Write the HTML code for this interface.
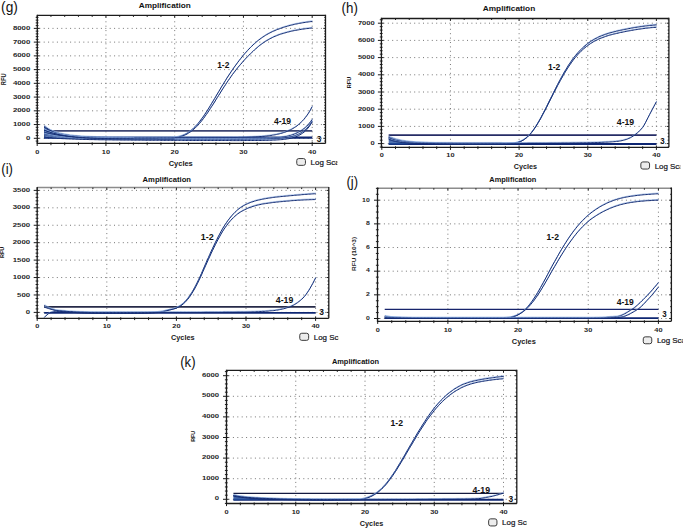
<!DOCTYPE html>
<html><head><meta charset="utf-8"><style>
html,body{margin:0;padding:0;background:#fff;width:685px;height:528px;overflow:hidden}
svg{display:block}
text{font-family:"Liberation Sans", sans-serif}
</style></head><body>
<svg width="685" height="528" viewBox="0 0 685 528" font-family='"Liberation Sans", sans-serif'>
<rect width="685" height="528" fill="#ffffff"/>
<text x="1.1" y="11.7" font-size="14.6" text-anchor="start" font-weight="normal" fill="#111" textLength="16.8" lengthAdjust="spacingAndGlyphs">(g)</text>
<text x="138.7" y="8.2" font-size="7.5" text-anchor="start" font-weight="bold" fill="#111" textLength="52.1" lengthAdjust="spacingAndGlyphs">Amplification</text>
<path d="M105.95,16.9 V142.9 M174.7,16.9 V142.9 M243.45,16.9 V142.9 M312.2,16.9 V142.9 M39.3,138.3 H324.5 M39.3,124.56 H324.5 M39.3,110.82 H324.5 M39.3,97.08 H324.5 M39.3,83.34 H324.5 M39.3,69.6 H324.5 M39.3,55.86 H324.5 M39.3,42.12 H324.5 M39.3,28.38 H324.5" stroke="#767676" stroke-width="1" stroke-dasharray="1 3.4" fill="none"/>
<path d="M37.3,15.4 H325.5" stroke="#1c1c1c" stroke-width="1.3" fill="none"/>
<path d="M325.5,14.75 V143.4 M37.3,14.75 V143.4 H325.5" stroke="#1c1c1c" stroke-width="1.3" fill="none"/>
<path d="M35.7,141.05 H38.5 M324.3,141.05 H325.5 M33.8,138.3 H39.5 M323.3,138.3 H325.5 M35.7,135.55 H38.5 M324.3,135.55 H325.5 M35.7,132.8 H38.5 M324.3,132.8 H325.5 M35.7,130.06 H38.5 M324.3,130.06 H325.5 M35.7,127.31 H38.5 M324.3,127.31 H325.5 M33.8,124.56 H39.5 M323.3,124.56 H325.5 M35.7,121.81 H38.5 M324.3,121.81 H325.5 M35.7,119.06 H38.5 M324.3,119.06 H325.5 M35.7,116.32 H38.5 M324.3,116.32 H325.5 M35.7,113.57 H38.5 M324.3,113.57 H325.5 M33.8,110.82 H39.5 M323.3,110.82 H325.5 M35.7,108.07 H38.5 M324.3,108.07 H325.5 M35.7,105.32 H38.5 M324.3,105.32 H325.5 M35.7,102.58 H38.5 M324.3,102.58 H325.5 M35.7,99.83 H38.5 M324.3,99.83 H325.5 M33.8,97.08 H39.5 M323.3,97.08 H325.5 M35.7,94.33 H38.5 M324.3,94.33 H325.5 M35.7,91.58 H38.5 M324.3,91.58 H325.5 M35.7,88.84 H38.5 M324.3,88.84 H325.5 M35.7,86.09 H38.5 M324.3,86.09 H325.5 M33.8,83.34 H39.5 M323.3,83.34 H325.5 M35.7,80.59 H38.5 M324.3,80.59 H325.5 M35.7,77.84 H38.5 M324.3,77.84 H325.5 M35.7,75.1 H38.5 M324.3,75.1 H325.5 M35.7,72.35 H38.5 M324.3,72.35 H325.5 M33.8,69.6 H39.5 M323.3,69.6 H325.5 M35.7,66.85 H38.5 M324.3,66.85 H325.5 M35.7,64.1 H38.5 M324.3,64.1 H325.5 M35.7,61.36 H38.5 M324.3,61.36 H325.5 M35.7,58.61 H38.5 M324.3,58.61 H325.5 M33.8,55.86 H39.5 M323.3,55.86 H325.5 M35.7,53.11 H38.5 M324.3,53.11 H325.5 M35.7,50.36 H38.5 M324.3,50.36 H325.5 M35.7,47.62 H38.5 M324.3,47.62 H325.5 M35.7,44.87 H38.5 M324.3,44.87 H325.5 M33.8,42.12 H39.5 M323.3,42.12 H325.5 M35.7,39.37 H38.5 M324.3,39.37 H325.5 M35.7,36.62 H38.5 M324.3,36.62 H325.5 M35.7,33.88 H38.5 M324.3,33.88 H325.5 M35.7,31.13 H38.5 M324.3,31.13 H325.5 M33.8,28.38 H39.5 M323.3,28.38 H325.5 M35.7,25.63 H38.5 M324.3,25.63 H325.5 M35.7,22.88 H38.5 M324.3,22.88 H325.5 M35.7,20.14 H38.5 M324.3,20.14 H325.5 M35.7,17.39 H38.5 M324.3,17.39 H325.5 M37.2,141.6 V146 M37.2,15.4 V17.6 M50.95,142.4 V145.2 M50.95,15.4 V16.9 M64.7,142.4 V145.2 M64.7,15.4 V16.9 M78.45,142.4 V145.2 M78.45,15.4 V16.9 M92.2,142.4 V145.2 M92.2,15.4 V16.9 M105.95,141.6 V146 M105.95,15.4 V17.6 M119.7,142.4 V145.2 M119.7,15.4 V16.9 M133.45,142.4 V145.2 M133.45,15.4 V16.9 M147.2,142.4 V145.2 M147.2,15.4 V16.9 M160.95,142.4 V145.2 M160.95,15.4 V16.9 M174.7,141.6 V146 M174.7,15.4 V17.6 M188.45,142.4 V145.2 M188.45,15.4 V16.9 M202.2,142.4 V145.2 M202.2,15.4 V16.9 M215.95,142.4 V145.2 M215.95,15.4 V16.9 M229.7,142.4 V145.2 M229.7,15.4 V16.9 M243.45,141.6 V146 M243.45,15.4 V17.6 M257.2,142.4 V145.2 M257.2,15.4 V16.9 M270.95,142.4 V145.2 M270.95,15.4 V16.9 M284.7,142.4 V145.2 M284.7,15.4 V16.9 M298.45,142.4 V145.2 M298.45,15.4 V16.9 M312.2,141.6 V146 M312.2,15.4 V17.6" stroke="#1c1c1c" stroke-width="1" fill="none"/>
<text x="30.3" y="139.9" font-size="6" text-anchor="end" font-weight="bold" fill="#1e1e26" textLength="4.35" lengthAdjust="spacingAndGlyphs">0</text>
<text x="30.3" y="126.16" font-size="6" text-anchor="end" font-weight="bold" fill="#1e1e26" textLength="17.4" lengthAdjust="spacingAndGlyphs">1000</text>
<text x="30.3" y="112.42" font-size="6" text-anchor="end" font-weight="bold" fill="#1e1e26" textLength="17.4" lengthAdjust="spacingAndGlyphs">2000</text>
<text x="30.3" y="98.68" font-size="6" text-anchor="end" font-weight="bold" fill="#1e1e26" textLength="17.4" lengthAdjust="spacingAndGlyphs">3000</text>
<text x="30.3" y="84.94" font-size="6" text-anchor="end" font-weight="bold" fill="#1e1e26" textLength="17.4" lengthAdjust="spacingAndGlyphs">4000</text>
<text x="30.3" y="71.2" font-size="6" text-anchor="end" font-weight="bold" fill="#1e1e26" textLength="17.4" lengthAdjust="spacingAndGlyphs">5000</text>
<text x="30.3" y="57.46" font-size="6" text-anchor="end" font-weight="bold" fill="#1e1e26" textLength="17.4" lengthAdjust="spacingAndGlyphs">6000</text>
<text x="30.3" y="43.72" font-size="6" text-anchor="end" font-weight="bold" fill="#1e1e26" textLength="17.4" lengthAdjust="spacingAndGlyphs">7000</text>
<text x="30.3" y="29.98" font-size="6" text-anchor="end" font-weight="bold" fill="#1e1e26" textLength="17.4" lengthAdjust="spacingAndGlyphs">8000</text>
<text x="37.2" y="153.7" font-size="6.2" text-anchor="middle" font-weight="bold" fill="#1e1e26" textLength="4.1" lengthAdjust="spacingAndGlyphs">0</text>
<text x="105.95" y="153.7" font-size="6.2" text-anchor="middle" font-weight="bold" fill="#1e1e26" textLength="8.2" lengthAdjust="spacingAndGlyphs">10</text>
<text x="174.7" y="153.7" font-size="6.2" text-anchor="middle" font-weight="bold" fill="#1e1e26" textLength="8.2" lengthAdjust="spacingAndGlyphs">20</text>
<text x="243.45" y="153.7" font-size="6.2" text-anchor="middle" font-weight="bold" fill="#1e1e26" textLength="8.2" lengthAdjust="spacingAndGlyphs">30</text>
<text x="312.2" y="153.7" font-size="6.2" text-anchor="middle" font-weight="bold" fill="#1e1e26" textLength="8.2" lengthAdjust="spacingAndGlyphs">40</text>
<text x="168.7" y="166" font-size="7" text-anchor="start" font-weight="bold" fill="#1a1a1a" textLength="24.1" lengthAdjust="spacingAndGlyphs">Cycles</text>
<text transform="translate(5.8,79.25) rotate(-90)" x="0" y="0" font-size="6.3" font-weight="bold" text-anchor="middle" fill="#1a1a1a" textLength="11.9" lengthAdjust="spacingAndGlyphs">RFU</text>
<rect x="296.75" y="158.55" width="8.7" height="6.8" rx="2" fill="#ededed" stroke="#3c3c3c" stroke-width="1"/>
<clipPath id="clipg"><rect x="0" y="0" width="337.3" height="528"/></clipPath>
<g clip-path="url(#clipg)"><text x="310.6" y="164.8" font-size="8" text-anchor="start" font-weight="normal" fill="#15151c" textLength="35.2" lengthAdjust="spacingAndGlyphs" stroke="#15151c" stroke-width="0.22">Log Scale</text></g>
<path d="M44.08,130.89 H312.2" stroke="#3e4672" stroke-width="1.9" fill="none"/>
<path d="M44.08,137.61 H312.2" stroke="#0e2672" stroke-width="2.2" fill="none"/>
<path d="M44.1,126.2 L44.8,126.7 L45.5,127.2 L46.1,127.7 L46.8,128.2 L47.5,128.7 L48.2,129.2 L48.9,129.7 L49.6,130.2 L50.3,130.6 L51.0,131.0 L51.6,131.3 L52.3,131.6 L53.0,131.9 L53.7,132.2 L54.4,132.5 L55.1,132.7 L55.8,132.9 L56.5,133.1 L57.1,133.3 L57.8,133.5 L58.5,133.7 L59.2,133.8 L59.9,134.0 L60.6,134.1 L61.3,134.3 L62.0,134.4 L62.6,134.6 L63.3,134.7 L64.0,134.8 L64.7,135.0 L65.4,135.1 L66.1,135.2 L66.8,135.3 L67.5,135.4 L68.1,135.5 L68.8,135.6 L69.5,135.7 L70.2,135.8 L70.9,135.9 L71.6,136.0 L72.3,136.0 L72.9,136.1 L73.6,136.2 L74.3,136.2 L75.0,136.3 L75.7,136.4 L76.4,136.4 L77.1,136.5 L77.8,136.6 L78.4,136.6 L79.1,136.7 L79.8,136.7 L80.5,136.8 L81.2,136.8 L81.9,136.9 L82.6,136.9 L83.3,137.0 L83.9,137.0 L84.6,137.1 L85.3,137.1 L86.0,137.2 L86.7,137.2 L87.4,137.2 L88.1,137.3 L88.8,137.3 L89.4,137.4 L90.1,137.4 L90.8,137.4 L91.5,137.4 L92.2,137.5 L92.9,137.5 L93.6,137.5 L94.3,137.6 L94.9,137.6 L95.6,137.6 L96.3,137.6 L97.0,137.7 L97.7,137.7 L98.4,137.7 L99.1,137.7 L99.8,137.8 L100.4,137.8 L101.1,137.8 L101.8,137.8 L102.5,137.8 L103.2,137.9 L103.9,137.9 L104.6,137.9 L105.3,137.9 L105.9,137.9 L106.6,137.9 L107.3,138.0 L108.0,138.0 L108.7,138.0 L109.4,138.0 L110.1,138.0 L110.8,138.0 L111.4,138.0 L112.1,138.0 L112.8,138.0 L112.8,138.3 L112.1,138.3 L111.5,138.3 L110.8,138.3 L110.1,138.3 L109.4,138.3 L108.7,138.3 L108.0,138.3 L107.3,138.3 L106.6,138.3 L106.0,138.3 L105.3,138.3 L104.6,138.3 L103.9,138.3 L103.2,138.3 L102.5,138.3 L101.8,138.3 L101.1,138.3 L100.5,138.3 L99.8,138.3 L99.1,138.3 L98.4,138.3 L97.7,138.3 L97.0,138.3 L96.3,138.3 L95.6,138.3 L95.0,138.3 L94.3,138.3 L93.6,138.3 L92.9,138.3 L92.2,138.3 L91.5,138.3 L90.8,138.3 L90.1,138.3 L89.5,138.3 L88.8,138.3 L88.1,138.3 L87.4,138.3 L86.7,138.3 L86.0,138.3 L85.3,138.3 L84.6,138.3 L84.0,138.3 L83.3,138.3 L82.6,138.3 L81.9,138.3 L81.2,138.3 L80.5,138.3 L79.8,138.3 L79.1,138.3 L78.5,138.3 L77.8,138.3 L77.1,138.3 L76.4,138.3 L75.7,138.3 L75.0,138.3 L74.3,138.3 L73.6,138.3 L73.0,138.3 L72.3,138.3 L71.6,138.3 L70.9,138.3 L70.2,138.3 L69.5,138.3 L68.8,138.3 L68.1,138.3 L67.5,138.3 L66.8,138.3 L66.1,138.3 L65.4,138.3 L64.7,138.3 L64.0,138.3 L63.3,138.3 L62.6,138.3 L62.0,138.3 L61.3,138.3 L60.6,138.3 L59.9,138.3 L59.2,138.3 L58.5,138.3 L57.8,138.3 L57.1,138.3 L56.5,138.3 L55.8,138.3 L55.1,138.3 L54.4,138.3 L53.7,138.3 L53.0,138.3 L52.3,138.3 L51.6,138.3 L51.0,138.3 L50.3,138.3 L49.6,138.3 L48.9,138.3 L48.2,138.3 L47.5,138.3 L46.8,138.3 L46.1,138.3 L45.5,138.3 L44.8,138.3 L44.1,138.3Z" fill="#234f9c" opacity="0.75"/>
<path d="M44.1,130.1 L45.5,130.6 L46.8,131.1 L48.2,131.6 L49.6,132.1 L51.0,132.5 L52.3,132.9 L53.7,133.3 L55.1,133.6 L56.5,134.0 L57.8,134.3 L59.2,134.6 L60.6,134.9 L62.0,135.1 L63.3,135.4 L64.7,135.6 L66.1,135.7 L67.5,135.9 L68.8,136.1 L70.2,136.2 L71.6,136.4 L73.0,136.5 L74.3,136.7 L75.7,136.8 L77.1,136.9 L78.5,137.0 L79.8,137.1 L81.2,137.2 L82.6,137.3 L84.0,137.4 L85.3,137.5 L86.7,137.6 L88.1,137.6 L89.5,137.7 L90.8,137.8 L92.2,137.8 L93.6,137.9 L95.0,137.9 L96.3,138.0 L97.7,138.1 L99.1,138.1 L100.4,138.1 L101.8,138.2 L103.2,138.2 L104.6,138.3 L105.9,138.3 L107.3,138.3 L108.7,138.4 L110.1,138.4 L111.4,138.4 L112.8,138.5 L114.2,138.5 L115.6,138.5 L116.9,138.5 L118.3,138.6 L119.7,138.6 L121.1,138.6 L122.4,138.6 L123.8,138.6 L125.2,138.7 L126.6,138.7 L127.9,138.7 L129.3,138.7 L130.7,138.7 L132.1,138.7 L133.4,138.7 L134.8,138.7 L136.2,138.7 L137.6,138.7 L138.9,138.7 L140.3,138.7 L141.7,138.7 L143.1,138.7 L144.4,138.7 L145.8,138.7 L147.2,138.7 L148.6,138.7 L149.9,138.7 L151.3,138.6 L152.7,138.6 L154.1,138.6 L155.4,138.6 L156.8,138.6 L158.2,138.6 L159.6,138.6 L160.9,138.5 L162.3,138.5 L163.7,138.5 L165.1,138.4 L166.4,138.4 L167.8,138.3 L169.2,138.2 L170.6,138.1 L171.9,137.9 L173.3,137.8 L174.7,137.5 L176.1,137.3 L177.4,137.1 L178.8,136.7 L180.2,136.4 L181.6,135.9 L182.9,135.4 L184.3,134.8 L185.7,134.1 L187.1,133.3 L188.4,132.4 L189.8,131.5 L191.2,130.4 L192.6,129.2 L193.9,127.9 L195.3,126.5 L196.7,125.0 L198.1,123.5 L199.4,121.8 L200.8,120.0 L202.2,118.1 L203.6,116.2 L204.9,114.2 L206.3,112.1 L207.7,109.9 L209.1,107.7 L210.4,105.5 L211.8,103.2 L213.2,100.9 L214.6,98.6 L215.9,96.3 L217.3,94.0 L218.7,91.7 L220.1,89.3 L221.4,87.0 L222.8,84.8 L224.2,82.5 L225.6,80.3 L226.9,78.1 L228.3,76.0 L229.7,73.9 L231.1,71.8 L232.4,69.8 L233.8,67.8 L235.2,65.9 L236.6,64.0 L237.9,62.2 L239.3,60.4 L240.7,58.6 L242.1,56.9 L243.4,55.2 L244.8,53.6 L246.2,52.1 L247.6,50.5 L248.9,49.1 L250.3,47.7 L251.7,46.3 L253.1,45.0 L254.4,43.7 L255.8,42.5 L257.2,41.3 L258.6,40.2 L259.9,39.2 L261.3,38.2 L262.7,37.2 L264.1,36.3 L265.4,35.4 L266.8,34.6 L268.2,33.8 L269.6,33.1 L270.9,32.4 L272.3,31.7 L273.7,31.1 L275.1,30.5 L276.4,29.9 L277.8,29.4 L279.2,28.9 L280.6,28.4 L281.9,27.9 L283.3,27.4 L284.7,27.0 L286.1,26.6 L287.4,26.2 L288.8,25.8 L290.2,25.4 L291.6,25.1 L292.9,24.8 L294.3,24.4 L295.7,24.1 L297.1,23.9 L298.4,23.6 L299.8,23.3 L301.2,23.1 L302.6,22.8 L304.0,22.6 L305.3,22.4 L306.7,22.2 L308.1,22.0 L309.5,21.8 L310.8,21.6 L312.2,21.5" stroke="#8fb0e2" stroke-width="0.8" fill="none" transform="translate(0.35,-0.75)" opacity="0.9"/>
<path d="M44.1,130.1 L45.5,130.6 L46.8,131.1 L48.2,131.6 L49.6,132.1 L51.0,132.5 L52.3,132.9 L53.7,133.3 L55.1,133.6 L56.5,134.0 L57.8,134.3 L59.2,134.6 L60.6,134.9 L62.0,135.1 L63.3,135.4 L64.7,135.6 L66.1,135.7 L67.5,135.9 L68.8,136.1 L70.2,136.2 L71.6,136.4 L73.0,136.5 L74.3,136.7 L75.7,136.8 L77.1,136.9 L78.5,137.0 L79.8,137.1 L81.2,137.2 L82.6,137.3 L84.0,137.4 L85.3,137.5 L86.7,137.6 L88.1,137.6 L89.5,137.7 L90.8,137.8 L92.2,137.8 L93.6,137.9 L95.0,137.9 L96.3,138.0 L97.7,138.1 L99.1,138.1 L100.4,138.1 L101.8,138.2 L103.2,138.2 L104.6,138.3 L105.9,138.3 L107.3,138.3 L108.7,138.4 L110.1,138.4 L111.4,138.4 L112.8,138.5 L114.2,138.5 L115.6,138.5 L116.9,138.5 L118.3,138.6 L119.7,138.6 L121.1,138.6 L122.4,138.6 L123.8,138.6 L125.2,138.7 L126.6,138.7 L127.9,138.7 L129.3,138.7 L130.7,138.7 L132.1,138.7 L133.4,138.7 L134.8,138.7 L136.2,138.7 L137.6,138.7 L138.9,138.7 L140.3,138.7 L141.7,138.7 L143.1,138.7 L144.4,138.7 L145.8,138.7 L147.2,138.7 L148.6,138.7 L149.9,138.7 L151.3,138.6 L152.7,138.6 L154.1,138.6 L155.4,138.6 L156.8,138.6 L158.2,138.6 L159.6,138.6 L160.9,138.5 L162.3,138.5 L163.7,138.5 L165.1,138.4 L166.4,138.4 L167.8,138.3 L169.2,138.2 L170.6,138.1 L171.9,137.9 L173.3,137.8 L174.7,137.5 L176.1,137.3 L177.4,137.1 L178.8,136.7 L180.2,136.4 L181.6,135.9 L182.9,135.4 L184.3,134.8 L185.7,134.1 L187.1,133.3 L188.4,132.4 L189.8,131.5 L191.2,130.4 L192.6,129.2 L193.9,127.9 L195.3,126.5 L196.7,125.0 L198.1,123.5 L199.4,121.8 L200.8,120.0 L202.2,118.1 L203.6,116.2 L204.9,114.2 L206.3,112.1 L207.7,109.9 L209.1,107.7 L210.4,105.5 L211.8,103.2 L213.2,100.9 L214.6,98.6 L215.9,96.3 L217.3,94.0 L218.7,91.7 L220.1,89.3 L221.4,87.0 L222.8,84.8 L224.2,82.5 L225.6,80.3 L226.9,78.1 L228.3,76.0 L229.7,73.9 L231.1,71.8 L232.4,69.8 L233.8,67.8 L235.2,65.9 L236.6,64.0 L237.9,62.2 L239.3,60.4 L240.7,58.6 L242.1,56.9 L243.4,55.2 L244.8,53.6 L246.2,52.1 L247.6,50.5 L248.9,49.1 L250.3,47.7 L251.7,46.3 L253.1,45.0 L254.4,43.7 L255.8,42.5 L257.2,41.3 L258.6,40.2 L259.9,39.2 L261.3,38.2 L262.7,37.2 L264.1,36.3 L265.4,35.4 L266.8,34.6 L268.2,33.8 L269.6,33.1 L270.9,32.4 L272.3,31.7 L273.7,31.1 L275.1,30.5 L276.4,29.9 L277.8,29.4 L279.2,28.9 L280.6,28.4 L281.9,27.9 L283.3,27.4 L284.7,27.0 L286.1,26.6 L287.4,26.2 L288.8,25.8 L290.2,25.4 L291.6,25.1 L292.9,24.8 L294.3,24.4 L295.7,24.1 L297.1,23.9 L298.4,23.6 L299.8,23.3 L301.2,23.1 L302.6,22.8 L304.0,22.6 L305.3,22.4 L306.7,22.2 L308.1,22.0 L309.5,21.8 L310.8,21.6 L312.2,21.5" stroke="#152e75" stroke-width="1" fill="none" stroke-linejoin="round"/>
<path d="M44.1,132.1 L45.5,132.5 L46.8,132.8 L48.2,133.2 L49.6,133.5 L51.0,133.8 L52.3,134.0 L53.7,134.3 L55.1,134.6 L56.5,134.8 L57.8,135.1 L59.2,135.3 L60.6,135.5 L62.0,135.8 L63.3,135.9 L64.7,136.1 L66.1,136.3 L67.5,136.4 L68.8,136.5 L70.2,136.7 L71.6,136.8 L73.0,136.9 L74.3,137.0 L75.7,137.1 L77.1,137.3 L78.5,137.3 L79.8,137.4 L81.2,137.5 L82.6,137.6 L84.0,137.7 L85.3,137.8 L86.7,137.8 L88.1,137.9 L89.5,137.9 L90.8,138.0 L92.2,138.0 L93.6,138.1 L95.0,138.1 L96.3,138.2 L97.7,138.2 L99.1,138.3 L100.4,138.3 L101.8,138.3 L103.2,138.4 L104.6,138.4 L105.9,138.4 L107.3,138.5 L108.7,138.5 L110.1,138.5 L111.4,138.6 L112.8,138.6 L114.2,138.6 L115.6,138.6 L116.9,138.7 L118.3,138.7 L119.7,138.7 L121.1,138.7 L122.4,138.8 L123.8,138.8 L125.2,138.8 L126.6,138.8 L127.9,138.8 L129.3,138.8 L130.7,138.8 L132.1,138.8 L133.4,138.8 L134.8,138.8 L136.2,138.8 L137.6,138.8 L138.9,138.8 L140.3,138.8 L141.7,138.8 L143.1,138.8 L144.4,138.8 L145.8,138.8 L147.2,138.8 L148.6,138.8 L149.9,138.8 L151.3,138.8 L152.7,138.8 L154.1,138.8 L155.4,138.8 L156.8,138.7 L158.2,138.7 L159.6,138.7 L160.9,138.7 L162.3,138.7 L163.7,138.6 L165.1,138.6 L166.4,138.5 L167.8,138.4 L169.2,138.3 L170.6,138.2 L171.9,138.1 L173.3,137.9 L174.7,137.8 L176.1,137.6 L177.4,137.4 L178.8,137.1 L180.2,136.7 L181.6,136.3 L182.9,135.9 L184.3,135.3 L185.7,134.7 L187.1,134.0 L188.4,133.2 L189.8,132.3 L191.2,131.4 L192.6,130.3 L193.9,129.1 L195.3,127.9 L196.7,126.5 L198.1,125.1 L199.4,123.5 L200.8,121.9 L202.2,120.2 L203.6,118.4 L204.9,116.5 L206.3,114.6 L207.7,112.6 L209.1,110.5 L210.4,108.4 L211.8,106.3 L213.2,104.2 L214.6,102.0 L215.9,99.8 L217.3,97.6 L218.7,95.4 L220.1,93.2 L221.4,91.0 L222.8,88.8 L224.2,86.7 L225.6,84.6 L226.9,82.5 L228.3,80.5 L229.7,78.5 L231.1,76.5 L232.4,74.6 L233.8,72.8 L235.2,71.0 L236.6,69.2 L237.9,67.5 L239.3,65.9 L240.7,64.3 L242.1,62.7 L243.4,61.1 L244.8,59.6 L246.2,58.1 L247.6,56.7 L248.9,55.3 L250.3,53.9 L251.7,52.6 L253.1,51.3 L254.4,50.0 L255.8,48.8 L257.2,47.6 L258.6,46.4 L259.9,45.3 L261.3,44.3 L262.7,43.3 L264.1,42.3 L265.4,41.4 L266.8,40.6 L268.2,39.8 L269.6,39.0 L270.9,38.3 L272.3,37.6 L273.7,36.9 L275.1,36.3 L276.4,35.8 L277.8,35.2 L279.2,34.7 L280.6,34.2 L281.9,33.8 L283.3,33.4 L284.7,33.0 L286.1,32.6 L287.4,32.2 L288.8,31.9 L290.2,31.5 L291.6,31.2 L292.9,30.9 L294.3,30.6 L295.7,30.4 L297.1,30.1 L298.4,29.9 L299.8,29.6 L301.2,29.4 L302.6,29.2 L304.0,29.0 L305.3,28.8 L306.7,28.6 L308.1,28.5 L309.5,28.3 L310.8,28.2 L312.2,28.0" stroke="#8fb0e2" stroke-width="0.8" fill="none" transform="translate(0.35,-0.75)" opacity="0.9"/>
<path d="M44.1,132.1 L45.5,132.5 L46.8,132.8 L48.2,133.2 L49.6,133.5 L51.0,133.8 L52.3,134.0 L53.7,134.3 L55.1,134.6 L56.5,134.8 L57.8,135.1 L59.2,135.3 L60.6,135.5 L62.0,135.8 L63.3,135.9 L64.7,136.1 L66.1,136.3 L67.5,136.4 L68.8,136.5 L70.2,136.7 L71.6,136.8 L73.0,136.9 L74.3,137.0 L75.7,137.1 L77.1,137.3 L78.5,137.3 L79.8,137.4 L81.2,137.5 L82.6,137.6 L84.0,137.7 L85.3,137.8 L86.7,137.8 L88.1,137.9 L89.5,137.9 L90.8,138.0 L92.2,138.0 L93.6,138.1 L95.0,138.1 L96.3,138.2 L97.7,138.2 L99.1,138.3 L100.4,138.3 L101.8,138.3 L103.2,138.4 L104.6,138.4 L105.9,138.4 L107.3,138.5 L108.7,138.5 L110.1,138.5 L111.4,138.6 L112.8,138.6 L114.2,138.6 L115.6,138.6 L116.9,138.7 L118.3,138.7 L119.7,138.7 L121.1,138.7 L122.4,138.8 L123.8,138.8 L125.2,138.8 L126.6,138.8 L127.9,138.8 L129.3,138.8 L130.7,138.8 L132.1,138.8 L133.4,138.8 L134.8,138.8 L136.2,138.8 L137.6,138.8 L138.9,138.8 L140.3,138.8 L141.7,138.8 L143.1,138.8 L144.4,138.8 L145.8,138.8 L147.2,138.8 L148.6,138.8 L149.9,138.8 L151.3,138.8 L152.7,138.8 L154.1,138.8 L155.4,138.8 L156.8,138.7 L158.2,138.7 L159.6,138.7 L160.9,138.7 L162.3,138.7 L163.7,138.6 L165.1,138.6 L166.4,138.5 L167.8,138.4 L169.2,138.3 L170.6,138.2 L171.9,138.1 L173.3,137.9 L174.7,137.8 L176.1,137.6 L177.4,137.4 L178.8,137.1 L180.2,136.7 L181.6,136.3 L182.9,135.9 L184.3,135.3 L185.7,134.7 L187.1,134.0 L188.4,133.2 L189.8,132.3 L191.2,131.4 L192.6,130.3 L193.9,129.1 L195.3,127.9 L196.7,126.5 L198.1,125.1 L199.4,123.5 L200.8,121.9 L202.2,120.2 L203.6,118.4 L204.9,116.5 L206.3,114.6 L207.7,112.6 L209.1,110.5 L210.4,108.4 L211.8,106.3 L213.2,104.2 L214.6,102.0 L215.9,99.8 L217.3,97.6 L218.7,95.4 L220.1,93.2 L221.4,91.0 L222.8,88.8 L224.2,86.7 L225.6,84.6 L226.9,82.5 L228.3,80.5 L229.7,78.5 L231.1,76.5 L232.4,74.6 L233.8,72.8 L235.2,71.0 L236.6,69.2 L237.9,67.5 L239.3,65.9 L240.7,64.3 L242.1,62.7 L243.4,61.1 L244.8,59.6 L246.2,58.1 L247.6,56.7 L248.9,55.3 L250.3,53.9 L251.7,52.6 L253.1,51.3 L254.4,50.0 L255.8,48.8 L257.2,47.6 L258.6,46.4 L259.9,45.3 L261.3,44.3 L262.7,43.3 L264.1,42.3 L265.4,41.4 L266.8,40.6 L268.2,39.8 L269.6,39.0 L270.9,38.3 L272.3,37.6 L273.7,36.9 L275.1,36.3 L276.4,35.8 L277.8,35.2 L279.2,34.7 L280.6,34.2 L281.9,33.8 L283.3,33.4 L284.7,33.0 L286.1,32.6 L287.4,32.2 L288.8,31.9 L290.2,31.5 L291.6,31.2 L292.9,30.9 L294.3,30.6 L295.7,30.4 L297.1,30.1 L298.4,29.9 L299.8,29.6 L301.2,29.4 L302.6,29.2 L304.0,29.0 L305.3,28.8 L306.7,28.6 L308.1,28.5 L309.5,28.3 L310.8,28.2 L312.2,28.0" stroke="#152e75" stroke-width="1" fill="none" stroke-linejoin="round"/>
<path d="M44.1,127.3 L45.5,128.1 L46.8,128.9 L48.2,129.5 L49.6,130.2 L51.0,130.8 L52.3,131.3 L53.7,131.8 L55.1,132.2 L56.5,132.7 L57.8,133.1 L59.2,133.4 L60.6,133.8 L62.0,134.1 L63.3,134.3 L64.7,134.6 L66.1,134.8 L67.5,135.1 L68.8,135.3 L70.2,135.5 L71.6,135.6 L73.0,135.8 L74.3,136.0 L75.7,136.1 L77.1,136.2 L78.5,136.3 L79.8,136.4 L81.2,136.5 L82.6,136.6 L84.0,136.7 L85.3,136.8 L86.7,136.9 L88.1,136.9 L89.5,137.0 L90.8,137.1 L92.2,137.1 L93.6,137.2 L95.0,137.2 L96.3,137.3 L97.7,137.3 L99.1,137.3 L100.4,137.4 L101.8,137.4 L103.2,137.4 L104.6,137.4 L105.9,137.5 L107.3,137.5 L108.7,137.5 L110.1,137.5 L111.4,137.5 L112.8,137.6 L114.2,137.6 L115.6,137.6 L116.9,137.6 L118.3,137.6 L119.7,137.6 L121.1,137.6 L122.4,137.6 L123.8,137.6 L125.2,137.7 L126.6,137.7 L127.9,137.7 L129.3,137.7 L130.7,137.7 L132.1,137.7 L133.4,137.7 L134.8,137.7 L136.2,137.7 L137.6,137.7 L138.9,137.7 L140.3,137.7 L141.7,137.7 L143.1,137.7 L144.4,137.7 L145.8,137.7 L147.2,137.7 L148.6,137.7 L149.9,137.7 L151.3,137.7 L152.7,137.7 L154.1,137.7 L155.4,137.7 L156.8,137.7 L158.2,137.7 L159.6,137.7 L160.9,137.7 L162.3,137.7 L163.7,137.7 L165.1,137.7 L166.4,137.7 L167.8,137.7 L169.2,137.7 L170.6,137.7 L171.9,137.7 L173.3,137.7 L174.7,137.7 L176.1,137.7 L177.4,137.7 L178.8,137.7 L180.2,137.7 L181.6,137.7 L182.9,137.7 L184.3,137.7 L185.7,137.7 L187.1,137.7 L188.4,137.7 L189.8,137.7 L191.2,137.7 L192.6,137.7 L193.9,137.7 L195.3,137.7 L196.7,137.7 L198.1,137.7 L199.4,137.7 L200.8,137.7 L202.2,137.7 L203.6,137.7 L204.9,137.7 L206.3,137.7 L207.7,137.7 L209.1,137.7 L210.4,137.7 L211.8,137.7 L213.2,137.7 L214.6,137.7 L215.9,137.7 L217.3,137.7 L218.7,137.7 L220.1,137.7 L221.4,137.6 L222.8,137.6 L224.2,137.6 L225.6,137.6 L226.9,137.6 L228.3,137.6 L229.7,137.6 L231.1,137.6 L232.4,137.5 L233.8,137.5 L235.2,137.5 L236.6,137.5 L237.9,137.5 L239.3,137.4 L240.7,137.4 L242.1,137.4 L243.4,137.3 L244.8,137.3 L246.2,137.3 L247.6,137.2 L248.9,137.2 L250.3,137.1 L251.7,137.1 L253.1,137.0 L254.4,136.9 L255.8,136.9 L257.2,136.8 L258.6,136.7 L259.9,136.6 L261.3,136.5 L262.7,136.4 L264.1,136.3 L265.4,136.1 L266.8,136.0 L268.2,135.8 L269.6,135.6 L270.9,135.5 L272.3,135.2 L273.7,135.0 L275.1,134.8 L276.4,134.5 L277.8,134.2 L279.2,133.9 L280.6,133.5 L281.9,133.2 L283.3,132.7 L284.7,132.3 L286.1,131.8 L287.4,131.2 L288.8,130.6 L290.2,130.0 L291.6,129.3 L292.9,128.5 L294.3,127.7 L295.7,126.8 L297.1,125.8 L298.4,124.7 L299.8,123.5 L301.2,122.2 L302.6,120.8 L304.0,119.3 L305.3,117.6 L306.7,115.8 L308.1,113.8 L309.5,111.6 L310.8,109.2 L312.2,106.6" stroke="#8fb0e2" stroke-width="0.8" fill="none" transform="translate(0.35,-0.75)" opacity="0.9"/>
<path d="M44.1,127.3 L45.5,128.1 L46.8,128.9 L48.2,129.5 L49.6,130.2 L51.0,130.8 L52.3,131.3 L53.7,131.8 L55.1,132.2 L56.5,132.7 L57.8,133.1 L59.2,133.4 L60.6,133.8 L62.0,134.1 L63.3,134.3 L64.7,134.6 L66.1,134.8 L67.5,135.1 L68.8,135.3 L70.2,135.5 L71.6,135.6 L73.0,135.8 L74.3,136.0 L75.7,136.1 L77.1,136.2 L78.5,136.3 L79.8,136.4 L81.2,136.5 L82.6,136.6 L84.0,136.7 L85.3,136.8 L86.7,136.9 L88.1,136.9 L89.5,137.0 L90.8,137.1 L92.2,137.1 L93.6,137.2 L95.0,137.2 L96.3,137.3 L97.7,137.3 L99.1,137.3 L100.4,137.4 L101.8,137.4 L103.2,137.4 L104.6,137.4 L105.9,137.5 L107.3,137.5 L108.7,137.5 L110.1,137.5 L111.4,137.5 L112.8,137.6 L114.2,137.6 L115.6,137.6 L116.9,137.6 L118.3,137.6 L119.7,137.6 L121.1,137.6 L122.4,137.6 L123.8,137.6 L125.2,137.7 L126.6,137.7 L127.9,137.7 L129.3,137.7 L130.7,137.7 L132.1,137.7 L133.4,137.7 L134.8,137.7 L136.2,137.7 L137.6,137.7 L138.9,137.7 L140.3,137.7 L141.7,137.7 L143.1,137.7 L144.4,137.7 L145.8,137.7 L147.2,137.7 L148.6,137.7 L149.9,137.7 L151.3,137.7 L152.7,137.7 L154.1,137.7 L155.4,137.7 L156.8,137.7 L158.2,137.7 L159.6,137.7 L160.9,137.7 L162.3,137.7 L163.7,137.7 L165.1,137.7 L166.4,137.7 L167.8,137.7 L169.2,137.7 L170.6,137.7 L171.9,137.7 L173.3,137.7 L174.7,137.7 L176.1,137.7 L177.4,137.7 L178.8,137.7 L180.2,137.7 L181.6,137.7 L182.9,137.7 L184.3,137.7 L185.7,137.7 L187.1,137.7 L188.4,137.7 L189.8,137.7 L191.2,137.7 L192.6,137.7 L193.9,137.7 L195.3,137.7 L196.7,137.7 L198.1,137.7 L199.4,137.7 L200.8,137.7 L202.2,137.7 L203.6,137.7 L204.9,137.7 L206.3,137.7 L207.7,137.7 L209.1,137.7 L210.4,137.7 L211.8,137.7 L213.2,137.7 L214.6,137.7 L215.9,137.7 L217.3,137.7 L218.7,137.7 L220.1,137.7 L221.4,137.6 L222.8,137.6 L224.2,137.6 L225.6,137.6 L226.9,137.6 L228.3,137.6 L229.7,137.6 L231.1,137.6 L232.4,137.5 L233.8,137.5 L235.2,137.5 L236.6,137.5 L237.9,137.5 L239.3,137.4 L240.7,137.4 L242.1,137.4 L243.4,137.3 L244.8,137.3 L246.2,137.3 L247.6,137.2 L248.9,137.2 L250.3,137.1 L251.7,137.1 L253.1,137.0 L254.4,136.9 L255.8,136.9 L257.2,136.8 L258.6,136.7 L259.9,136.6 L261.3,136.5 L262.7,136.4 L264.1,136.3 L265.4,136.1 L266.8,136.0 L268.2,135.8 L269.6,135.6 L270.9,135.5 L272.3,135.2 L273.7,135.0 L275.1,134.8 L276.4,134.5 L277.8,134.2 L279.2,133.9 L280.6,133.5 L281.9,133.2 L283.3,132.7 L284.7,132.3 L286.1,131.8 L287.4,131.2 L288.8,130.6 L290.2,130.0 L291.6,129.3 L292.9,128.5 L294.3,127.7 L295.7,126.8 L297.1,125.8 L298.4,124.7 L299.8,123.5 L301.2,122.2 L302.6,120.8 L304.0,119.3 L305.3,117.6 L306.7,115.8 L308.1,113.8 L309.5,111.6 L310.8,109.2 L312.2,106.6" stroke="#152e75" stroke-width="1" fill="none" stroke-linejoin="round"/>
<path d="M44.1,134.2 L45.5,134.6 L46.8,135.0 L48.2,135.3 L49.6,135.6 L51.0,135.9 L52.3,136.2 L53.7,136.4 L55.1,136.6 L56.5,136.8 L57.8,137.0 L59.2,137.2 L60.6,137.3 L62.0,137.5 L63.3,137.6 L64.7,137.7 L66.1,137.8 L67.5,137.9 L68.8,138.0 L70.2,138.1 L71.6,138.1 L73.0,138.2 L74.3,138.3 L75.7,138.3 L77.1,138.4 L78.5,138.4 L79.8,138.5 L81.2,138.5 L82.6,138.5 L84.0,138.6 L85.3,138.6 L86.7,138.6 L88.1,138.7 L89.5,138.7 L90.8,138.7 L92.2,138.7 L93.6,138.8 L95.0,138.8 L96.3,138.8 L97.7,138.8 L99.1,138.8 L100.4,138.8 L101.8,138.9 L103.2,138.9 L104.6,138.9 L105.9,138.9 L107.3,138.9 L108.7,138.9 L110.1,138.9 L111.4,138.9 L112.8,138.9 L114.2,138.9 L115.6,139.0 L116.9,139.0 L118.3,139.0 L119.7,139.0 L121.1,139.0 L122.4,139.0 L123.8,139.0 L125.2,139.0 L126.6,139.0 L127.9,139.0 L129.3,139.0 L130.7,139.0 L132.1,139.0 L133.4,139.0 L134.8,139.0 L136.2,139.0 L137.6,139.0 L138.9,139.0 L140.3,139.0 L141.7,139.0 L143.1,139.0 L144.4,139.0 L145.8,139.1 L147.2,139.1 L148.6,139.1 L149.9,139.1 L151.3,139.1 L152.7,139.1 L154.1,139.1 L155.4,139.1 L156.8,139.1 L158.2,139.1 L159.6,139.1 L160.9,139.1 L162.3,139.1 L163.7,139.1 L165.1,139.1 L166.4,139.1 L167.8,139.1 L169.2,139.1 L170.6,139.1 L171.9,139.1 L173.3,139.1 L174.7,139.1 L176.1,139.1 L177.4,139.1 L178.8,139.1 L180.2,139.1 L181.6,139.1 L182.9,139.1 L184.3,139.1 L185.7,139.1 L187.1,139.1 L188.4,139.1 L189.8,139.1 L191.2,139.1 L192.6,139.1 L193.9,139.1 L195.3,139.1 L196.7,139.1 L198.1,139.1 L199.4,139.1 L200.8,139.1 L202.2,139.1 L203.6,139.1 L204.9,139.1 L206.3,139.1 L207.7,139.1 L209.1,139.1 L210.4,139.1 L211.8,139.1 L213.2,139.1 L214.6,139.1 L215.9,139.1 L217.3,139.1 L218.7,139.1 L220.1,139.1 L221.4,139.1 L222.8,139.1 L224.2,139.1 L225.6,139.1 L226.9,139.1 L228.3,139.1 L229.7,139.1 L231.1,139.1 L232.4,139.1 L233.8,139.1 L235.2,139.1 L236.6,139.1 L237.9,139.0 L239.3,139.0 L240.7,139.0 L242.1,139.0 L243.4,139.0 L244.8,139.0 L246.2,139.0 L247.6,139.0 L248.9,139.0 L250.3,138.9 L251.7,138.9 L253.1,138.9 L254.4,138.9 L255.8,138.9 L257.2,138.8 L258.6,138.8 L259.9,138.8 L261.3,138.7 L262.7,138.7 L264.1,138.6 L265.4,138.6 L266.8,138.5 L268.2,138.4 L269.6,138.4 L270.9,138.3 L272.3,138.2 L273.7,138.1 L275.1,138.0 L276.4,137.8 L277.8,137.7 L279.2,137.5 L280.6,137.4 L281.9,137.2 L283.3,137.0 L284.7,136.7 L286.1,136.5 L287.4,136.2 L288.8,135.8 L290.2,135.5 L291.6,135.1 L292.9,134.6 L294.3,134.1 L295.7,133.5 L297.1,132.9 L298.4,132.2 L299.8,131.5 L301.2,130.6 L302.6,129.7 L304.0,128.6 L305.3,127.5 L306.7,126.2 L308.1,124.7 L309.5,123.1 L310.8,121.4 L312.2,119.4" stroke="#8fb0e2" stroke-width="0.8" fill="none" transform="translate(0.35,-0.75)" opacity="0.9"/>
<path d="M44.1,134.2 L45.5,134.6 L46.8,135.0 L48.2,135.3 L49.6,135.6 L51.0,135.9 L52.3,136.2 L53.7,136.4 L55.1,136.6 L56.5,136.8 L57.8,137.0 L59.2,137.2 L60.6,137.3 L62.0,137.5 L63.3,137.6 L64.7,137.7 L66.1,137.8 L67.5,137.9 L68.8,138.0 L70.2,138.1 L71.6,138.1 L73.0,138.2 L74.3,138.3 L75.7,138.3 L77.1,138.4 L78.5,138.4 L79.8,138.5 L81.2,138.5 L82.6,138.5 L84.0,138.6 L85.3,138.6 L86.7,138.6 L88.1,138.7 L89.5,138.7 L90.8,138.7 L92.2,138.7 L93.6,138.8 L95.0,138.8 L96.3,138.8 L97.7,138.8 L99.1,138.8 L100.4,138.8 L101.8,138.9 L103.2,138.9 L104.6,138.9 L105.9,138.9 L107.3,138.9 L108.7,138.9 L110.1,138.9 L111.4,138.9 L112.8,138.9 L114.2,138.9 L115.6,139.0 L116.9,139.0 L118.3,139.0 L119.7,139.0 L121.1,139.0 L122.4,139.0 L123.8,139.0 L125.2,139.0 L126.6,139.0 L127.9,139.0 L129.3,139.0 L130.7,139.0 L132.1,139.0 L133.4,139.0 L134.8,139.0 L136.2,139.0 L137.6,139.0 L138.9,139.0 L140.3,139.0 L141.7,139.0 L143.1,139.0 L144.4,139.0 L145.8,139.1 L147.2,139.1 L148.6,139.1 L149.9,139.1 L151.3,139.1 L152.7,139.1 L154.1,139.1 L155.4,139.1 L156.8,139.1 L158.2,139.1 L159.6,139.1 L160.9,139.1 L162.3,139.1 L163.7,139.1 L165.1,139.1 L166.4,139.1 L167.8,139.1 L169.2,139.1 L170.6,139.1 L171.9,139.1 L173.3,139.1 L174.7,139.1 L176.1,139.1 L177.4,139.1 L178.8,139.1 L180.2,139.1 L181.6,139.1 L182.9,139.1 L184.3,139.1 L185.7,139.1 L187.1,139.1 L188.4,139.1 L189.8,139.1 L191.2,139.1 L192.6,139.1 L193.9,139.1 L195.3,139.1 L196.7,139.1 L198.1,139.1 L199.4,139.1 L200.8,139.1 L202.2,139.1 L203.6,139.1 L204.9,139.1 L206.3,139.1 L207.7,139.1 L209.1,139.1 L210.4,139.1 L211.8,139.1 L213.2,139.1 L214.6,139.1 L215.9,139.1 L217.3,139.1 L218.7,139.1 L220.1,139.1 L221.4,139.1 L222.8,139.1 L224.2,139.1 L225.6,139.1 L226.9,139.1 L228.3,139.1 L229.7,139.1 L231.1,139.1 L232.4,139.1 L233.8,139.1 L235.2,139.1 L236.6,139.1 L237.9,139.0 L239.3,139.0 L240.7,139.0 L242.1,139.0 L243.4,139.0 L244.8,139.0 L246.2,139.0 L247.6,139.0 L248.9,139.0 L250.3,138.9 L251.7,138.9 L253.1,138.9 L254.4,138.9 L255.8,138.9 L257.2,138.8 L258.6,138.8 L259.9,138.8 L261.3,138.7 L262.7,138.7 L264.1,138.6 L265.4,138.6 L266.8,138.5 L268.2,138.4 L269.6,138.4 L270.9,138.3 L272.3,138.2 L273.7,138.1 L275.1,138.0 L276.4,137.8 L277.8,137.7 L279.2,137.5 L280.6,137.4 L281.9,137.2 L283.3,137.0 L284.7,136.7 L286.1,136.5 L287.4,136.2 L288.8,135.8 L290.2,135.5 L291.6,135.1 L292.9,134.6 L294.3,134.1 L295.7,133.5 L297.1,132.9 L298.4,132.2 L299.8,131.5 L301.2,130.6 L302.6,129.7 L304.0,128.6 L305.3,127.5 L306.7,126.2 L308.1,124.7 L309.5,123.1 L310.8,121.4 L312.2,119.4" stroke="#152e75" stroke-width="1" fill="none" stroke-linejoin="round"/>
<path d="M44.1,135.6 L45.5,135.9 L46.8,136.1 L48.2,136.4 L49.6,136.6 L51.0,136.8 L52.3,137.0 L53.7,137.2 L55.1,137.4 L56.5,137.5 L57.8,137.6 L59.2,137.8 L60.6,137.9 L62.0,138.0 L63.3,138.1 L64.7,138.2 L66.1,138.3 L67.5,138.3 L68.8,138.4 L70.2,138.5 L71.6,138.5 L73.0,138.6 L74.3,138.6 L75.7,138.7 L77.1,138.7 L78.5,138.8 L79.8,138.8 L81.2,138.8 L82.6,138.9 L84.0,138.9 L85.3,138.9 L86.7,139.0 L88.1,139.0 L89.5,139.0 L90.8,139.0 L92.2,139.1 L93.6,139.1 L95.0,139.1 L96.3,139.1 L97.7,139.1 L99.1,139.2 L100.4,139.2 L101.8,139.2 L103.2,139.2 L104.6,139.2 L105.9,139.2 L107.3,139.2 L108.7,139.3 L110.1,139.3 L111.4,139.3 L112.8,139.3 L114.2,139.3 L115.6,139.3 L116.9,139.3 L118.3,139.3 L119.7,139.3 L121.1,139.3 L122.4,139.3 L123.8,139.3 L125.2,139.4 L126.6,139.4 L127.9,139.4 L129.3,139.4 L130.7,139.4 L132.1,139.4 L133.4,139.4 L134.8,139.4 L136.2,139.4 L137.6,139.4 L138.9,139.4 L140.3,139.4 L141.7,139.4 L143.1,139.4 L144.4,139.4 L145.8,139.4 L147.2,139.4 L148.6,139.4 L149.9,139.4 L151.3,139.4 L152.7,139.4 L154.1,139.4 L155.4,139.5 L156.8,139.5 L158.2,139.5 L159.6,139.5 L160.9,139.5 L162.3,139.5 L163.7,139.5 L165.1,139.5 L166.4,139.5 L167.8,139.5 L169.2,139.5 L170.6,139.5 L171.9,139.5 L173.3,139.5 L174.7,139.5 L176.1,139.5 L177.4,139.5 L178.8,139.5 L180.2,139.5 L181.6,139.5 L182.9,139.5 L184.3,139.5 L185.7,139.5 L187.1,139.5 L188.4,139.5 L189.8,139.5 L191.2,139.5 L192.6,139.5 L193.9,139.5 L195.3,139.5 L196.7,139.5 L198.1,139.5 L199.4,139.5 L200.8,139.5 L202.2,139.5 L203.6,139.5 L204.9,139.5 L206.3,139.5 L207.7,139.5 L209.1,139.5 L210.4,139.5 L211.8,139.5 L213.2,139.5 L214.6,139.5 L215.9,139.5 L217.3,139.5 L218.7,139.5 L220.1,139.5 L221.4,139.5 L222.8,139.5 L224.2,139.5 L225.6,139.5 L226.9,139.5 L228.3,139.5 L229.7,139.5 L231.1,139.5 L232.4,139.5 L233.8,139.5 L235.2,139.5 L236.6,139.5 L237.9,139.5 L239.3,139.5 L240.7,139.5 L242.1,139.5 L243.4,139.5 L244.8,139.5 L246.2,139.5 L247.6,139.5 L248.9,139.5 L250.3,139.5 L251.7,139.5 L253.1,139.4 L254.4,139.4 L255.8,139.4 L257.2,139.4 L258.6,139.4 L259.9,139.4 L261.3,139.3 L262.7,139.3 L264.1,139.3 L265.4,139.3 L266.8,139.2 L268.2,139.2 L269.6,139.1 L270.9,139.1 L272.3,139.0 L273.7,139.0 L275.1,138.9 L276.4,138.8 L277.8,138.7 L279.2,138.6 L280.6,138.5 L281.9,138.4 L283.3,138.2 L284.7,138.0 L286.1,137.8 L287.4,137.6 L288.8,137.3 L290.2,137.0 L291.6,136.7 L292.9,136.3 L294.3,135.9 L295.7,135.4 L297.1,134.9 L298.4,134.3 L299.8,133.6 L301.2,132.8 L302.6,131.9 L304.0,130.8 L305.3,129.7 L306.7,128.4 L308.1,126.9 L309.5,125.2 L310.8,123.3 L312.2,121.1" stroke="#8fb0e2" stroke-width="0.8" fill="none" transform="translate(0.35,-0.75)" opacity="0.9"/>
<path d="M44.1,135.6 L45.5,135.9 L46.8,136.1 L48.2,136.4 L49.6,136.6 L51.0,136.8 L52.3,137.0 L53.7,137.2 L55.1,137.4 L56.5,137.5 L57.8,137.6 L59.2,137.8 L60.6,137.9 L62.0,138.0 L63.3,138.1 L64.7,138.2 L66.1,138.3 L67.5,138.3 L68.8,138.4 L70.2,138.5 L71.6,138.5 L73.0,138.6 L74.3,138.6 L75.7,138.7 L77.1,138.7 L78.5,138.8 L79.8,138.8 L81.2,138.8 L82.6,138.9 L84.0,138.9 L85.3,138.9 L86.7,139.0 L88.1,139.0 L89.5,139.0 L90.8,139.0 L92.2,139.1 L93.6,139.1 L95.0,139.1 L96.3,139.1 L97.7,139.1 L99.1,139.2 L100.4,139.2 L101.8,139.2 L103.2,139.2 L104.6,139.2 L105.9,139.2 L107.3,139.2 L108.7,139.3 L110.1,139.3 L111.4,139.3 L112.8,139.3 L114.2,139.3 L115.6,139.3 L116.9,139.3 L118.3,139.3 L119.7,139.3 L121.1,139.3 L122.4,139.3 L123.8,139.3 L125.2,139.4 L126.6,139.4 L127.9,139.4 L129.3,139.4 L130.7,139.4 L132.1,139.4 L133.4,139.4 L134.8,139.4 L136.2,139.4 L137.6,139.4 L138.9,139.4 L140.3,139.4 L141.7,139.4 L143.1,139.4 L144.4,139.4 L145.8,139.4 L147.2,139.4 L148.6,139.4 L149.9,139.4 L151.3,139.4 L152.7,139.4 L154.1,139.4 L155.4,139.5 L156.8,139.5 L158.2,139.5 L159.6,139.5 L160.9,139.5 L162.3,139.5 L163.7,139.5 L165.1,139.5 L166.4,139.5 L167.8,139.5 L169.2,139.5 L170.6,139.5 L171.9,139.5 L173.3,139.5 L174.7,139.5 L176.1,139.5 L177.4,139.5 L178.8,139.5 L180.2,139.5 L181.6,139.5 L182.9,139.5 L184.3,139.5 L185.7,139.5 L187.1,139.5 L188.4,139.5 L189.8,139.5 L191.2,139.5 L192.6,139.5 L193.9,139.5 L195.3,139.5 L196.7,139.5 L198.1,139.5 L199.4,139.5 L200.8,139.5 L202.2,139.5 L203.6,139.5 L204.9,139.5 L206.3,139.5 L207.7,139.5 L209.1,139.5 L210.4,139.5 L211.8,139.5 L213.2,139.5 L214.6,139.5 L215.9,139.5 L217.3,139.5 L218.7,139.5 L220.1,139.5 L221.4,139.5 L222.8,139.5 L224.2,139.5 L225.6,139.5 L226.9,139.5 L228.3,139.5 L229.7,139.5 L231.1,139.5 L232.4,139.5 L233.8,139.5 L235.2,139.5 L236.6,139.5 L237.9,139.5 L239.3,139.5 L240.7,139.5 L242.1,139.5 L243.4,139.5 L244.8,139.5 L246.2,139.5 L247.6,139.5 L248.9,139.5 L250.3,139.5 L251.7,139.5 L253.1,139.4 L254.4,139.4 L255.8,139.4 L257.2,139.4 L258.6,139.4 L259.9,139.4 L261.3,139.3 L262.7,139.3 L264.1,139.3 L265.4,139.3 L266.8,139.2 L268.2,139.2 L269.6,139.1 L270.9,139.1 L272.3,139.0 L273.7,139.0 L275.1,138.9 L276.4,138.8 L277.8,138.7 L279.2,138.6 L280.6,138.5 L281.9,138.4 L283.3,138.2 L284.7,138.0 L286.1,137.8 L287.4,137.6 L288.8,137.3 L290.2,137.0 L291.6,136.7 L292.9,136.3 L294.3,135.9 L295.7,135.4 L297.1,134.9 L298.4,134.3 L299.8,133.6 L301.2,132.8 L302.6,131.9 L304.0,130.8 L305.3,129.7 L306.7,128.4 L308.1,126.9 L309.5,125.2 L310.8,123.3 L312.2,121.1" stroke="#152e75" stroke-width="1" fill="none" stroke-linejoin="round"/>
<path d="M44.1,136.9 L45.5,137.1 L46.8,137.3 L48.2,137.5 L49.6,137.6 L51.0,137.7 L52.3,137.9 L53.7,138.0 L55.1,138.1 L56.5,138.2 L57.8,138.3 L59.2,138.4 L60.6,138.5 L62.0,138.6 L63.3,138.7 L64.7,138.7 L66.1,138.8 L67.5,138.9 L68.8,138.9 L70.2,139.0 L71.6,139.0 L73.0,139.1 L74.3,139.1 L75.7,139.2 L77.1,139.2 L78.5,139.3 L79.8,139.3 L81.2,139.4 L82.6,139.4 L84.0,139.4 L85.3,139.5 L86.7,139.5 L88.1,139.5 L89.5,139.6 L90.8,139.6 L92.2,139.6 L93.6,139.6 L95.0,139.7 L96.3,139.7 L97.7,139.7 L99.1,139.8 L100.4,139.8 L101.8,139.8 L103.2,139.8 L104.6,139.8 L105.9,139.9 L107.3,139.9 L108.7,139.9 L110.1,139.9 L111.4,139.9 L112.8,140.0 L114.2,140.0 L115.6,140.0 L116.9,140.0 L118.3,140.0 L119.7,140.0 L121.1,140.1 L122.4,140.1 L123.8,140.1 L125.2,140.1 L126.6,140.1 L127.9,140.1 L129.3,140.1 L130.7,140.1 L132.1,140.2 L133.4,140.2 L134.8,140.2 L136.2,140.2 L137.6,140.2 L138.9,140.2 L140.3,140.2 L141.7,140.2 L143.1,140.2 L144.4,140.3 L145.8,140.3 L147.2,140.3 L148.6,140.3 L149.9,140.3 L151.3,140.3 L152.7,140.3 L154.1,140.3 L155.4,140.3 L156.8,140.3 L158.2,140.3 L159.6,140.3 L160.9,140.4 L162.3,140.4 L163.7,140.4 L165.1,140.4 L166.4,140.4 L167.8,140.4 L169.2,140.4 L170.6,140.4 L171.9,140.4 L173.3,140.4 L174.7,140.4 L176.1,140.4 L177.4,140.4 L178.8,140.4 L180.2,140.4 L181.6,140.4 L182.9,140.4 L184.3,140.5 L185.7,140.5 L187.1,140.5 L188.4,140.5 L189.8,140.5 L191.2,140.5 L192.6,140.5 L193.9,140.5 L195.3,140.5 L196.7,140.5 L198.1,140.5 L199.4,140.5 L200.8,140.5 L202.2,140.5 L203.6,140.5 L204.9,140.5 L206.3,140.5 L207.7,140.5 L209.1,140.5 L210.4,140.5 L211.8,140.5 L213.2,140.5 L214.6,140.5 L215.9,140.5 L217.3,140.5 L218.7,140.5 L220.1,140.5 L221.4,140.5 L222.8,140.5 L224.2,140.5 L225.6,140.5 L226.9,140.5 L228.3,140.5 L229.7,140.5 L231.1,140.6 L232.4,140.6 L233.8,140.6 L235.2,140.6 L236.6,140.6 L237.9,140.6 L239.3,140.6 L240.7,140.6 L242.1,140.6 L243.4,140.5 L244.8,140.5 L246.2,140.5 L247.6,140.5 L248.9,140.5 L250.3,140.5 L251.7,140.5 L253.1,140.5 L254.4,140.5 L255.8,140.5 L257.2,140.5 L258.6,140.5 L259.9,140.5 L261.3,140.5 L262.7,140.4 L264.1,140.4 L265.4,140.4 L266.8,140.4 L268.2,140.3 L269.6,140.3 L270.9,140.3 L272.3,140.2 L273.7,140.1 L275.1,140.1 L276.4,140.0 L277.8,139.9 L279.2,139.8 L280.6,139.7 L281.9,139.6 L283.3,139.5 L284.7,139.3 L286.1,139.1 L287.4,138.9 L288.8,138.7 L290.2,138.4 L291.6,138.1 L292.9,137.7 L294.3,137.3 L295.7,136.8 L297.1,136.3 L298.4,135.7 L299.8,134.9 L301.2,134.1 L302.6,133.2 L304.0,132.2 L305.3,131.0 L306.7,129.6 L308.1,128.0 L309.5,126.2 L310.8,124.1 L312.2,121.8" stroke="#8fb0e2" stroke-width="0.8" fill="none" transform="translate(0.35,-0.75)" opacity="0.9"/>
<path d="M44.1,136.9 L45.5,137.1 L46.8,137.3 L48.2,137.5 L49.6,137.6 L51.0,137.7 L52.3,137.9 L53.7,138.0 L55.1,138.1 L56.5,138.2 L57.8,138.3 L59.2,138.4 L60.6,138.5 L62.0,138.6 L63.3,138.7 L64.7,138.7 L66.1,138.8 L67.5,138.9 L68.8,138.9 L70.2,139.0 L71.6,139.0 L73.0,139.1 L74.3,139.1 L75.7,139.2 L77.1,139.2 L78.5,139.3 L79.8,139.3 L81.2,139.4 L82.6,139.4 L84.0,139.4 L85.3,139.5 L86.7,139.5 L88.1,139.5 L89.5,139.6 L90.8,139.6 L92.2,139.6 L93.6,139.6 L95.0,139.7 L96.3,139.7 L97.7,139.7 L99.1,139.8 L100.4,139.8 L101.8,139.8 L103.2,139.8 L104.6,139.8 L105.9,139.9 L107.3,139.9 L108.7,139.9 L110.1,139.9 L111.4,139.9 L112.8,140.0 L114.2,140.0 L115.6,140.0 L116.9,140.0 L118.3,140.0 L119.7,140.0 L121.1,140.1 L122.4,140.1 L123.8,140.1 L125.2,140.1 L126.6,140.1 L127.9,140.1 L129.3,140.1 L130.7,140.1 L132.1,140.2 L133.4,140.2 L134.8,140.2 L136.2,140.2 L137.6,140.2 L138.9,140.2 L140.3,140.2 L141.7,140.2 L143.1,140.2 L144.4,140.3 L145.8,140.3 L147.2,140.3 L148.6,140.3 L149.9,140.3 L151.3,140.3 L152.7,140.3 L154.1,140.3 L155.4,140.3 L156.8,140.3 L158.2,140.3 L159.6,140.3 L160.9,140.4 L162.3,140.4 L163.7,140.4 L165.1,140.4 L166.4,140.4 L167.8,140.4 L169.2,140.4 L170.6,140.4 L171.9,140.4 L173.3,140.4 L174.7,140.4 L176.1,140.4 L177.4,140.4 L178.8,140.4 L180.2,140.4 L181.6,140.4 L182.9,140.4 L184.3,140.5 L185.7,140.5 L187.1,140.5 L188.4,140.5 L189.8,140.5 L191.2,140.5 L192.6,140.5 L193.9,140.5 L195.3,140.5 L196.7,140.5 L198.1,140.5 L199.4,140.5 L200.8,140.5 L202.2,140.5 L203.6,140.5 L204.9,140.5 L206.3,140.5 L207.7,140.5 L209.1,140.5 L210.4,140.5 L211.8,140.5 L213.2,140.5 L214.6,140.5 L215.9,140.5 L217.3,140.5 L218.7,140.5 L220.1,140.5 L221.4,140.5 L222.8,140.5 L224.2,140.5 L225.6,140.5 L226.9,140.5 L228.3,140.5 L229.7,140.5 L231.1,140.6 L232.4,140.6 L233.8,140.6 L235.2,140.6 L236.6,140.6 L237.9,140.6 L239.3,140.6 L240.7,140.6 L242.1,140.6 L243.4,140.5 L244.8,140.5 L246.2,140.5 L247.6,140.5 L248.9,140.5 L250.3,140.5 L251.7,140.5 L253.1,140.5 L254.4,140.5 L255.8,140.5 L257.2,140.5 L258.6,140.5 L259.9,140.5 L261.3,140.5 L262.7,140.4 L264.1,140.4 L265.4,140.4 L266.8,140.4 L268.2,140.3 L269.6,140.3 L270.9,140.3 L272.3,140.2 L273.7,140.1 L275.1,140.1 L276.4,140.0 L277.8,139.9 L279.2,139.8 L280.6,139.7 L281.9,139.6 L283.3,139.5 L284.7,139.3 L286.1,139.1 L287.4,138.9 L288.8,138.7 L290.2,138.4 L291.6,138.1 L292.9,137.7 L294.3,137.3 L295.7,136.8 L297.1,136.3 L298.4,135.7 L299.8,134.9 L301.2,134.1 L302.6,133.2 L304.0,132.2 L305.3,131.0 L306.7,129.6 L308.1,128.0 L309.5,126.2 L310.8,124.1 L312.2,121.8" stroke="#152e75" stroke-width="1" fill="none" stroke-linejoin="round"/>
<path d="M44.1,125.9 L45.5,127.1 L46.8,128.2 L48.2,129.1 L49.6,130.0 L51.0,130.8 L52.3,131.5 L53.7,132.2 L55.1,132.7 L56.5,133.3 L57.8,133.8 L59.2,134.2 L60.6,134.6 L62.0,134.9 L63.3,135.3 L64.7,135.5 L66.1,135.8 L67.5,136.0 L68.8,136.3 L70.2,136.5 L71.6,136.6 L73.0,136.8 L74.3,136.9 L75.7,137.1 L77.1,137.2 L78.5,137.3 L79.8,137.4 L81.2,137.5 L82.6,137.5 L84.0,137.6 L85.3,137.7 L86.7,137.7 L88.1,137.8 L89.5,137.8 L90.8,137.9 L92.2,137.9 L93.6,138.0 L95.0,138.0 L96.3,138.0 L97.7,138.0 L99.1,138.1 L100.4,138.1 L101.8,138.1 L103.2,138.1 L104.6,138.1 L105.9,138.2 L107.3,138.2 L108.7,138.2 L110.1,138.2 L111.4,138.2 L112.8,138.2 L114.2,138.2 L115.6,138.2 L116.9,138.2 L118.3,138.2 L119.7,138.2 L121.1,138.3 L122.4,138.3 L123.8,138.3 L125.2,138.3 L126.6,138.3 L127.9,138.3 L129.3,138.3 L130.7,138.3 L132.1,138.3 L133.4,138.3" stroke="#8fb0e2" stroke-width="0.8" fill="none" transform="translate(0.35,-0.75)" opacity="0.9"/>
<path d="M44.1,125.9 L45.5,127.1 L46.8,128.2 L48.2,129.1 L49.6,130.0 L51.0,130.8 L52.3,131.5 L53.7,132.2 L55.1,132.7 L56.5,133.3 L57.8,133.8 L59.2,134.2 L60.6,134.6 L62.0,134.9 L63.3,135.3 L64.7,135.5 L66.1,135.8 L67.5,136.0 L68.8,136.3 L70.2,136.5 L71.6,136.6 L73.0,136.8 L74.3,136.9 L75.7,137.1 L77.1,137.2 L78.5,137.3 L79.8,137.4 L81.2,137.5 L82.6,137.5 L84.0,137.6 L85.3,137.7 L86.7,137.7 L88.1,137.8 L89.5,137.8 L90.8,137.9 L92.2,137.9 L93.6,138.0 L95.0,138.0 L96.3,138.0 L97.7,138.0 L99.1,138.1 L100.4,138.1 L101.8,138.1 L103.2,138.1 L104.6,138.1 L105.9,138.2 L107.3,138.2 L108.7,138.2 L110.1,138.2 L111.4,138.2 L112.8,138.2 L114.2,138.2 L115.6,138.2 L116.9,138.2 L118.3,138.2 L119.7,138.2 L121.1,138.3 L122.4,138.3 L123.8,138.3 L125.2,138.3 L126.6,138.3 L127.9,138.3 L129.3,138.3 L130.7,138.3 L132.1,138.3 L133.4,138.3" stroke="#152e75" stroke-width="1" fill="none" stroke-linejoin="round"/>
<path d="M44.1,130.1 L45.5,130.6 L46.8,131.2 L48.2,131.7 L49.6,132.1 L51.0,132.6 L52.3,133.0 L53.7,133.4 L55.1,133.7 L56.5,134.1 L57.8,134.4 L59.2,134.7 L60.6,135.0 L62.0,135.2 L63.3,135.5 L64.7,135.7 L66.1,135.9 L67.5,136.1 L68.8,136.3 L70.2,136.5 L71.6,136.6 L73.0,136.8 L74.3,136.9 L75.7,137.1 L77.1,137.2 L78.5,137.3 L79.8,137.4 L81.2,137.5 L82.6,137.6 L84.0,137.7 L85.3,137.8 L86.7,137.9 L88.1,137.9 L89.5,138.0 L90.8,138.1 L92.2,138.1 L93.6,138.2 L95.0,138.2 L96.3,138.3 L97.7,138.3 L99.1,138.4 L100.4,138.4 L101.8,138.4 L103.2,138.5 L104.6,138.5 L105.9,138.5 L107.3,138.6 L108.7,138.6 L110.1,138.6 L111.4,138.6 L112.8,138.7 L114.2,138.7 L115.6,138.7 L116.9,138.7 L118.3,138.7 L119.7,138.8 L121.1,138.8 L122.4,138.8 L123.8,138.8 L125.2,138.8 L126.6,138.8 L127.9,138.8 L129.3,138.8 L130.7,138.9 L132.1,138.9 L133.4,138.9 L134.8,138.9 L136.2,138.9 L137.6,138.9 L138.9,138.9 L140.3,138.9 L141.7,138.9 L143.1,138.9 L144.4,138.9 L145.8,138.9 L147.2,138.9 L148.6,138.9 L149.9,138.9 L151.3,138.9 L152.7,138.9 L154.1,138.9 L155.4,138.9 L156.8,138.9 L158.2,139.0 L159.6,139.0 L160.9,139.0 L162.3,139.0 L163.7,139.0 L165.1,139.0 L166.4,139.0 L167.8,139.0 L169.2,139.0 L170.6,139.0 L171.9,139.0 L173.3,139.0 L174.7,139.0" stroke="#8fb0e2" stroke-width="0.8" fill="none" transform="translate(0.35,-0.75)" opacity="0.9"/>
<path d="M44.1,130.1 L45.5,130.6 L46.8,131.2 L48.2,131.7 L49.6,132.1 L51.0,132.6 L52.3,133.0 L53.7,133.4 L55.1,133.7 L56.5,134.1 L57.8,134.4 L59.2,134.7 L60.6,135.0 L62.0,135.2 L63.3,135.5 L64.7,135.7 L66.1,135.9 L67.5,136.1 L68.8,136.3 L70.2,136.5 L71.6,136.6 L73.0,136.8 L74.3,136.9 L75.7,137.1 L77.1,137.2 L78.5,137.3 L79.8,137.4 L81.2,137.5 L82.6,137.6 L84.0,137.7 L85.3,137.8 L86.7,137.9 L88.1,137.9 L89.5,138.0 L90.8,138.1 L92.2,138.1 L93.6,138.2 L95.0,138.2 L96.3,138.3 L97.7,138.3 L99.1,138.4 L100.4,138.4 L101.8,138.4 L103.2,138.5 L104.6,138.5 L105.9,138.5 L107.3,138.6 L108.7,138.6 L110.1,138.6 L111.4,138.6 L112.8,138.7 L114.2,138.7 L115.6,138.7 L116.9,138.7 L118.3,138.7 L119.7,138.8 L121.1,138.8 L122.4,138.8 L123.8,138.8 L125.2,138.8 L126.6,138.8 L127.9,138.8 L129.3,138.8 L130.7,138.9 L132.1,138.9 L133.4,138.9 L134.8,138.9 L136.2,138.9 L137.6,138.9 L138.9,138.9 L140.3,138.9 L141.7,138.9 L143.1,138.9 L144.4,138.9 L145.8,138.9 L147.2,138.9 L148.6,138.9 L149.9,138.9 L151.3,138.9 L152.7,138.9 L154.1,138.9 L155.4,138.9 L156.8,138.9 L158.2,139.0 L159.6,139.0 L160.9,139.0 L162.3,139.0 L163.7,139.0 L165.1,139.0 L166.4,139.0 L167.8,139.0 L169.2,139.0 L170.6,139.0 L171.9,139.0 L173.3,139.0 L174.7,139.0" stroke="#152e75" stroke-width="1" fill="none" stroke-linejoin="round"/>
<text x="217.2" y="67.95" font-size="8.6" text-anchor="start" font-weight="bold" fill="#111" textLength="12.1" lengthAdjust="spacingAndGlyphs">1-2</text>
<text x="273.9" y="124" font-size="8.6" text-anchor="start" font-weight="bold" fill="#111" textLength="17.1" lengthAdjust="spacingAndGlyphs">4-19</text>
<text x="316.7" y="142.02" font-size="8.4" text-anchor="start" font-weight="bold" fill="#111" textLength="4.6" lengthAdjust="spacingAndGlyphs">3</text>
<text x="341.6" y="12.8" font-size="13.8" text-anchor="start" font-weight="normal" fill="#111" textLength="16.3" lengthAdjust="spacingAndGlyphs">(h)</text>
<text x="482.8" y="11.2" font-size="7.5" text-anchor="start" font-weight="bold" fill="#111" textLength="52.4" lengthAdjust="spacingAndGlyphs">Amplification</text>
<path d="M450.45,20 V146.8 M519.1,20 V146.8 M587.75,20 V146.8 M656.4,20 V146.8 M383.4,143.6 H667.9 M383.4,126.4 H667.9 M383.4,109.2 H667.9 M383.4,92 H667.9 M383.4,74.8 H667.9 M383.4,57.6 H667.9 M383.4,40.4 H667.9 M383.4,23.2 H667.9" stroke="#767676" stroke-width="1" stroke-dasharray="1 3.4" fill="none"/>
<path d="M381.4,18.5 H668.9" stroke="#1c1c1c" stroke-width="1.3" fill="none"/>
<path d="M668.9,17.85 V147.3 M381.4,17.85 V147.3 H668.9" stroke="#1c1c1c" stroke-width="1.3" fill="none"/>
<path d="M379.8,147.04 H382.6 M667.7,147.04 H668.9 M377.9,143.6 H383.6 M666.7,143.6 H668.9 M379.8,140.16 H382.6 M667.7,140.16 H668.9 M379.8,136.72 H382.6 M667.7,136.72 H668.9 M379.8,133.28 H382.6 M667.7,133.28 H668.9 M379.8,129.84 H382.6 M667.7,129.84 H668.9 M377.9,126.4 H383.6 M666.7,126.4 H668.9 M379.8,122.96 H382.6 M667.7,122.96 H668.9 M379.8,119.52 H382.6 M667.7,119.52 H668.9 M379.8,116.08 H382.6 M667.7,116.08 H668.9 M379.8,112.64 H382.6 M667.7,112.64 H668.9 M377.9,109.2 H383.6 M666.7,109.2 H668.9 M379.8,105.76 H382.6 M667.7,105.76 H668.9 M379.8,102.32 H382.6 M667.7,102.32 H668.9 M379.8,98.88 H382.6 M667.7,98.88 H668.9 M379.8,95.44 H382.6 M667.7,95.44 H668.9 M377.9,92 H383.6 M666.7,92 H668.9 M379.8,88.56 H382.6 M667.7,88.56 H668.9 M379.8,85.12 H382.6 M667.7,85.12 H668.9 M379.8,81.68 H382.6 M667.7,81.68 H668.9 M379.8,78.24 H382.6 M667.7,78.24 H668.9 M377.9,74.8 H383.6 M666.7,74.8 H668.9 M379.8,71.36 H382.6 M667.7,71.36 H668.9 M379.8,67.92 H382.6 M667.7,67.92 H668.9 M379.8,64.48 H382.6 M667.7,64.48 H668.9 M379.8,61.04 H382.6 M667.7,61.04 H668.9 M377.9,57.6 H383.6 M666.7,57.6 H668.9 M379.8,54.16 H382.6 M667.7,54.16 H668.9 M379.8,50.72 H382.6 M667.7,50.72 H668.9 M379.8,47.28 H382.6 M667.7,47.28 H668.9 M379.8,43.84 H382.6 M667.7,43.84 H668.9 M377.9,40.4 H383.6 M666.7,40.4 H668.9 M379.8,36.96 H382.6 M667.7,36.96 H668.9 M379.8,33.52 H382.6 M667.7,33.52 H668.9 M379.8,30.08 H382.6 M667.7,30.08 H668.9 M379.8,26.64 H382.6 M667.7,26.64 H668.9 M377.9,23.2 H383.6 M666.7,23.2 H668.9 M379.8,19.76 H382.6 M667.7,19.76 H668.9 M381.8,145.5 V149.9 M381.8,18.5 V20.7 M395.53,146.3 V149.1 M395.53,18.5 V20 M409.26,146.3 V149.1 M409.26,18.5 V20 M422.99,146.3 V149.1 M422.99,18.5 V20 M436.72,146.3 V149.1 M436.72,18.5 V20 M450.45,145.5 V149.9 M450.45,18.5 V20.7 M464.18,146.3 V149.1 M464.18,18.5 V20 M477.91,146.3 V149.1 M477.91,18.5 V20 M491.64,146.3 V149.1 M491.64,18.5 V20 M505.37,146.3 V149.1 M505.37,18.5 V20 M519.1,145.5 V149.9 M519.1,18.5 V20.7 M532.83,146.3 V149.1 M532.83,18.5 V20 M546.56,146.3 V149.1 M546.56,18.5 V20 M560.29,146.3 V149.1 M560.29,18.5 V20 M574.02,146.3 V149.1 M574.02,18.5 V20 M587.75,145.5 V149.9 M587.75,18.5 V20.7 M601.48,146.3 V149.1 M601.48,18.5 V20 M615.21,146.3 V149.1 M615.21,18.5 V20 M628.94,146.3 V149.1 M628.94,18.5 V20 M642.67,146.3 V149.1 M642.67,18.5 V20 M656.4,145.5 V149.9 M656.4,18.5 V20.7" stroke="#1c1c1c" stroke-width="1" fill="none"/>
<text x="374.7" y="145.2" font-size="6" text-anchor="end" font-weight="bold" fill="#1e1e26" textLength="4.2" lengthAdjust="spacingAndGlyphs">0</text>
<text x="374.7" y="128" font-size="6" text-anchor="end" font-weight="bold" fill="#1e1e26" textLength="16.8" lengthAdjust="spacingAndGlyphs">1000</text>
<text x="374.7" y="110.8" font-size="6" text-anchor="end" font-weight="bold" fill="#1e1e26" textLength="16.8" lengthAdjust="spacingAndGlyphs">2000</text>
<text x="374.7" y="93.6" font-size="6" text-anchor="end" font-weight="bold" fill="#1e1e26" textLength="16.8" lengthAdjust="spacingAndGlyphs">3000</text>
<text x="374.7" y="76.4" font-size="6" text-anchor="end" font-weight="bold" fill="#1e1e26" textLength="16.8" lengthAdjust="spacingAndGlyphs">4000</text>
<text x="374.7" y="59.2" font-size="6" text-anchor="end" font-weight="bold" fill="#1e1e26" textLength="16.8" lengthAdjust="spacingAndGlyphs">5000</text>
<text x="374.7" y="42" font-size="6" text-anchor="end" font-weight="bold" fill="#1e1e26" textLength="16.8" lengthAdjust="spacingAndGlyphs">6000</text>
<text x="374.7" y="24.8" font-size="6" text-anchor="end" font-weight="bold" fill="#1e1e26" textLength="16.8" lengthAdjust="spacingAndGlyphs">7000</text>
<text x="381.8" y="157.1" font-size="6.2" text-anchor="middle" font-weight="bold" fill="#1e1e26" textLength="4.1" lengthAdjust="spacingAndGlyphs">0</text>
<text x="450.45" y="157.1" font-size="6.2" text-anchor="middle" font-weight="bold" fill="#1e1e26" textLength="8.2" lengthAdjust="spacingAndGlyphs">10</text>
<text x="519.1" y="157.1" font-size="6.2" text-anchor="middle" font-weight="bold" fill="#1e1e26" textLength="8.2" lengthAdjust="spacingAndGlyphs">20</text>
<text x="587.75" y="157.1" font-size="6.2" text-anchor="middle" font-weight="bold" fill="#1e1e26" textLength="8.2" lengthAdjust="spacingAndGlyphs">30</text>
<text x="656.4" y="157.1" font-size="6.2" text-anchor="middle" font-weight="bold" fill="#1e1e26" textLength="8.2" lengthAdjust="spacingAndGlyphs">40</text>
<text x="513.8" y="168.8" font-size="7" text-anchor="start" font-weight="bold" fill="#1a1a1a" textLength="23.2" lengthAdjust="spacingAndGlyphs">Cycles</text>
<text transform="translate(350.6,82.5) rotate(-90)" x="0" y="0" font-size="6.2" font-weight="bold" text-anchor="middle" fill="#1a1a1a" textLength="11.4" lengthAdjust="spacingAndGlyphs">RFU</text>
<rect x="640.85" y="161.95" width="8.7" height="7.1" rx="2" fill="#ededed" stroke="#3c3c3c" stroke-width="1"/>
<clipPath id="cliph"><rect x="0" y="0" width="680.3" height="528"/></clipPath>
<g clip-path="url(#cliph)"><text x="654.7" y="168.5" font-size="8" text-anchor="start" font-weight="normal" fill="#15151c" textLength="35.2" lengthAdjust="spacingAndGlyphs" stroke="#15151c" stroke-width="0.22">Log Scale</text></g>
<path d="M388.67,135.21 H656.4" stroke="#262c66" stroke-width="1.8" fill="none"/>
<path d="M388.67,144 H656.4" stroke="#0e2672" stroke-width="2" fill="none"/>
<path d="M388.7,136.7 L389.4,137.1 L390.0,137.5 L390.7,137.8 L391.4,138.1 L392.1,138.4 L392.8,138.7 L393.5,139.0 L394.2,139.3 L394.8,139.6 L395.5,139.8 L396.2,140.0 L396.9,140.2 L397.6,140.4 L398.3,140.6 L399.0,140.8 L399.6,141.0 L400.3,141.1 L401.0,141.3 L401.7,141.4 L402.4,141.5 L403.1,141.7 L403.8,141.8 L404.5,141.9 L405.1,142.0 L405.8,142.1 L406.5,142.2 L407.2,142.3 L407.9,142.4 L408.6,142.5 L409.3,142.6 L409.9,142.6 L410.6,142.7 L411.3,142.8 L412.0,142.8 L412.7,142.9 L413.4,143.0 L414.1,143.0 L414.8,143.1 L415.4,143.1 L416.1,143.2 L416.8,143.3 L417.5,143.3 L418.2,143.4 L418.9,143.4 L419.6,143.4 L420.2,143.5 L420.9,143.5 L421.6,143.5 L422.3,143.6 L423.0,143.6 L423.0,143.8 L422.3,143.8 L421.6,143.8 L420.9,143.8 L420.2,143.8 L419.6,143.9 L418.9,143.9 L418.2,143.9 L417.5,143.9 L416.8,143.9 L416.1,143.9 L415.4,144.0 L414.8,144.0 L414.1,144.0 L413.4,144.0 L412.7,144.0 L412.0,144.0 L411.3,144.1 L410.6,144.1 L409.9,144.1 L409.3,144.1 L408.6,144.1 L407.9,144.2 L407.2,144.2 L406.5,144.2 L405.8,144.2 L405.1,144.2 L404.5,144.2 L403.8,144.3 L403.1,144.3 L402.4,144.3 L401.7,144.3 L401.0,144.3 L400.3,144.3 L399.6,144.4 L399.0,144.4 L398.3,144.4 L397.6,144.4 L396.9,144.4 L396.2,144.4 L395.5,144.5 L394.8,144.5 L394.2,144.5 L393.5,144.5 L392.8,144.5 L392.1,144.5 L391.4,144.6 L390.7,144.6 L390.0,144.6 L389.4,144.6 L388.7,144.6Z" fill="#234f9c" opacity="0.8"/>
<path d="M388.7,136.7 L390.0,137.3 L391.4,137.9 L392.8,138.4 L394.2,138.9 L395.5,139.3 L396.9,139.6 L398.3,140.0 L399.6,140.3 L401.0,140.6 L402.4,140.9 L403.8,141.1 L405.1,141.3 L406.5,141.5 L407.9,141.7 L409.3,141.9 L410.6,142.0 L412.0,142.1 L413.4,142.3 L414.8,142.4 L416.1,142.5 L417.5,142.6 L418.9,142.7 L420.2,142.8 L421.6,142.8 L423.0,142.9 L424.4,143.0 L425.7,143.1 L427.1,143.1 L428.5,143.2 L429.9,143.3 L431.2,143.3 L432.6,143.4 L434.0,143.4 L435.3,143.5 L436.7,143.6 L438.1,143.6 L439.5,143.7 L440.8,143.7 L442.2,143.8 L443.6,143.8 L445.0,143.9 L446.3,143.9 L447.7,144.0 L449.1,144.0 L450.4,144.1 L451.8,144.1 L453.2,144.1 L454.6,144.2 L455.9,144.2 L457.3,144.2 L458.7,144.2 L460.1,144.3 L461.4,144.3 L462.8,144.3 L464.2,144.3 L465.6,144.3 L466.9,144.3 L468.3,144.3 L469.7,144.3 L471.0,144.3 L472.4,144.3 L473.8,144.3 L475.2,144.3 L476.5,144.3 L477.9,144.3 L479.3,144.3 L480.7,144.3 L482.0,144.3 L483.4,144.3 L484.8,144.2 L486.1,144.2 L487.5,144.2 L488.9,144.2 L490.3,144.2 L491.6,144.2 L493.0,144.2 L494.4,144.2 L495.8,144.2 L497.1,144.2 L498.5,144.2 L499.9,144.2 L501.3,144.1 L502.6,144.1 L504.0,144.1 L505.4,144.1 L506.7,144.0 L508.1,144.0 L509.5,143.9 L510.9,143.8 L512.2,143.6 L513.6,143.4 L515.0,143.2 L516.4,142.9 L517.7,142.5 L519.1,142.0 L520.5,141.5 L521.8,140.8 L523.2,140.1 L524.6,139.2 L526.0,138.1 L527.3,136.9 L528.7,135.6 L530.1,134.1 L531.5,132.5 L532.8,130.7 L534.2,128.8 L535.6,126.7 L536.9,124.5 L538.3,122.2 L539.7,119.8 L541.1,117.2 L542.4,114.7 L543.8,112.0 L545.2,109.3 L546.6,106.6 L547.9,103.8 L549.3,101.0 L550.7,98.2 L552.1,95.5 L553.4,92.7 L554.8,90.0 L556.2,87.2 L557.5,84.6 L558.9,82.0 L560.3,79.4 L561.7,76.8 L563.0,74.4 L564.4,72.0 L565.8,69.7 L567.2,67.4 L568.5,65.2 L569.9,63.2 L571.3,61.2 L572.6,59.2 L574.0,57.4 L575.4,55.7 L576.8,54.0 L578.1,52.5 L579.5,51.0 L580.9,49.6 L582.3,48.2 L583.6,47.0 L585.0,45.8 L586.4,44.6 L587.7,43.6 L589.1,42.6 L590.5,41.6 L591.9,40.7 L593.2,39.9 L594.6,39.1 L596.0,38.4 L597.4,37.7 L598.7,37.0 L600.1,36.4 L601.5,35.8 L602.9,35.3 L604.2,34.8 L605.6,34.3 L607.0,33.9 L608.3,33.4 L609.7,33.0 L611.1,32.6 L612.5,32.3 L613.8,31.9 L615.2,31.6 L616.6,31.2 L618.0,30.9 L619.3,30.6 L620.7,30.3 L622.1,30.0 L623.4,29.7 L624.8,29.4 L626.2,29.2 L627.6,28.9 L628.9,28.6 L630.3,28.4 L631.7,28.1 L633.1,27.9 L634.4,27.6 L635.8,27.4 L637.2,27.2 L638.6,27.0 L639.9,26.8 L641.3,26.6 L642.7,26.4 L644.0,26.2 L645.4,26.0 L646.8,25.9 L648.2,25.7 L649.5,25.5 L650.9,25.4 L652.3,25.3 L653.7,25.2 L655.0,25.0 L656.4,24.9" stroke="#8fb0e2" stroke-width="0.8" fill="none" transform="translate(0.35,-0.75)" opacity="0.9"/>
<path d="M388.7,136.7 L390.0,137.3 L391.4,137.9 L392.8,138.4 L394.2,138.9 L395.5,139.3 L396.9,139.6 L398.3,140.0 L399.6,140.3 L401.0,140.6 L402.4,140.9 L403.8,141.1 L405.1,141.3 L406.5,141.5 L407.9,141.7 L409.3,141.9 L410.6,142.0 L412.0,142.1 L413.4,142.3 L414.8,142.4 L416.1,142.5 L417.5,142.6 L418.9,142.7 L420.2,142.8 L421.6,142.8 L423.0,142.9 L424.4,143.0 L425.7,143.1 L427.1,143.1 L428.5,143.2 L429.9,143.3 L431.2,143.3 L432.6,143.4 L434.0,143.4 L435.3,143.5 L436.7,143.6 L438.1,143.6 L439.5,143.7 L440.8,143.7 L442.2,143.8 L443.6,143.8 L445.0,143.9 L446.3,143.9 L447.7,144.0 L449.1,144.0 L450.4,144.1 L451.8,144.1 L453.2,144.1 L454.6,144.2 L455.9,144.2 L457.3,144.2 L458.7,144.2 L460.1,144.3 L461.4,144.3 L462.8,144.3 L464.2,144.3 L465.6,144.3 L466.9,144.3 L468.3,144.3 L469.7,144.3 L471.0,144.3 L472.4,144.3 L473.8,144.3 L475.2,144.3 L476.5,144.3 L477.9,144.3 L479.3,144.3 L480.7,144.3 L482.0,144.3 L483.4,144.3 L484.8,144.2 L486.1,144.2 L487.5,144.2 L488.9,144.2 L490.3,144.2 L491.6,144.2 L493.0,144.2 L494.4,144.2 L495.8,144.2 L497.1,144.2 L498.5,144.2 L499.9,144.2 L501.3,144.1 L502.6,144.1 L504.0,144.1 L505.4,144.1 L506.7,144.0 L508.1,144.0 L509.5,143.9 L510.9,143.8 L512.2,143.6 L513.6,143.4 L515.0,143.2 L516.4,142.9 L517.7,142.5 L519.1,142.0 L520.5,141.5 L521.8,140.8 L523.2,140.1 L524.6,139.2 L526.0,138.1 L527.3,136.9 L528.7,135.6 L530.1,134.1 L531.5,132.5 L532.8,130.7 L534.2,128.8 L535.6,126.7 L536.9,124.5 L538.3,122.2 L539.7,119.8 L541.1,117.2 L542.4,114.7 L543.8,112.0 L545.2,109.3 L546.6,106.6 L547.9,103.8 L549.3,101.0 L550.7,98.2 L552.1,95.5 L553.4,92.7 L554.8,90.0 L556.2,87.2 L557.5,84.6 L558.9,82.0 L560.3,79.4 L561.7,76.8 L563.0,74.4 L564.4,72.0 L565.8,69.7 L567.2,67.4 L568.5,65.2 L569.9,63.2 L571.3,61.2 L572.6,59.2 L574.0,57.4 L575.4,55.7 L576.8,54.0 L578.1,52.5 L579.5,51.0 L580.9,49.6 L582.3,48.2 L583.6,47.0 L585.0,45.8 L586.4,44.6 L587.7,43.6 L589.1,42.6 L590.5,41.6 L591.9,40.7 L593.2,39.9 L594.6,39.1 L596.0,38.4 L597.4,37.7 L598.7,37.0 L600.1,36.4 L601.5,35.8 L602.9,35.3 L604.2,34.8 L605.6,34.3 L607.0,33.9 L608.3,33.4 L609.7,33.0 L611.1,32.6 L612.5,32.3 L613.8,31.9 L615.2,31.6 L616.6,31.2 L618.0,30.9 L619.3,30.6 L620.7,30.3 L622.1,30.0 L623.4,29.7 L624.8,29.4 L626.2,29.2 L627.6,28.9 L628.9,28.6 L630.3,28.4 L631.7,28.1 L633.1,27.9 L634.4,27.6 L635.8,27.4 L637.2,27.2 L638.6,27.0 L639.9,26.8 L641.3,26.6 L642.7,26.4 L644.0,26.2 L645.4,26.0 L646.8,25.9 L648.2,25.7 L649.5,25.5 L650.9,25.4 L652.3,25.3 L653.7,25.2 L655.0,25.0 L656.4,24.9" stroke="#152e75" stroke-width="1" fill="none" stroke-linejoin="round"/>
<path d="M388.7,138.4 L390.0,138.9 L391.4,139.4 L392.8,139.8 L394.2,140.2 L395.5,140.5 L396.9,140.8 L398.3,141.1 L399.6,141.3 L401.0,141.5 L402.4,141.8 L403.8,142.0 L405.1,142.1 L406.5,142.3 L407.9,142.4 L409.3,142.6 L410.6,142.7 L412.0,142.8 L413.4,142.9 L414.8,142.9 L416.1,143.0 L417.5,143.1 L418.9,143.2 L420.2,143.2 L421.6,143.3 L423.0,143.3 L424.4,143.4 L425.7,143.5 L427.1,143.5 L428.5,143.6 L429.9,143.6 L431.2,143.6 L432.6,143.7 L434.0,143.7 L435.3,143.8 L436.7,143.8 L438.1,143.9 L439.5,143.9 L440.8,144.0 L442.2,144.0 L443.6,144.1 L445.0,144.1 L446.3,144.2 L447.7,144.2 L449.1,144.2 L450.4,144.3 L451.8,144.3 L453.2,144.3 L454.6,144.4 L455.9,144.4 L457.3,144.4 L458.7,144.4 L460.1,144.4 L461.4,144.5 L462.8,144.5 L464.2,144.5 L465.6,144.5 L466.9,144.5 L468.3,144.5 L469.7,144.5 L471.0,144.5 L472.4,144.5 L473.8,144.5 L475.2,144.4 L476.5,144.4 L477.9,144.4 L479.3,144.4 L480.7,144.4 L482.0,144.4 L483.4,144.4 L484.8,144.4 L486.1,144.4 L487.5,144.4 L488.9,144.4 L490.3,144.4 L491.6,144.4 L493.0,144.4 L494.4,144.4 L495.8,144.4 L497.1,144.4 L498.5,144.3 L499.9,144.3 L501.3,144.3 L502.6,144.3 L504.0,144.3 L505.4,144.3 L506.7,144.2 L508.1,144.1 L509.5,144.0 L510.9,143.9 L512.2,143.7 L513.6,143.5 L515.0,143.3 L516.4,143.0 L517.7,142.5 L519.1,142.0 L520.5,141.5 L521.8,140.9 L523.2,140.1 L524.6,139.2 L526.0,138.2 L527.3,137.1 L528.7,135.7 L530.1,134.3 L531.5,132.7 L532.8,130.9 L534.2,129.0 L535.6,127.0 L536.9,124.9 L538.3,122.6 L539.7,120.2 L541.1,117.8 L542.4,115.2 L543.8,112.6 L545.2,110.0 L546.6,107.3 L547.9,104.6 L549.3,101.9 L550.7,99.1 L552.1,96.4 L553.4,93.7 L554.8,91.0 L556.2,88.4 L557.5,85.7 L558.9,83.2 L560.3,80.6 L561.7,78.2 L563.0,75.8 L564.4,73.4 L565.8,71.1 L567.2,68.9 L568.5,66.8 L569.9,64.8 L571.3,62.8 L572.6,60.9 L574.0,59.1 L575.4,57.4 L576.8,55.8 L578.1,54.3 L579.5,52.8 L580.9,51.4 L582.3,50.1 L583.6,48.9 L585.0,47.7 L586.4,46.6 L587.7,45.6 L589.1,44.6 L590.5,43.6 L591.9,42.8 L593.2,41.9 L594.6,41.2 L596.0,40.5 L597.4,39.8 L598.7,39.1 L600.1,38.5 L601.5,38.0 L602.9,37.5 L604.2,37.0 L605.6,36.5 L607.0,36.0 L608.3,35.6 L609.7,35.2 L611.1,34.8 L612.5,34.5 L613.8,34.1 L615.2,33.8 L616.6,33.5 L618.0,33.2 L619.3,32.8 L620.7,32.5 L622.1,32.3 L623.4,32.0 L624.8,31.7 L626.2,31.4 L627.6,31.2 L628.9,30.9 L630.3,30.7 L631.7,30.4 L633.1,30.2 L634.4,29.9 L635.8,29.7 L637.2,29.5 L638.6,29.3 L639.9,29.1 L641.3,28.9 L642.7,28.7 L644.0,28.5 L645.4,28.3 L646.8,28.2 L648.2,28.0 L649.5,27.9 L650.9,27.7 L652.3,27.6 L653.7,27.5 L655.0,27.4 L656.4,27.3" stroke="#8fb0e2" stroke-width="0.8" fill="none" transform="translate(0.35,-0.75)" opacity="0.9"/>
<path d="M388.7,138.4 L390.0,138.9 L391.4,139.4 L392.8,139.8 L394.2,140.2 L395.5,140.5 L396.9,140.8 L398.3,141.1 L399.6,141.3 L401.0,141.5 L402.4,141.8 L403.8,142.0 L405.1,142.1 L406.5,142.3 L407.9,142.4 L409.3,142.6 L410.6,142.7 L412.0,142.8 L413.4,142.9 L414.8,142.9 L416.1,143.0 L417.5,143.1 L418.9,143.2 L420.2,143.2 L421.6,143.3 L423.0,143.3 L424.4,143.4 L425.7,143.5 L427.1,143.5 L428.5,143.6 L429.9,143.6 L431.2,143.6 L432.6,143.7 L434.0,143.7 L435.3,143.8 L436.7,143.8 L438.1,143.9 L439.5,143.9 L440.8,144.0 L442.2,144.0 L443.6,144.1 L445.0,144.1 L446.3,144.2 L447.7,144.2 L449.1,144.2 L450.4,144.3 L451.8,144.3 L453.2,144.3 L454.6,144.4 L455.9,144.4 L457.3,144.4 L458.7,144.4 L460.1,144.4 L461.4,144.5 L462.8,144.5 L464.2,144.5 L465.6,144.5 L466.9,144.5 L468.3,144.5 L469.7,144.5 L471.0,144.5 L472.4,144.5 L473.8,144.5 L475.2,144.4 L476.5,144.4 L477.9,144.4 L479.3,144.4 L480.7,144.4 L482.0,144.4 L483.4,144.4 L484.8,144.4 L486.1,144.4 L487.5,144.4 L488.9,144.4 L490.3,144.4 L491.6,144.4 L493.0,144.4 L494.4,144.4 L495.8,144.4 L497.1,144.4 L498.5,144.3 L499.9,144.3 L501.3,144.3 L502.6,144.3 L504.0,144.3 L505.4,144.3 L506.7,144.2 L508.1,144.1 L509.5,144.0 L510.9,143.9 L512.2,143.7 L513.6,143.5 L515.0,143.3 L516.4,143.0 L517.7,142.5 L519.1,142.0 L520.5,141.5 L521.8,140.9 L523.2,140.1 L524.6,139.2 L526.0,138.2 L527.3,137.1 L528.7,135.7 L530.1,134.3 L531.5,132.7 L532.8,130.9 L534.2,129.0 L535.6,127.0 L536.9,124.9 L538.3,122.6 L539.7,120.2 L541.1,117.8 L542.4,115.2 L543.8,112.6 L545.2,110.0 L546.6,107.3 L547.9,104.6 L549.3,101.9 L550.7,99.1 L552.1,96.4 L553.4,93.7 L554.8,91.0 L556.2,88.4 L557.5,85.7 L558.9,83.2 L560.3,80.6 L561.7,78.2 L563.0,75.8 L564.4,73.4 L565.8,71.1 L567.2,68.9 L568.5,66.8 L569.9,64.8 L571.3,62.8 L572.6,60.9 L574.0,59.1 L575.4,57.4 L576.8,55.8 L578.1,54.3 L579.5,52.8 L580.9,51.4 L582.3,50.1 L583.6,48.9 L585.0,47.7 L586.4,46.6 L587.7,45.6 L589.1,44.6 L590.5,43.6 L591.9,42.8 L593.2,41.9 L594.6,41.2 L596.0,40.5 L597.4,39.8 L598.7,39.1 L600.1,38.5 L601.5,38.0 L602.9,37.5 L604.2,37.0 L605.6,36.5 L607.0,36.0 L608.3,35.6 L609.7,35.2 L611.1,34.8 L612.5,34.5 L613.8,34.1 L615.2,33.8 L616.6,33.5 L618.0,33.2 L619.3,32.8 L620.7,32.5 L622.1,32.3 L623.4,32.0 L624.8,31.7 L626.2,31.4 L627.6,31.2 L628.9,30.9 L630.3,30.7 L631.7,30.4 L633.1,30.2 L634.4,29.9 L635.8,29.7 L637.2,29.5 L638.6,29.3 L639.9,29.1 L641.3,28.9 L642.7,28.7 L644.0,28.5 L645.4,28.3 L646.8,28.2 L648.2,28.0 L649.5,27.9 L650.9,27.7 L652.3,27.6 L653.7,27.5 L655.0,27.4 L656.4,27.3" stroke="#152e75" stroke-width="1" fill="none" stroke-linejoin="round"/>
<path d="M388.7,137.6 L390.0,138.2 L391.4,138.8 L392.8,139.3 L394.2,139.8 L395.5,140.2 L396.9,140.5 L398.3,140.7 L399.6,141.0 L401.0,141.3 L402.4,141.5 L403.8,141.7 L405.1,141.9 L406.5,142.0 L407.9,142.1 L409.3,142.2 L410.6,142.3 L412.0,142.4 L413.4,142.4 L414.8,142.5 L416.1,142.6 L417.5,142.6 L418.9,142.7 L420.2,142.7 L421.6,142.8 L423.0,142.8 L424.4,142.9 L425.7,142.9 L427.1,142.9 L428.5,143.0 L429.9,143.0 L431.2,143.0 L432.6,143.0 L434.0,143.1 L435.3,143.1 L436.7,143.1 L438.1,143.1 L439.5,143.1 L440.8,143.1 L442.2,143.1 L443.6,143.1 L445.0,143.1 L446.3,143.1 L447.7,143.1 L449.1,143.1 L450.4,143.1 L451.8,143.1 L453.2,143.2 L454.6,143.2 L455.9,143.2 L457.3,143.2 L458.7,143.2 L460.1,143.2 L461.4,143.2 L462.8,143.2 L464.2,143.2 L465.6,143.2 L466.9,143.2 L468.3,143.2 L469.7,143.2 L471.0,143.2 L472.4,143.2 L473.8,143.2 L475.2,143.2 L476.5,143.2 L477.9,143.2 L479.3,143.2 L480.7,143.2 L482.0,143.2 L483.4,143.2 L484.8,143.2 L486.1,143.2 L487.5,143.2 L488.9,143.2 L490.3,143.2 L491.6,143.2 L493.0,143.2 L494.4,143.2 L495.8,143.2 L497.1,143.2 L498.5,143.2 L499.9,143.2 L501.3,143.2 L502.6,143.3 L504.0,143.3 L505.4,143.3 L506.7,143.3 L508.1,143.3 L509.5,143.3 L510.9,143.3 L512.2,143.3 L513.6,143.3 L515.0,143.3 L516.4,143.3 L517.7,143.3 L519.1,143.3 L520.5,143.3 L521.8,143.3 L523.2,143.3 L524.6,143.3 L526.0,143.3 L527.3,143.2 L528.7,143.2 L530.1,143.2 L531.5,143.2 L532.8,143.2 L534.2,143.2 L535.6,143.2 L536.9,143.2 L538.3,143.2 L539.7,143.2 L541.1,143.2 L542.4,143.2 L543.8,143.2 L545.2,143.2 L546.6,143.2 L547.9,143.2 L549.3,143.1 L550.7,143.1 L552.1,143.1 L553.4,143.1 L554.8,143.1 L556.2,143.1 L557.5,143.1 L558.9,143.1 L560.3,143.1 L561.7,143.0 L563.0,143.0 L564.4,143.0 L565.8,143.0 L567.2,143.0 L568.5,143.0 L569.9,143.0 L571.3,142.9 L572.6,142.9 L574.0,142.9 L575.4,142.9 L576.8,142.9 L578.1,142.9 L579.5,142.8 L580.9,142.8 L582.3,142.8 L583.6,142.8 L585.0,142.8 L586.4,142.8 L587.7,142.7 L589.1,142.7 L590.5,142.7 L591.9,142.7 L593.2,142.6 L594.6,142.6 L596.0,142.6 L597.4,142.5 L598.7,142.5 L600.1,142.4 L601.5,142.4 L602.9,142.3 L604.2,142.2 L605.6,142.2 L607.0,142.1 L608.3,142.1 L609.7,142.0 L611.1,141.9 L612.5,141.8 L613.8,141.7 L615.2,141.6 L616.6,141.4 L618.0,141.3 L619.3,141.1 L620.7,140.9 L622.1,140.6 L623.4,140.3 L624.8,139.9 L626.2,139.5 L627.6,139.0 L628.9,138.4 L630.3,137.8 L631.7,137.0 L633.1,136.1 L634.4,135.2 L635.8,134.2 L637.2,133.1 L638.6,131.9 L639.9,130.5 L641.3,129.0 L642.7,127.4 L644.0,125.3 L645.4,122.8 L646.8,120.0 L648.2,117.3 L649.5,114.7 L650.9,112.1 L652.3,109.4 L653.7,106.8 L655.0,104.3 L656.4,101.7" stroke="#8fb0e2" stroke-width="0.8" fill="none" transform="translate(0.35,-0.75)" opacity="0.9"/>
<path d="M388.7,137.6 L390.0,138.2 L391.4,138.8 L392.8,139.3 L394.2,139.8 L395.5,140.2 L396.9,140.5 L398.3,140.7 L399.6,141.0 L401.0,141.3 L402.4,141.5 L403.8,141.7 L405.1,141.9 L406.5,142.0 L407.9,142.1 L409.3,142.2 L410.6,142.3 L412.0,142.4 L413.4,142.4 L414.8,142.5 L416.1,142.6 L417.5,142.6 L418.9,142.7 L420.2,142.7 L421.6,142.8 L423.0,142.8 L424.4,142.9 L425.7,142.9 L427.1,142.9 L428.5,143.0 L429.9,143.0 L431.2,143.0 L432.6,143.0 L434.0,143.1 L435.3,143.1 L436.7,143.1 L438.1,143.1 L439.5,143.1 L440.8,143.1 L442.2,143.1 L443.6,143.1 L445.0,143.1 L446.3,143.1 L447.7,143.1 L449.1,143.1 L450.4,143.1 L451.8,143.1 L453.2,143.2 L454.6,143.2 L455.9,143.2 L457.3,143.2 L458.7,143.2 L460.1,143.2 L461.4,143.2 L462.8,143.2 L464.2,143.2 L465.6,143.2 L466.9,143.2 L468.3,143.2 L469.7,143.2 L471.0,143.2 L472.4,143.2 L473.8,143.2 L475.2,143.2 L476.5,143.2 L477.9,143.2 L479.3,143.2 L480.7,143.2 L482.0,143.2 L483.4,143.2 L484.8,143.2 L486.1,143.2 L487.5,143.2 L488.9,143.2 L490.3,143.2 L491.6,143.2 L493.0,143.2 L494.4,143.2 L495.8,143.2 L497.1,143.2 L498.5,143.2 L499.9,143.2 L501.3,143.2 L502.6,143.3 L504.0,143.3 L505.4,143.3 L506.7,143.3 L508.1,143.3 L509.5,143.3 L510.9,143.3 L512.2,143.3 L513.6,143.3 L515.0,143.3 L516.4,143.3 L517.7,143.3 L519.1,143.3 L520.5,143.3 L521.8,143.3 L523.2,143.3 L524.6,143.3 L526.0,143.3 L527.3,143.2 L528.7,143.2 L530.1,143.2 L531.5,143.2 L532.8,143.2 L534.2,143.2 L535.6,143.2 L536.9,143.2 L538.3,143.2 L539.7,143.2 L541.1,143.2 L542.4,143.2 L543.8,143.2 L545.2,143.2 L546.6,143.2 L547.9,143.2 L549.3,143.1 L550.7,143.1 L552.1,143.1 L553.4,143.1 L554.8,143.1 L556.2,143.1 L557.5,143.1 L558.9,143.1 L560.3,143.1 L561.7,143.0 L563.0,143.0 L564.4,143.0 L565.8,143.0 L567.2,143.0 L568.5,143.0 L569.9,143.0 L571.3,142.9 L572.6,142.9 L574.0,142.9 L575.4,142.9 L576.8,142.9 L578.1,142.9 L579.5,142.8 L580.9,142.8 L582.3,142.8 L583.6,142.8 L585.0,142.8 L586.4,142.8 L587.7,142.7 L589.1,142.7 L590.5,142.7 L591.9,142.7 L593.2,142.6 L594.6,142.6 L596.0,142.6 L597.4,142.5 L598.7,142.5 L600.1,142.4 L601.5,142.4 L602.9,142.3 L604.2,142.2 L605.6,142.2 L607.0,142.1 L608.3,142.1 L609.7,142.0 L611.1,141.9 L612.5,141.8 L613.8,141.7 L615.2,141.6 L616.6,141.4 L618.0,141.3 L619.3,141.1 L620.7,140.9 L622.1,140.6 L623.4,140.3 L624.8,139.9 L626.2,139.5 L627.6,139.0 L628.9,138.4 L630.3,137.8 L631.7,137.0 L633.1,136.1 L634.4,135.2 L635.8,134.2 L637.2,133.1 L638.6,131.9 L639.9,130.5 L641.3,129.0 L642.7,127.4 L644.0,125.3 L645.4,122.8 L646.8,120.0 L648.2,117.3 L649.5,114.7 L650.9,112.1 L652.3,109.4 L653.7,106.8 L655.0,104.3 L656.4,101.7" stroke="#152e75" stroke-width="1" fill="none" stroke-linejoin="round"/>
<path d="M388.7,139.3 L390.0,139.8 L391.4,140.4 L392.8,140.8 L394.2,141.2 L395.5,141.5 L396.9,141.8 L398.3,142.0 L399.6,142.2 L401.0,142.4 L402.4,142.5 L403.8,142.7 L405.1,142.8 L406.5,142.9 L407.9,143.0 L409.3,143.1 L410.6,143.1 L412.0,143.2 L413.4,143.3 L414.8,143.3 L416.1,143.4 L417.5,143.4 L418.9,143.4 L420.2,143.5 L421.6,143.5 L423.0,143.6 L424.4,143.6 L425.7,143.6 L427.1,143.6 L428.5,143.7 L429.9,143.7 L431.2,143.7 L432.6,143.7 L434.0,143.7 L435.3,143.8 L436.7,143.8 L438.1,143.8 L439.5,143.8 L440.8,143.8 L442.2,143.8 L443.6,143.8 L445.0,143.8 L446.3,143.8 L447.7,143.8 L449.1,143.9 L450.4,143.9 L451.8,143.9 L453.2,143.9 L454.6,143.9 L455.9,143.9 L457.3,143.9 L458.7,143.9 L460.1,143.9 L461.4,143.9 L462.8,143.9 L464.2,143.9 L465.6,143.9 L466.9,143.9 L468.3,143.9 L469.7,143.9 L471.0,143.9 L472.4,143.9 L473.8,143.9 L475.2,143.9 L476.5,143.9 L477.9,143.9 L479.3,143.9 L480.7,143.9 L482.0,143.9 L483.4,143.9 L484.8,143.9 L486.1,143.9 L487.5,143.9 L488.9,143.9 L490.3,143.9 L491.6,143.9 L493.0,143.9 L494.4,143.9 L495.8,143.9 L497.1,143.9 L498.5,143.9 L499.9,143.9 L501.3,143.9 L502.6,143.9 L504.0,143.9 L505.4,143.9 L506.7,143.9 L508.1,143.9 L509.5,143.8 L510.9,143.8 L512.2,143.8 L513.6,143.8 L515.0,143.8 L516.4,143.8 L517.7,143.8 L519.1,143.8" stroke="#8fb0e2" stroke-width="0.8" fill="none" transform="translate(0.35,-0.75)" opacity="0.9"/>
<path d="M388.7,139.3 L390.0,139.8 L391.4,140.4 L392.8,140.8 L394.2,141.2 L395.5,141.5 L396.9,141.8 L398.3,142.0 L399.6,142.2 L401.0,142.4 L402.4,142.5 L403.8,142.7 L405.1,142.8 L406.5,142.9 L407.9,143.0 L409.3,143.1 L410.6,143.1 L412.0,143.2 L413.4,143.3 L414.8,143.3 L416.1,143.4 L417.5,143.4 L418.9,143.4 L420.2,143.5 L421.6,143.5 L423.0,143.6 L424.4,143.6 L425.7,143.6 L427.1,143.6 L428.5,143.7 L429.9,143.7 L431.2,143.7 L432.6,143.7 L434.0,143.7 L435.3,143.8 L436.7,143.8 L438.1,143.8 L439.5,143.8 L440.8,143.8 L442.2,143.8 L443.6,143.8 L445.0,143.8 L446.3,143.8 L447.7,143.8 L449.1,143.9 L450.4,143.9 L451.8,143.9 L453.2,143.9 L454.6,143.9 L455.9,143.9 L457.3,143.9 L458.7,143.9 L460.1,143.9 L461.4,143.9 L462.8,143.9 L464.2,143.9 L465.6,143.9 L466.9,143.9 L468.3,143.9 L469.7,143.9 L471.0,143.9 L472.4,143.9 L473.8,143.9 L475.2,143.9 L476.5,143.9 L477.9,143.9 L479.3,143.9 L480.7,143.9 L482.0,143.9 L483.4,143.9 L484.8,143.9 L486.1,143.9 L487.5,143.9 L488.9,143.9 L490.3,143.9 L491.6,143.9 L493.0,143.9 L494.4,143.9 L495.8,143.9 L497.1,143.9 L498.5,143.9 L499.9,143.9 L501.3,143.9 L502.6,143.9 L504.0,143.9 L505.4,143.9 L506.7,143.9 L508.1,143.9 L509.5,143.8 L510.9,143.8 L512.2,143.8 L513.6,143.8 L515.0,143.8 L516.4,143.8 L517.7,143.8 L519.1,143.8" stroke="#152e75" stroke-width="1" fill="none" stroke-linejoin="round"/>
<text x="548" y="69.52" font-size="8.4" text-anchor="start" font-weight="bold" fill="#111" textLength="12.3" lengthAdjust="spacingAndGlyphs">1-2</text>
<text x="616.8" y="125.32" font-size="8.4" text-anchor="start" font-weight="bold" fill="#111" textLength="17.4" lengthAdjust="spacingAndGlyphs">4-19</text>
<text x="660.2" y="144.22" font-size="8.4" text-anchor="start" font-weight="bold" fill="#111" textLength="4.4" lengthAdjust="spacingAndGlyphs">3</text>
<text x="1.3" y="174.2" font-size="14.1" text-anchor="start" font-weight="normal" fill="#111" textLength="11.7" lengthAdjust="spacingAndGlyphs">(i)</text>
<text x="142.6" y="181.7" font-size="6.5" text-anchor="start" font-weight="bold" fill="#111" textLength="48.4" lengthAdjust="spacingAndGlyphs">Amplification</text>
<path d="M106.8,189.1 V317.8 M176.4,189.1 V317.8 M246,189.1 V317.8 M315.6,189.1 V317.8 M39.2,312.4 H327.8 M39.2,294.97 H327.8 M39.2,277.54 H327.8 M39.2,260.11 H327.8 M39.2,242.68 H327.8 M39.2,225.25 H327.8 M39.2,207.82 H327.8 M39.2,190.39 H327.8" stroke="#767676" stroke-width="1" stroke-dasharray="1 3.4" fill="none"/>
<path d="M37.2,187.6 H328.8" stroke="#8c8c8c" stroke-width="1.5" fill="none"/>
<path d="M328.8,186.95 V318.3 M37.2,186.95 V318.3 H328.8" stroke="#1c1c1c" stroke-width="1.3" fill="none"/>
<path d="M35.6,315.89 H38.4 M327.6,315.89 H328.8 M33.7,312.4 H39.4 M326.6,312.4 H328.8 M35.6,308.91 H38.4 M327.6,308.91 H328.8 M35.6,305.43 H38.4 M327.6,305.43 H328.8 M35.6,301.94 H38.4 M327.6,301.94 H328.8 M35.6,298.46 H38.4 M327.6,298.46 H328.8 M33.7,294.97 H39.4 M326.6,294.97 H328.8 M35.6,291.48 H38.4 M327.6,291.48 H328.8 M35.6,288 H38.4 M327.6,288 H328.8 M35.6,284.51 H38.4 M327.6,284.51 H328.8 M35.6,281.03 H38.4 M327.6,281.03 H328.8 M33.7,277.54 H39.4 M326.6,277.54 H328.8 M35.6,274.05 H38.4 M327.6,274.05 H328.8 M35.6,270.57 H38.4 M327.6,270.57 H328.8 M35.6,267.08 H38.4 M327.6,267.08 H328.8 M35.6,263.6 H38.4 M327.6,263.6 H328.8 M33.7,260.11 H39.4 M326.6,260.11 H328.8 M35.6,256.62 H38.4 M327.6,256.62 H328.8 M35.6,253.14 H38.4 M327.6,253.14 H328.8 M35.6,249.65 H38.4 M327.6,249.65 H328.8 M35.6,246.17 H38.4 M327.6,246.17 H328.8 M33.7,242.68 H39.4 M326.6,242.68 H328.8 M35.6,239.19 H38.4 M327.6,239.19 H328.8 M35.6,235.71 H38.4 M327.6,235.71 H328.8 M35.6,232.22 H38.4 M327.6,232.22 H328.8 M35.6,228.74 H38.4 M327.6,228.74 H328.8 M33.7,225.25 H39.4 M326.6,225.25 H328.8 M35.6,221.76 H38.4 M327.6,221.76 H328.8 M35.6,218.28 H38.4 M327.6,218.28 H328.8 M35.6,214.79 H38.4 M327.6,214.79 H328.8 M35.6,211.31 H38.4 M327.6,211.31 H328.8 M33.7,207.82 H39.4 M326.6,207.82 H328.8 M35.6,204.33 H38.4 M327.6,204.33 H328.8 M35.6,200.85 H38.4 M327.6,200.85 H328.8 M35.6,197.36 H38.4 M327.6,197.36 H328.8 M35.6,193.88 H38.4 M327.6,193.88 H328.8 M33.7,190.39 H39.4 M326.6,190.39 H328.8 M37.2,316.5 V320.9 M37.2,187.6 V189.8 M51.12,317.3 V320.1 M51.12,187.6 V189.1 M65.04,317.3 V320.1 M65.04,187.6 V189.1 M78.96,317.3 V320.1 M78.96,187.6 V189.1 M92.88,317.3 V320.1 M92.88,187.6 V189.1 M106.8,316.5 V320.9 M106.8,187.6 V189.8 M120.72,317.3 V320.1 M120.72,187.6 V189.1 M134.64,317.3 V320.1 M134.64,187.6 V189.1 M148.56,317.3 V320.1 M148.56,187.6 V189.1 M162.48,317.3 V320.1 M162.48,187.6 V189.1 M176.4,316.5 V320.9 M176.4,187.6 V189.8 M190.32,317.3 V320.1 M190.32,187.6 V189.1 M204.24,317.3 V320.1 M204.24,187.6 V189.1 M218.16,317.3 V320.1 M218.16,187.6 V189.1 M232.08,317.3 V320.1 M232.08,187.6 V189.1 M246,316.5 V320.9 M246,187.6 V189.8 M259.92,317.3 V320.1 M259.92,187.6 V189.1 M273.84,317.3 V320.1 M273.84,187.6 V189.1 M287.76,317.3 V320.1 M287.76,187.6 V189.1 M301.68,317.3 V320.1 M301.68,187.6 V189.1 M315.6,316.5 V320.9 M315.6,187.6 V189.8" stroke="#1c1c1c" stroke-width="1" fill="none"/>
<text x="30.1" y="314" font-size="5.8" text-anchor="end" font-weight="bold" fill="#1e1e26" textLength="4.35" lengthAdjust="spacingAndGlyphs">0</text>
<text x="30.1" y="296.57" font-size="5.8" text-anchor="end" font-weight="bold" fill="#1e1e26" textLength="13.05" lengthAdjust="spacingAndGlyphs">500</text>
<text x="30.1" y="279.14" font-size="5.8" text-anchor="end" font-weight="bold" fill="#1e1e26" textLength="17.4" lengthAdjust="spacingAndGlyphs">1000</text>
<text x="30.1" y="261.71" font-size="5.8" text-anchor="end" font-weight="bold" fill="#1e1e26" textLength="17.4" lengthAdjust="spacingAndGlyphs">1500</text>
<text x="30.1" y="244.28" font-size="5.8" text-anchor="end" font-weight="bold" fill="#1e1e26" textLength="17.4" lengthAdjust="spacingAndGlyphs">2000</text>
<text x="30.1" y="226.85" font-size="5.8" text-anchor="end" font-weight="bold" fill="#1e1e26" textLength="17.4" lengthAdjust="spacingAndGlyphs">2500</text>
<text x="30.1" y="209.42" font-size="5.8" text-anchor="end" font-weight="bold" fill="#1e1e26" textLength="17.4" lengthAdjust="spacingAndGlyphs">3000</text>
<text x="30.1" y="191.99" font-size="5.8" text-anchor="end" font-weight="bold" fill="#1e1e26" textLength="17.4" lengthAdjust="spacingAndGlyphs">3500</text>
<text x="37.2" y="328.1" font-size="6.2" text-anchor="middle" font-weight="bold" fill="#1e1e26" textLength="4.1" lengthAdjust="spacingAndGlyphs">0</text>
<text x="106.8" y="328.1" font-size="6.2" text-anchor="middle" font-weight="bold" fill="#1e1e26" textLength="8.2" lengthAdjust="spacingAndGlyphs">10</text>
<text x="176.4" y="328.1" font-size="6.2" text-anchor="middle" font-weight="bold" fill="#1e1e26" textLength="8.2" lengthAdjust="spacingAndGlyphs">20</text>
<text x="246" y="328.1" font-size="6.2" text-anchor="middle" font-weight="bold" fill="#1e1e26" textLength="8.2" lengthAdjust="spacingAndGlyphs">30</text>
<text x="315.6" y="328.1" font-size="6.2" text-anchor="middle" font-weight="bold" fill="#1e1e26" textLength="8.2" lengthAdjust="spacingAndGlyphs">40</text>
<text x="171" y="340" font-size="6.5" text-anchor="start" font-weight="bold" fill="#1a1a1a" textLength="23.6" lengthAdjust="spacingAndGlyphs">Cycles</text>
<text transform="translate(3.6,252.4) rotate(-90)" x="0" y="0" font-size="6.2" font-weight="bold" text-anchor="middle" fill="#1a1a1a" textLength="11.4" lengthAdjust="spacingAndGlyphs">RFU</text>
<rect x="299.75" y="333.25" width="8.9" height="7.1" rx="2" fill="#ededed" stroke="#3c3c3c" stroke-width="1"/>
<clipPath id="clipi"><rect x="0" y="0" width="338.4" height="528"/></clipPath>
<g clip-path="url(#clipi)"><text x="313.8" y="339.7" font-size="8" text-anchor="start" font-weight="normal" fill="#15151c" textLength="35.2" lengthAdjust="spacingAndGlyphs" stroke="#15151c" stroke-width="0.22">Log Scale</text></g>
<path d="M44.16,306.89 H315.6" stroke="#262a48" stroke-width="1.8" fill="none"/>
<path d="M44.16,312.89 H315.6" stroke="#0e2672" stroke-width="1.9" fill="none"/>
<path d="M44.2,305.4 L45.6,306.2 L46.9,307.0 L48.3,307.7 L49.7,308.4 L51.1,308.9 L52.5,309.4 L53.9,309.9 L55.3,310.4 L56.7,310.7 L58.1,311.0 L59.5,311.2 L60.9,311.4 L62.3,311.6 L63.6,311.8 L65.0,311.9 L66.4,312.0 L67.8,312.2 L69.2,312.3 L70.6,312.3 L72.0,312.4 L73.4,312.5 L74.8,312.5 L76.2,312.5 L77.6,312.6 L79.0,312.6 L80.4,312.7 L81.7,312.7 L83.1,312.8 L84.5,312.8 L85.9,312.8 L87.3,312.9 L88.7,312.9 L90.1,312.9 L91.5,313.0 L92.9,313.0 L94.3,313.0 L95.7,313.0 L97.1,313.0 L98.4,313.1 L99.8,313.1 L101.2,313.1 L102.6,313.1 L104.0,313.1 L105.4,313.1 L106.8,313.1 L108.2,313.1 L109.6,313.1 L111.0,313.1 L112.4,313.1 L113.8,313.1 L115.2,313.1 L116.5,313.1 L117.9,313.1 L119.3,313.1 L120.7,313.1 L122.1,313.1 L123.5,313.1 L124.9,313.1 L126.3,313.1 L127.7,313.1 L129.1,313.0 L130.5,313.0 L131.9,313.0 L133.2,313.0 L134.6,313.0 L136.0,313.0 L137.4,313.0 L138.8,313.0 L140.2,312.9 L141.6,312.9 L143.0,312.9 L144.4,312.9 L145.8,312.8 L147.2,312.8 L148.6,312.8 L150.0,312.7 L151.3,312.6 L152.7,312.6 L154.1,312.5 L155.5,312.4 L156.9,312.3 L158.3,312.1 L159.7,311.9 L161.1,311.7 L162.5,311.5 L163.9,311.2 L165.3,310.8 L166.7,310.6 L168.0,310.3 L169.4,309.9 L170.8,309.6 L172.2,309.3 L173.6,308.9 L175.0,308.4 L176.4,307.8 L177.8,307.1 L179.2,306.3 L180.6,305.4 L182.0,304.4 L183.4,303.2 L184.8,301.9 L186.1,300.4 L187.5,298.7 L188.9,296.9 L190.3,294.9 L191.7,292.7 L193.1,290.3 L194.5,287.8 L195.9,285.2 L197.3,282.4 L198.7,279.5 L200.1,276.5 L201.5,273.4 L202.8,270.3 L204.2,267.1 L205.6,263.9 L207.0,260.7 L208.4,257.6 L209.8,254.4 L211.2,251.3 L212.6,248.3 L214.0,245.3 L215.4,242.4 L216.8,239.6 L218.2,236.8 L219.6,234.2 L220.9,231.7 L222.3,229.2 L223.7,226.9 L225.1,224.7 L226.5,222.6 L227.9,220.6 L229.3,218.8 L230.7,217.0 L232.1,215.4 L233.5,213.8 L234.9,212.4 L236.3,211.1 L237.6,209.9 L239.0,208.7 L240.4,207.7 L241.8,206.8 L243.2,205.9 L244.6,205.2 L246.0,204.4 L247.4,203.8 L248.8,203.2 L250.2,202.6 L251.6,202.1 L253.0,201.7 L254.4,201.2 L255.7,200.8 L257.1,200.4 L258.5,200.1 L259.9,199.8 L261.3,199.5 L262.7,199.2 L264.1,198.9 L265.5,198.7 L266.9,198.4 L268.3,198.2 L269.7,198.0 L271.1,197.8 L272.4,197.6 L273.8,197.4 L275.2,197.2 L276.6,197.1 L278.0,196.9 L279.4,196.8 L280.8,196.6 L282.2,196.5 L283.6,196.4 L285.0,196.2 L286.4,196.1 L287.8,196.0 L289.2,195.8 L290.5,195.7 L291.9,195.6 L293.3,195.5 L294.7,195.3 L296.1,195.2 L297.5,195.1 L298.9,195.0 L300.3,194.9 L301.7,194.7 L303.1,194.6 L304.5,194.5 L305.9,194.4 L307.2,194.3 L308.6,194.2 L310.0,194.1 L311.4,194.0 L312.8,193.9 L314.2,193.8 L315.6,193.8" stroke="#8fb0e2" stroke-width="0.8" fill="none" transform="translate(0.35,-0.75)" opacity="0.9"/>
<path d="M44.2,305.4 L45.6,306.2 L46.9,307.0 L48.3,307.7 L49.7,308.4 L51.1,308.9 L52.5,309.4 L53.9,309.9 L55.3,310.4 L56.7,310.7 L58.1,311.0 L59.5,311.2 L60.9,311.4 L62.3,311.6 L63.6,311.8 L65.0,311.9 L66.4,312.0 L67.8,312.2 L69.2,312.3 L70.6,312.3 L72.0,312.4 L73.4,312.5 L74.8,312.5 L76.2,312.5 L77.6,312.6 L79.0,312.6 L80.4,312.7 L81.7,312.7 L83.1,312.8 L84.5,312.8 L85.9,312.8 L87.3,312.9 L88.7,312.9 L90.1,312.9 L91.5,313.0 L92.9,313.0 L94.3,313.0 L95.7,313.0 L97.1,313.0 L98.4,313.1 L99.8,313.1 L101.2,313.1 L102.6,313.1 L104.0,313.1 L105.4,313.1 L106.8,313.1 L108.2,313.1 L109.6,313.1 L111.0,313.1 L112.4,313.1 L113.8,313.1 L115.2,313.1 L116.5,313.1 L117.9,313.1 L119.3,313.1 L120.7,313.1 L122.1,313.1 L123.5,313.1 L124.9,313.1 L126.3,313.1 L127.7,313.1 L129.1,313.0 L130.5,313.0 L131.9,313.0 L133.2,313.0 L134.6,313.0 L136.0,313.0 L137.4,313.0 L138.8,313.0 L140.2,312.9 L141.6,312.9 L143.0,312.9 L144.4,312.9 L145.8,312.8 L147.2,312.8 L148.6,312.8 L150.0,312.7 L151.3,312.6 L152.7,312.6 L154.1,312.5 L155.5,312.4 L156.9,312.3 L158.3,312.1 L159.7,311.9 L161.1,311.7 L162.5,311.5 L163.9,311.2 L165.3,310.8 L166.7,310.6 L168.0,310.3 L169.4,309.9 L170.8,309.6 L172.2,309.3 L173.6,308.9 L175.0,308.4 L176.4,307.8 L177.8,307.1 L179.2,306.3 L180.6,305.4 L182.0,304.4 L183.4,303.2 L184.8,301.9 L186.1,300.4 L187.5,298.7 L188.9,296.9 L190.3,294.9 L191.7,292.7 L193.1,290.3 L194.5,287.8 L195.9,285.2 L197.3,282.4 L198.7,279.5 L200.1,276.5 L201.5,273.4 L202.8,270.3 L204.2,267.1 L205.6,263.9 L207.0,260.7 L208.4,257.6 L209.8,254.4 L211.2,251.3 L212.6,248.3 L214.0,245.3 L215.4,242.4 L216.8,239.6 L218.2,236.8 L219.6,234.2 L220.9,231.7 L222.3,229.2 L223.7,226.9 L225.1,224.7 L226.5,222.6 L227.9,220.6 L229.3,218.8 L230.7,217.0 L232.1,215.4 L233.5,213.8 L234.9,212.4 L236.3,211.1 L237.6,209.9 L239.0,208.7 L240.4,207.7 L241.8,206.8 L243.2,205.9 L244.6,205.2 L246.0,204.4 L247.4,203.8 L248.8,203.2 L250.2,202.6 L251.6,202.1 L253.0,201.7 L254.4,201.2 L255.7,200.8 L257.1,200.4 L258.5,200.1 L259.9,199.8 L261.3,199.5 L262.7,199.2 L264.1,198.9 L265.5,198.7 L266.9,198.4 L268.3,198.2 L269.7,198.0 L271.1,197.8 L272.4,197.6 L273.8,197.4 L275.2,197.2 L276.6,197.1 L278.0,196.9 L279.4,196.8 L280.8,196.6 L282.2,196.5 L283.6,196.4 L285.0,196.2 L286.4,196.1 L287.8,196.0 L289.2,195.8 L290.5,195.7 L291.9,195.6 L293.3,195.5 L294.7,195.3 L296.1,195.2 L297.5,195.1 L298.9,195.0 L300.3,194.9 L301.7,194.7 L303.1,194.6 L304.5,194.5 L305.9,194.4 L307.2,194.3 L308.6,194.2 L310.0,194.1 L311.4,194.0 L312.8,193.9 L314.2,193.8 L315.6,193.8" stroke="#152e75" stroke-width="1" fill="none" stroke-linejoin="round"/>
<path d="M44.2,317.6 L45.6,316.2 L46.9,314.9 L48.3,313.8 L49.7,312.9 L51.1,312.4 L52.5,312.1 L53.9,311.8 L55.3,311.6 L56.7,311.4 L58.1,311.4 L59.5,311.4 L60.9,311.4 L62.3,311.5 L63.6,311.7 L65.0,311.8 L66.4,311.9 L67.8,312.1 L69.2,312.2 L70.6,312.3 L72.0,312.4 L73.4,312.5 L74.8,312.5 L76.2,312.6 L77.6,312.7 L79.0,312.7 L80.4,312.8 L81.7,312.8 L83.1,312.9 L84.5,312.9 L85.9,313.0 L87.3,313.0 L88.7,313.1 L90.1,313.1 L91.5,313.2 L92.9,313.2 L94.3,313.3 L95.7,313.3 L97.1,313.3 L98.4,313.4 L99.8,313.4 L101.2,313.4 L102.6,313.4 L104.0,313.4 L105.4,313.4 L106.8,313.4 L108.2,313.4 L109.6,313.4 L111.0,313.4 L112.4,313.4 L113.8,313.4 L115.2,313.4 L116.5,313.4 L117.9,313.4 L119.3,313.4 L120.7,313.4 L122.1,313.4 L123.5,313.4 L124.9,313.4 L126.3,313.4 L127.7,313.4 L129.1,313.4 L130.5,313.4 L131.9,313.4 L133.2,313.4 L134.6,313.4 L136.0,313.4 L137.4,313.3 L138.8,313.3 L140.2,313.3 L141.6,313.3 L143.0,313.3 L144.4,313.2 L145.8,313.2 L147.2,313.2 L148.6,313.1 L150.0,313.1 L151.3,313.0 L152.7,312.9 L154.1,312.9 L155.5,312.7 L156.9,312.6 L158.3,312.5 L159.7,312.3 L161.1,312.1 L162.5,311.8 L163.9,311.5 L165.3,311.1 L166.7,310.7 L168.0,310.3 L169.4,310.0 L170.8,309.7 L172.2,309.4 L173.6,309.0 L175.0,308.6 L176.4,308.1 L177.8,307.4 L179.2,306.7 L180.6,305.9 L182.0,304.9 L183.4,303.8 L184.8,302.6 L186.1,301.2 L187.5,299.6 L188.9,297.8 L190.3,295.9 L191.7,293.7 L193.1,291.4 L194.5,289.0 L195.9,286.4 L197.3,283.7 L198.7,280.8 L200.1,277.9 L201.5,274.9 L202.8,271.8 L204.2,268.7 L205.6,265.6 L207.0,262.5 L208.4,259.3 L209.8,256.3 L211.2,253.2 L212.6,250.3 L214.0,247.4 L215.4,244.6 L216.8,241.8 L218.2,239.2 L219.6,236.7 L220.9,234.3 L222.3,231.9 L223.7,229.7 L225.1,227.7 L226.5,225.7 L227.9,223.8 L229.3,222.1 L230.7,220.5 L232.1,219.0 L233.5,217.6 L234.9,216.3 L236.3,215.1 L237.6,214.0 L239.0,213.0 L240.4,212.1 L241.8,211.3 L243.2,210.5 L244.6,209.8 L246.0,209.1 L247.4,208.5 L248.8,207.9 L250.2,207.4 L251.6,206.9 L253.0,206.4 L254.4,206.0 L255.7,205.6 L257.1,205.2 L258.5,204.9 L259.9,204.6 L261.3,204.3 L262.7,204.0 L264.1,203.8 L265.5,203.6 L266.9,203.4 L268.3,203.2 L269.7,203.0 L271.1,202.8 L272.4,202.6 L273.8,202.4 L275.2,202.3 L276.6,202.1 L278.0,202.0 L279.4,201.8 L280.8,201.7 L282.2,201.6 L283.6,201.4 L285.0,201.3 L286.4,201.2 L287.8,201.1 L289.2,201.0 L290.5,200.8 L291.9,200.7 L293.3,200.6 L294.7,200.5 L296.1,200.4 L297.5,200.3 L298.9,200.2 L300.3,200.2 L301.7,200.1 L303.1,200.0 L304.5,199.9 L305.9,199.9 L307.2,199.8 L308.6,199.8 L310.0,199.7 L311.4,199.7 L312.8,199.6 L314.2,199.6 L315.6,199.5" stroke="#8fb0e2" stroke-width="0.8" fill="none" transform="translate(0.35,-0.75)" opacity="0.9"/>
<path d="M44.2,317.6 L45.6,316.2 L46.9,314.9 L48.3,313.8 L49.7,312.9 L51.1,312.4 L52.5,312.1 L53.9,311.8 L55.3,311.6 L56.7,311.4 L58.1,311.4 L59.5,311.4 L60.9,311.4 L62.3,311.5 L63.6,311.7 L65.0,311.8 L66.4,311.9 L67.8,312.1 L69.2,312.2 L70.6,312.3 L72.0,312.4 L73.4,312.5 L74.8,312.5 L76.2,312.6 L77.6,312.7 L79.0,312.7 L80.4,312.8 L81.7,312.8 L83.1,312.9 L84.5,312.9 L85.9,313.0 L87.3,313.0 L88.7,313.1 L90.1,313.1 L91.5,313.2 L92.9,313.2 L94.3,313.3 L95.7,313.3 L97.1,313.3 L98.4,313.4 L99.8,313.4 L101.2,313.4 L102.6,313.4 L104.0,313.4 L105.4,313.4 L106.8,313.4 L108.2,313.4 L109.6,313.4 L111.0,313.4 L112.4,313.4 L113.8,313.4 L115.2,313.4 L116.5,313.4 L117.9,313.4 L119.3,313.4 L120.7,313.4 L122.1,313.4 L123.5,313.4 L124.9,313.4 L126.3,313.4 L127.7,313.4 L129.1,313.4 L130.5,313.4 L131.9,313.4 L133.2,313.4 L134.6,313.4 L136.0,313.4 L137.4,313.3 L138.8,313.3 L140.2,313.3 L141.6,313.3 L143.0,313.3 L144.4,313.2 L145.8,313.2 L147.2,313.2 L148.6,313.1 L150.0,313.1 L151.3,313.0 L152.7,312.9 L154.1,312.9 L155.5,312.7 L156.9,312.6 L158.3,312.5 L159.7,312.3 L161.1,312.1 L162.5,311.8 L163.9,311.5 L165.3,311.1 L166.7,310.7 L168.0,310.3 L169.4,310.0 L170.8,309.7 L172.2,309.4 L173.6,309.0 L175.0,308.6 L176.4,308.1 L177.8,307.4 L179.2,306.7 L180.6,305.9 L182.0,304.9 L183.4,303.8 L184.8,302.6 L186.1,301.2 L187.5,299.6 L188.9,297.8 L190.3,295.9 L191.7,293.7 L193.1,291.4 L194.5,289.0 L195.9,286.4 L197.3,283.7 L198.7,280.8 L200.1,277.9 L201.5,274.9 L202.8,271.8 L204.2,268.7 L205.6,265.6 L207.0,262.5 L208.4,259.3 L209.8,256.3 L211.2,253.2 L212.6,250.3 L214.0,247.4 L215.4,244.6 L216.8,241.8 L218.2,239.2 L219.6,236.7 L220.9,234.3 L222.3,231.9 L223.7,229.7 L225.1,227.7 L226.5,225.7 L227.9,223.8 L229.3,222.1 L230.7,220.5 L232.1,219.0 L233.5,217.6 L234.9,216.3 L236.3,215.1 L237.6,214.0 L239.0,213.0 L240.4,212.1 L241.8,211.3 L243.2,210.5 L244.6,209.8 L246.0,209.1 L247.4,208.5 L248.8,207.9 L250.2,207.4 L251.6,206.9 L253.0,206.4 L254.4,206.0 L255.7,205.6 L257.1,205.2 L258.5,204.9 L259.9,204.6 L261.3,204.3 L262.7,204.0 L264.1,203.8 L265.5,203.6 L266.9,203.4 L268.3,203.2 L269.7,203.0 L271.1,202.8 L272.4,202.6 L273.8,202.4 L275.2,202.3 L276.6,202.1 L278.0,202.0 L279.4,201.8 L280.8,201.7 L282.2,201.6 L283.6,201.4 L285.0,201.3 L286.4,201.2 L287.8,201.1 L289.2,201.0 L290.5,200.8 L291.9,200.7 L293.3,200.6 L294.7,200.5 L296.1,200.4 L297.5,200.3 L298.9,200.2 L300.3,200.2 L301.7,200.1 L303.1,200.0 L304.5,199.9 L305.9,199.9 L307.2,199.8 L308.6,199.8 L310.0,199.7 L311.4,199.7 L312.8,199.6 L314.2,199.6 L315.6,199.5" stroke="#152e75" stroke-width="1" fill="none" stroke-linejoin="round"/>
<path d="M44.2,307.2 L45.6,307.6 L46.9,308.0 L48.3,308.5 L49.7,308.9 L51.1,309.3 L52.5,309.7 L53.9,310.0 L55.3,310.3 L56.7,310.5 L58.1,310.7 L59.5,310.8 L60.9,310.9 L62.3,311.0 L63.6,311.1 L65.0,311.2 L66.4,311.4 L67.8,311.5 L69.2,311.6 L70.6,311.6 L72.0,311.7 L73.4,311.8 L74.8,311.9 L76.2,312.0 L77.6,312.0 L79.0,312.1 L80.4,312.2 L81.7,312.2 L83.1,312.2 L84.5,312.3 L85.9,312.3 L87.3,312.3 L88.7,312.4 L90.1,312.4 L91.5,312.4 L92.9,312.4 L94.3,312.4 L95.7,312.4 L97.1,312.4 L98.4,312.4 L99.8,312.4 L101.2,312.4 L102.6,312.4 L104.0,312.4 L105.4,312.4 L106.8,312.4 L108.2,312.4 L109.6,312.4 L111.0,312.4 L112.4,312.4 L113.8,312.4 L115.2,312.4 L116.5,312.4 L117.9,312.4 L119.3,312.4 L120.7,312.4 L122.1,312.4 L123.5,312.4 L124.9,312.4 L126.3,312.4 L127.7,312.4 L129.1,312.4 L130.5,312.4 L131.9,312.4 L133.2,312.4 L134.6,312.4 L136.0,312.4 L137.4,312.4 L138.8,312.4 L140.2,312.4 L141.6,312.4 L143.0,312.4 L144.4,312.4 L145.8,312.4 L147.2,312.4 L148.6,312.4 L150.0,312.4 L151.3,312.4 L152.7,312.4 L154.1,312.4 L155.5,312.4 L156.9,312.4 L158.3,312.4 L159.7,312.4 L161.1,312.4 L162.5,312.4 L163.9,312.4 L165.3,312.4 L166.7,312.4 L168.0,312.4 L169.4,312.4 L170.8,312.4 L172.2,312.4 L173.6,312.4 L175.0,312.4 L176.4,312.4 L177.8,312.4 L179.2,312.4 L180.6,312.4 L182.0,312.4 L183.4,312.4 L184.8,312.4 L186.1,312.4 L187.5,312.4 L188.9,312.4 L190.3,312.4 L191.7,312.4 L193.1,312.4 L194.5,312.4 L195.9,312.4 L197.3,312.4 L198.7,312.4 L200.1,312.4 L201.5,312.4 L202.8,312.4 L204.2,312.3 L205.6,312.3 L207.0,312.3 L208.4,312.3 L209.8,312.3 L211.2,312.3 L212.6,312.3 L214.0,312.3 L215.4,312.3 L216.8,312.3 L218.2,312.3 L219.6,312.3 L220.9,312.3 L222.3,312.3 L223.7,312.2 L225.1,312.2 L226.5,312.2 L227.9,312.2 L229.3,312.2 L230.7,312.2 L232.1,312.2 L233.5,312.2 L234.9,312.2 L236.3,312.1 L237.6,312.1 L239.0,312.1 L240.4,312.1 L241.8,312.1 L243.2,312.1 L244.6,312.1 L246.0,312.1 L247.4,312.0 L248.8,312.0 L250.2,312.0 L251.6,311.9 L253.0,311.9 L254.4,311.9 L255.7,311.8 L257.1,311.7 L258.5,311.7 L259.9,311.6 L261.3,311.5 L262.7,311.4 L264.1,311.4 L265.5,311.3 L266.9,311.2 L268.3,311.1 L269.7,310.9 L271.1,310.8 L272.4,310.7 L273.8,310.6 L275.2,310.4 L276.6,310.2 L278.0,310.0 L279.4,309.7 L280.8,309.4 L282.2,309.1 L283.6,308.8 L285.0,308.4 L286.4,308.0 L287.8,307.5 L289.2,307.1 L290.5,306.6 L291.9,306.0 L293.3,305.3 L294.7,304.5 L296.1,303.6 L297.5,302.7 L298.9,301.6 L300.3,300.5 L301.7,299.3 L303.1,298.0 L304.5,296.4 L305.9,294.7 L307.2,292.8 L308.6,290.7 L310.0,288.4 L311.4,285.9 L312.8,283.4 L314.2,280.7 L315.6,277.9" stroke="#8fb0e2" stroke-width="0.8" fill="none" transform="translate(0.35,-0.75)" opacity="0.9"/>
<path d="M44.2,307.2 L45.6,307.6 L46.9,308.0 L48.3,308.5 L49.7,308.9 L51.1,309.3 L52.5,309.7 L53.9,310.0 L55.3,310.3 L56.7,310.5 L58.1,310.7 L59.5,310.8 L60.9,310.9 L62.3,311.0 L63.6,311.1 L65.0,311.2 L66.4,311.4 L67.8,311.5 L69.2,311.6 L70.6,311.6 L72.0,311.7 L73.4,311.8 L74.8,311.9 L76.2,312.0 L77.6,312.0 L79.0,312.1 L80.4,312.2 L81.7,312.2 L83.1,312.2 L84.5,312.3 L85.9,312.3 L87.3,312.3 L88.7,312.4 L90.1,312.4 L91.5,312.4 L92.9,312.4 L94.3,312.4 L95.7,312.4 L97.1,312.4 L98.4,312.4 L99.8,312.4 L101.2,312.4 L102.6,312.4 L104.0,312.4 L105.4,312.4 L106.8,312.4 L108.2,312.4 L109.6,312.4 L111.0,312.4 L112.4,312.4 L113.8,312.4 L115.2,312.4 L116.5,312.4 L117.9,312.4 L119.3,312.4 L120.7,312.4 L122.1,312.4 L123.5,312.4 L124.9,312.4 L126.3,312.4 L127.7,312.4 L129.1,312.4 L130.5,312.4 L131.9,312.4 L133.2,312.4 L134.6,312.4 L136.0,312.4 L137.4,312.4 L138.8,312.4 L140.2,312.4 L141.6,312.4 L143.0,312.4 L144.4,312.4 L145.8,312.4 L147.2,312.4 L148.6,312.4 L150.0,312.4 L151.3,312.4 L152.7,312.4 L154.1,312.4 L155.5,312.4 L156.9,312.4 L158.3,312.4 L159.7,312.4 L161.1,312.4 L162.5,312.4 L163.9,312.4 L165.3,312.4 L166.7,312.4 L168.0,312.4 L169.4,312.4 L170.8,312.4 L172.2,312.4 L173.6,312.4 L175.0,312.4 L176.4,312.4 L177.8,312.4 L179.2,312.4 L180.6,312.4 L182.0,312.4 L183.4,312.4 L184.8,312.4 L186.1,312.4 L187.5,312.4 L188.9,312.4 L190.3,312.4 L191.7,312.4 L193.1,312.4 L194.5,312.4 L195.9,312.4 L197.3,312.4 L198.7,312.4 L200.1,312.4 L201.5,312.4 L202.8,312.4 L204.2,312.3 L205.6,312.3 L207.0,312.3 L208.4,312.3 L209.8,312.3 L211.2,312.3 L212.6,312.3 L214.0,312.3 L215.4,312.3 L216.8,312.3 L218.2,312.3 L219.6,312.3 L220.9,312.3 L222.3,312.3 L223.7,312.2 L225.1,312.2 L226.5,312.2 L227.9,312.2 L229.3,312.2 L230.7,312.2 L232.1,312.2 L233.5,312.2 L234.9,312.2 L236.3,312.1 L237.6,312.1 L239.0,312.1 L240.4,312.1 L241.8,312.1 L243.2,312.1 L244.6,312.1 L246.0,312.1 L247.4,312.0 L248.8,312.0 L250.2,312.0 L251.6,311.9 L253.0,311.9 L254.4,311.9 L255.7,311.8 L257.1,311.7 L258.5,311.7 L259.9,311.6 L261.3,311.5 L262.7,311.4 L264.1,311.4 L265.5,311.3 L266.9,311.2 L268.3,311.1 L269.7,310.9 L271.1,310.8 L272.4,310.7 L273.8,310.6 L275.2,310.4 L276.6,310.2 L278.0,310.0 L279.4,309.7 L280.8,309.4 L282.2,309.1 L283.6,308.8 L285.0,308.4 L286.4,308.0 L287.8,307.5 L289.2,307.1 L290.5,306.6 L291.9,306.0 L293.3,305.3 L294.7,304.5 L296.1,303.6 L297.5,302.7 L298.9,301.6 L300.3,300.5 L301.7,299.3 L303.1,298.0 L304.5,296.4 L305.9,294.7 L307.2,292.8 L308.6,290.7 L310.0,288.4 L311.4,285.9 L312.8,283.4 L314.2,280.7 L315.6,277.9" stroke="#152e75" stroke-width="1" fill="none" stroke-linejoin="round"/>
<text x="200.8" y="239.65" font-size="8.2" text-anchor="start" font-weight="bold" fill="#111" textLength="13" lengthAdjust="spacingAndGlyphs">1-2</text>
<text x="275.8" y="303.15" font-size="8.2" text-anchor="start" font-weight="bold" fill="#111" textLength="17.5" lengthAdjust="spacingAndGlyphs">4-19</text>
<text x="319.3" y="315.25" font-size="8.2" text-anchor="start" font-weight="bold" fill="#111" textLength="4.7" lengthAdjust="spacingAndGlyphs">3</text>
<text x="346.4" y="187.3" font-size="14.1" text-anchor="start" font-weight="normal" fill="#111" textLength="11.6" lengthAdjust="spacingAndGlyphs">(j)</text>
<text x="489.3" y="181.7" font-size="6.5" text-anchor="start" font-weight="bold" fill="#111" textLength="47" lengthAdjust="spacingAndGlyphs">Amplification</text>
<path d="M447.88,189.7 V320.8 M518.06,189.7 V320.8 M588.24,189.7 V320.8 M658.42,189.7 V320.8 M379.5,318.5 H670.4 M379.5,294.84 H670.4 M379.5,271.18 H670.4 M379.5,247.52 H670.4 M379.5,223.86 H670.4 M379.5,200.2 H670.4" stroke="#767676" stroke-width="1" stroke-dasharray="1 3.4" fill="none"/>
<path d="M377.5,188.2 H671.4" stroke="#8c8c8c" stroke-width="1.5" fill="none"/>
<path d="M671.4,187.55 V321.3 M377.5,187.55 V321.3 H671.4" stroke="#1c1c1c" stroke-width="1.3" fill="none"/>
<path d="M374,318.5 H379.7 M669.2,318.5 H671.4 M375.9,312.58 H378.7 M670.2,312.58 H671.4 M375.9,306.67 H378.7 M670.2,306.67 H671.4 M375.9,300.75 H378.7 M670.2,300.75 H671.4 M374,294.84 H379.7 M669.2,294.84 H671.4 M375.9,288.93 H378.7 M670.2,288.93 H671.4 M375.9,283.01 H378.7 M670.2,283.01 H671.4 M375.9,277.1 H378.7 M670.2,277.1 H671.4 M374,271.18 H379.7 M669.2,271.18 H671.4 M375.9,265.26 H378.7 M670.2,265.26 H671.4 M375.9,259.35 H378.7 M670.2,259.35 H671.4 M375.9,253.44 H378.7 M670.2,253.44 H671.4 M374,247.52 H379.7 M669.2,247.52 H671.4 M375.9,241.61 H378.7 M670.2,241.61 H671.4 M375.9,235.69 H378.7 M670.2,235.69 H671.4 M375.9,229.78 H378.7 M670.2,229.78 H671.4 M374,223.86 H379.7 M669.2,223.86 H671.4 M375.9,217.94 H378.7 M670.2,217.94 H671.4 M375.9,212.03 H378.7 M670.2,212.03 H671.4 M375.9,206.12 H378.7 M670.2,206.12 H671.4 M374,200.2 H379.7 M669.2,200.2 H671.4 M375.9,194.28 H378.7 M670.2,194.28 H671.4 M375.9,188.37 H378.7 M670.2,188.37 H671.4 M377.7,319.5 V323.9 M377.7,188.2 V190.4 M391.74,320.3 V323.1 M391.74,188.2 V189.7 M405.77,320.3 V323.1 M405.77,188.2 V189.7 M419.81,320.3 V323.1 M419.81,188.2 V189.7 M433.84,320.3 V323.1 M433.84,188.2 V189.7 M447.88,319.5 V323.9 M447.88,188.2 V190.4 M461.92,320.3 V323.1 M461.92,188.2 V189.7 M475.95,320.3 V323.1 M475.95,188.2 V189.7 M489.99,320.3 V323.1 M489.99,188.2 V189.7 M504.02,320.3 V323.1 M504.02,188.2 V189.7 M518.06,319.5 V323.9 M518.06,188.2 V190.4 M532.1,320.3 V323.1 M532.1,188.2 V189.7 M546.13,320.3 V323.1 M546.13,188.2 V189.7 M560.17,320.3 V323.1 M560.17,188.2 V189.7 M574.2,320.3 V323.1 M574.2,188.2 V189.7 M588.24,319.5 V323.9 M588.24,188.2 V190.4 M602.28,320.3 V323.1 M602.28,188.2 V189.7 M616.31,320.3 V323.1 M616.31,188.2 V189.7 M630.35,320.3 V323.1 M630.35,188.2 V189.7 M644.38,320.3 V323.1 M644.38,188.2 V189.7 M658.42,319.5 V323.9 M658.42,188.2 V190.4" stroke="#1c1c1c" stroke-width="1" fill="none"/>
<text x="369.8" y="319.8" font-size="5.6" text-anchor="end" font-weight="bold" fill="#1e1e26" textLength="3.85" lengthAdjust="spacingAndGlyphs">0</text>
<text x="369.8" y="296.14" font-size="5.6" text-anchor="end" font-weight="bold" fill="#1e1e26" textLength="3.85" lengthAdjust="spacingAndGlyphs">2</text>
<text x="369.8" y="272.48" font-size="5.6" text-anchor="end" font-weight="bold" fill="#1e1e26" textLength="3.85" lengthAdjust="spacingAndGlyphs">4</text>
<text x="369.8" y="248.82" font-size="5.6" text-anchor="end" font-weight="bold" fill="#1e1e26" textLength="3.85" lengthAdjust="spacingAndGlyphs">6</text>
<text x="369.8" y="225.16" font-size="5.6" text-anchor="end" font-weight="bold" fill="#1e1e26" textLength="3.85" lengthAdjust="spacingAndGlyphs">8</text>
<text x="369.8" y="201.5" font-size="5.6" text-anchor="end" font-weight="bold" fill="#1e1e26" textLength="7.7" lengthAdjust="spacingAndGlyphs">10</text>
<text x="377.7" y="331.6" font-size="6.2" text-anchor="middle" font-weight="bold" fill="#1e1e26" textLength="4.1" lengthAdjust="spacingAndGlyphs">0</text>
<text x="447.88" y="331.6" font-size="6.2" text-anchor="middle" font-weight="bold" fill="#1e1e26" textLength="8.2" lengthAdjust="spacingAndGlyphs">10</text>
<text x="518.06" y="331.6" font-size="6.2" text-anchor="middle" font-weight="bold" fill="#1e1e26" textLength="8.2" lengthAdjust="spacingAndGlyphs">20</text>
<text x="588.24" y="331.6" font-size="6.2" text-anchor="middle" font-weight="bold" fill="#1e1e26" textLength="8.2" lengthAdjust="spacingAndGlyphs">30</text>
<text x="658.42" y="331.6" font-size="6.2" text-anchor="middle" font-weight="bold" fill="#1e1e26" textLength="8.2" lengthAdjust="spacingAndGlyphs">40</text>
<text x="511.8" y="343.9" font-size="6.5" text-anchor="start" font-weight="bold" fill="#1a1a1a" textLength="24.1" lengthAdjust="spacingAndGlyphs">Cycles</text>
<text transform="translate(356.3,253.9) rotate(-90)" x="0" y="0" font-size="6" font-weight="bold" text-anchor="middle" fill="#1a1a1a" textLength="34" lengthAdjust="spacingAndGlyphs">RFU (10^3)</text>
<rect x="643.25" y="336.85" width="8.5" height="6.9" rx="2" fill="#ededed" stroke="#3c3c3c" stroke-width="1"/>
<clipPath id="clipj"><rect x="0" y="0" width="682.8" height="528"/></clipPath>
<g clip-path="url(#clipj)"><text x="656.9" y="343.3" font-size="8" text-anchor="start" font-weight="normal" fill="#15151c" textLength="35.2" lengthAdjust="spacingAndGlyphs" stroke="#15151c" stroke-width="0.22">Log Scale</text></g>
<path d="M384.72,309.39 H658.42" stroke="#17246c" stroke-width="1.4" fill="none"/>
<path d="M384.72,318.15 H658.42" stroke="#0e2672" stroke-width="1.9" fill="none"/>
<path d="M384.7,316.1 L386.1,316.4 L387.5,316.7 L388.9,316.9 L390.3,317.2 L391.7,317.3 L393.1,317.4 L394.5,317.6 L395.9,317.7 L397.4,317.8 L398.8,317.9 L400.2,317.9 L401.6,318.0 L403.0,318.1 L404.4,318.1 L405.8,318.1 L407.2,318.2 L408.6,318.2 L410.0,318.2 L411.4,318.2 L412.8,318.3 L414.2,318.3 L415.6,318.3 L417.0,318.3 L418.4,318.3 L419.8,318.3 L421.2,318.4 L422.6,318.4 L424.0,318.4 L425.4,318.4 L426.8,318.4 L428.2,318.4 L429.6,318.4 L431.0,318.4 L432.4,318.5 L433.8,318.5 L435.2,318.5 L436.7,318.5 L438.1,318.5 L439.5,318.5 L440.9,318.5 L442.3,318.5 L443.7,318.5 L445.1,318.5 L446.5,318.5 L447.9,318.5 L449.3,318.5 L450.7,318.5 L452.1,318.5 L453.5,318.5 L454.9,318.5 L456.3,318.5 L457.7,318.5 L459.1,318.5 L460.5,318.5 L461.9,318.5 L463.3,318.5 L464.7,318.5 L466.1,318.5 L467.5,318.5 L468.9,318.5 L470.3,318.5 L471.7,318.5 L473.1,318.5 L474.5,318.5 L476.0,318.5 L477.4,318.5 L478.8,318.5 L480.2,318.5 L481.6,318.5 L483.0,318.5 L484.4,318.5 L485.8,318.5 L487.2,318.5 L488.6,318.5 L490.0,318.5 L491.4,318.5 L492.8,318.5 L494.2,318.5 L495.6,318.5 L497.0,318.5 L498.4,318.5 L499.8,318.4 L501.2,318.4 L502.6,318.3 L504.0,318.3 L505.4,318.2 L506.8,318.1 L508.2,317.9 L509.6,317.7 L511.0,317.4 L512.4,317.1 L513.8,316.6 L515.3,316.1 L516.7,315.5 L518.1,314.8 L519.5,314.0 L520.9,313.1 L522.3,312.0 L523.7,310.8 L525.1,309.5 L526.5,308.1 L527.9,306.6 L529.3,304.9 L530.7,303.1 L532.1,301.2 L533.5,299.1 L534.9,297.0 L536.3,294.8 L537.7,292.5 L539.1,290.1 L540.5,287.6 L541.9,285.1 L543.3,282.6 L544.7,280.0 L546.1,277.4 L547.5,274.7 L548.9,272.1 L550.3,269.4 L551.7,266.8 L553.1,264.2 L554.6,261.6 L556.0,259.1 L557.4,256.6 L558.8,254.1 L560.2,251.7 L561.6,249.3 L563.0,247.0 L564.4,244.7 L565.8,242.5 L567.2,240.3 L568.6,238.2 L570.0,236.1 L571.4,234.2 L572.8,232.2 L574.2,230.4 L575.6,228.6 L577.0,226.8 L578.4,225.2 L579.8,223.6 L581.2,222.0 L582.6,220.6 L584.0,219.1 L585.4,217.8 L586.8,216.5 L588.2,215.2 L589.6,214.1 L591.0,212.9 L592.5,211.8 L593.9,210.8 L595.3,209.8 L596.7,208.9 L598.1,208.0 L599.5,207.1 L600.9,206.3 L602.3,205.5 L603.7,204.8 L605.1,204.1 L606.5,203.4 L607.9,202.7 L609.3,202.1 L610.7,201.6 L612.1,201.0 L613.5,200.5 L614.9,200.0 L616.3,199.6 L617.7,199.1 L619.1,198.8 L620.5,198.4 L621.9,198.0 L623.3,197.7 L624.7,197.4 L626.1,197.1 L627.5,196.9 L628.9,196.6 L630.3,196.4 L631.8,196.2 L633.2,196.0 L634.6,195.8 L636.0,195.6 L637.4,195.4 L638.8,195.3 L640.2,195.1 L641.6,195.0 L643.0,194.8 L644.4,194.7 L645.8,194.6 L647.2,194.5 L648.6,194.4 L650.0,194.3 L651.4,194.2 L652.8,194.1 L654.2,194.0 L655.6,193.9 L657.0,193.8 L658.4,193.8" stroke="#8fb0e2" stroke-width="0.8" fill="none" transform="translate(0.35,-0.75)" opacity="0.9"/>
<path d="M384.7,316.1 L386.1,316.4 L387.5,316.7 L388.9,316.9 L390.3,317.2 L391.7,317.3 L393.1,317.4 L394.5,317.6 L395.9,317.7 L397.4,317.8 L398.8,317.9 L400.2,317.9 L401.6,318.0 L403.0,318.1 L404.4,318.1 L405.8,318.1 L407.2,318.2 L408.6,318.2 L410.0,318.2 L411.4,318.2 L412.8,318.3 L414.2,318.3 L415.6,318.3 L417.0,318.3 L418.4,318.3 L419.8,318.3 L421.2,318.4 L422.6,318.4 L424.0,318.4 L425.4,318.4 L426.8,318.4 L428.2,318.4 L429.6,318.4 L431.0,318.4 L432.4,318.5 L433.8,318.5 L435.2,318.5 L436.7,318.5 L438.1,318.5 L439.5,318.5 L440.9,318.5 L442.3,318.5 L443.7,318.5 L445.1,318.5 L446.5,318.5 L447.9,318.5 L449.3,318.5 L450.7,318.5 L452.1,318.5 L453.5,318.5 L454.9,318.5 L456.3,318.5 L457.7,318.5 L459.1,318.5 L460.5,318.5 L461.9,318.5 L463.3,318.5 L464.7,318.5 L466.1,318.5 L467.5,318.5 L468.9,318.5 L470.3,318.5 L471.7,318.5 L473.1,318.5 L474.5,318.5 L476.0,318.5 L477.4,318.5 L478.8,318.5 L480.2,318.5 L481.6,318.5 L483.0,318.5 L484.4,318.5 L485.8,318.5 L487.2,318.5 L488.6,318.5 L490.0,318.5 L491.4,318.5 L492.8,318.5 L494.2,318.5 L495.6,318.5 L497.0,318.5 L498.4,318.5 L499.8,318.4 L501.2,318.4 L502.6,318.3 L504.0,318.3 L505.4,318.2 L506.8,318.1 L508.2,317.9 L509.6,317.7 L511.0,317.4 L512.4,317.1 L513.8,316.6 L515.3,316.1 L516.7,315.5 L518.1,314.8 L519.5,314.0 L520.9,313.1 L522.3,312.0 L523.7,310.8 L525.1,309.5 L526.5,308.1 L527.9,306.6 L529.3,304.9 L530.7,303.1 L532.1,301.2 L533.5,299.1 L534.9,297.0 L536.3,294.8 L537.7,292.5 L539.1,290.1 L540.5,287.6 L541.9,285.1 L543.3,282.6 L544.7,280.0 L546.1,277.4 L547.5,274.7 L548.9,272.1 L550.3,269.4 L551.7,266.8 L553.1,264.2 L554.6,261.6 L556.0,259.1 L557.4,256.6 L558.8,254.1 L560.2,251.7 L561.6,249.3 L563.0,247.0 L564.4,244.7 L565.8,242.5 L567.2,240.3 L568.6,238.2 L570.0,236.1 L571.4,234.2 L572.8,232.2 L574.2,230.4 L575.6,228.6 L577.0,226.8 L578.4,225.2 L579.8,223.6 L581.2,222.0 L582.6,220.6 L584.0,219.1 L585.4,217.8 L586.8,216.5 L588.2,215.2 L589.6,214.1 L591.0,212.9 L592.5,211.8 L593.9,210.8 L595.3,209.8 L596.7,208.9 L598.1,208.0 L599.5,207.1 L600.9,206.3 L602.3,205.5 L603.7,204.8 L605.1,204.1 L606.5,203.4 L607.9,202.7 L609.3,202.1 L610.7,201.6 L612.1,201.0 L613.5,200.5 L614.9,200.0 L616.3,199.6 L617.7,199.1 L619.1,198.8 L620.5,198.4 L621.9,198.0 L623.3,197.7 L624.7,197.4 L626.1,197.1 L627.5,196.9 L628.9,196.6 L630.3,196.4 L631.8,196.2 L633.2,196.0 L634.6,195.8 L636.0,195.6 L637.4,195.4 L638.8,195.3 L640.2,195.1 L641.6,195.0 L643.0,194.8 L644.4,194.7 L645.8,194.6 L647.2,194.5 L648.6,194.4 L650.0,194.3 L651.4,194.2 L652.8,194.1 L654.2,194.0 L655.6,193.9 L657.0,193.8 L658.4,193.8" stroke="#152e75" stroke-width="1" fill="none" stroke-linejoin="round"/>
<path d="M384.7,316.7 L386.1,316.9 L387.5,317.1 L388.9,317.3 L390.3,317.4 L391.7,317.6 L393.1,317.7 L394.5,317.8 L395.9,317.8 L397.4,317.9 L398.8,318.0 L400.2,318.1 L401.6,318.2 L403.0,318.2 L404.4,318.2 L405.8,318.3 L407.2,318.3 L408.6,318.3 L410.0,318.3 L411.4,318.3 L412.8,318.3 L414.2,318.4 L415.6,318.4 L417.0,318.4 L418.4,318.4 L419.8,318.4 L421.2,318.4 L422.6,318.4 L424.0,318.4 L425.4,318.4 L426.8,318.4 L428.2,318.5 L429.6,318.5 L431.0,318.5 L432.4,318.5 L433.8,318.5 L435.2,318.5 L436.7,318.5 L438.1,318.5 L439.5,318.5 L440.9,318.5 L442.3,318.5 L443.7,318.5 L445.1,318.5 L446.5,318.5 L447.9,318.5 L449.3,318.5 L450.7,318.5 L452.1,318.5 L453.5,318.5 L454.9,318.5 L456.3,318.5 L457.7,318.5 L459.1,318.5 L460.5,318.5 L461.9,318.5 L463.3,318.5 L464.7,318.5 L466.1,318.5 L467.5,318.5 L468.9,318.5 L470.3,318.5 L471.7,318.5 L473.1,318.5 L474.5,318.5 L476.0,318.5 L477.4,318.5 L478.8,318.5 L480.2,318.5 L481.6,318.5 L483.0,318.5 L484.4,318.5 L485.8,318.5 L487.2,318.5 L488.6,318.5 L490.0,318.5 L491.4,318.5 L492.8,318.5 L494.2,318.5 L495.6,318.5 L497.0,318.4 L498.4,318.4 L499.8,318.4 L501.2,318.3 L502.6,318.3 L504.0,318.2 L505.4,318.1 L506.8,318.0 L508.2,317.8 L509.6,317.6 L511.0,317.3 L512.4,316.9 L513.8,316.5 L515.3,316.0 L516.7,315.4 L518.1,314.8 L519.5,314.0 L520.9,313.2 L522.3,312.3 L523.7,311.3 L525.1,310.1 L526.5,308.9 L527.9,307.5 L529.3,306.1 L530.7,304.5 L532.1,302.8 L533.5,301.1 L534.9,299.2 L536.3,297.2 L537.7,295.1 L539.1,293.0 L540.5,290.8 L541.9,288.5 L543.3,286.2 L544.7,283.8 L546.1,281.4 L547.5,278.9 L548.9,276.5 L550.3,274.0 L551.7,271.5 L553.1,269.1 L554.6,266.6 L556.0,264.2 L557.4,261.8 L558.8,259.4 L560.2,257.1 L561.6,254.8 L563.0,252.6 L564.4,250.4 L565.8,248.2 L567.2,246.1 L568.6,244.1 L570.0,242.1 L571.4,240.2 L572.8,238.3 L574.2,236.4 L575.6,234.7 L577.0,232.9 L578.4,231.3 L579.8,229.7 L581.2,228.2 L582.6,226.7 L584.0,225.3 L585.4,224.0 L586.8,222.7 L588.2,221.5 L589.6,220.3 L591.0,219.2 L592.5,218.2 L593.9,217.2 L595.3,216.3 L596.7,215.4 L598.1,214.5 L599.5,213.7 L600.9,212.9 L602.3,212.1 L603.7,211.4 L605.1,210.7 L606.5,210.0 L607.9,209.4 L609.3,208.7 L610.7,208.1 L612.1,207.6 L613.5,207.0 L614.9,206.5 L616.3,206.0 L617.7,205.6 L619.1,205.1 L620.5,204.7 L621.9,204.4 L623.3,204.0 L624.7,203.7 L626.1,203.4 L627.5,203.1 L628.9,202.9 L630.3,202.6 L631.8,202.4 L633.2,202.2 L634.6,202.0 L636.0,201.8 L637.4,201.6 L638.8,201.5 L640.2,201.3 L641.6,201.2 L643.0,201.1 L644.4,201.0 L645.8,200.8 L647.2,200.7 L648.6,200.7 L650.0,200.6 L651.4,200.5 L652.8,200.4 L654.2,200.3 L655.6,200.3 L657.0,200.2 L658.4,200.2" stroke="#8fb0e2" stroke-width="0.8" fill="none" transform="translate(0.35,-0.75)" opacity="0.9"/>
<path d="M384.7,316.7 L386.1,316.9 L387.5,317.1 L388.9,317.3 L390.3,317.4 L391.7,317.6 L393.1,317.7 L394.5,317.8 L395.9,317.8 L397.4,317.9 L398.8,318.0 L400.2,318.1 L401.6,318.2 L403.0,318.2 L404.4,318.2 L405.8,318.3 L407.2,318.3 L408.6,318.3 L410.0,318.3 L411.4,318.3 L412.8,318.3 L414.2,318.4 L415.6,318.4 L417.0,318.4 L418.4,318.4 L419.8,318.4 L421.2,318.4 L422.6,318.4 L424.0,318.4 L425.4,318.4 L426.8,318.4 L428.2,318.5 L429.6,318.5 L431.0,318.5 L432.4,318.5 L433.8,318.5 L435.2,318.5 L436.7,318.5 L438.1,318.5 L439.5,318.5 L440.9,318.5 L442.3,318.5 L443.7,318.5 L445.1,318.5 L446.5,318.5 L447.9,318.5 L449.3,318.5 L450.7,318.5 L452.1,318.5 L453.5,318.5 L454.9,318.5 L456.3,318.5 L457.7,318.5 L459.1,318.5 L460.5,318.5 L461.9,318.5 L463.3,318.5 L464.7,318.5 L466.1,318.5 L467.5,318.5 L468.9,318.5 L470.3,318.5 L471.7,318.5 L473.1,318.5 L474.5,318.5 L476.0,318.5 L477.4,318.5 L478.8,318.5 L480.2,318.5 L481.6,318.5 L483.0,318.5 L484.4,318.5 L485.8,318.5 L487.2,318.5 L488.6,318.5 L490.0,318.5 L491.4,318.5 L492.8,318.5 L494.2,318.5 L495.6,318.5 L497.0,318.4 L498.4,318.4 L499.8,318.4 L501.2,318.3 L502.6,318.3 L504.0,318.2 L505.4,318.1 L506.8,318.0 L508.2,317.8 L509.6,317.6 L511.0,317.3 L512.4,316.9 L513.8,316.5 L515.3,316.0 L516.7,315.4 L518.1,314.8 L519.5,314.0 L520.9,313.2 L522.3,312.3 L523.7,311.3 L525.1,310.1 L526.5,308.9 L527.9,307.5 L529.3,306.1 L530.7,304.5 L532.1,302.8 L533.5,301.1 L534.9,299.2 L536.3,297.2 L537.7,295.1 L539.1,293.0 L540.5,290.8 L541.9,288.5 L543.3,286.2 L544.7,283.8 L546.1,281.4 L547.5,278.9 L548.9,276.5 L550.3,274.0 L551.7,271.5 L553.1,269.1 L554.6,266.6 L556.0,264.2 L557.4,261.8 L558.8,259.4 L560.2,257.1 L561.6,254.8 L563.0,252.6 L564.4,250.4 L565.8,248.2 L567.2,246.1 L568.6,244.1 L570.0,242.1 L571.4,240.2 L572.8,238.3 L574.2,236.4 L575.6,234.7 L577.0,232.9 L578.4,231.3 L579.8,229.7 L581.2,228.2 L582.6,226.7 L584.0,225.3 L585.4,224.0 L586.8,222.7 L588.2,221.5 L589.6,220.3 L591.0,219.2 L592.5,218.2 L593.9,217.2 L595.3,216.3 L596.7,215.4 L598.1,214.5 L599.5,213.7 L600.9,212.9 L602.3,212.1 L603.7,211.4 L605.1,210.7 L606.5,210.0 L607.9,209.4 L609.3,208.7 L610.7,208.1 L612.1,207.6 L613.5,207.0 L614.9,206.5 L616.3,206.0 L617.7,205.6 L619.1,205.1 L620.5,204.7 L621.9,204.4 L623.3,204.0 L624.7,203.7 L626.1,203.4 L627.5,203.1 L628.9,202.9 L630.3,202.6 L631.8,202.4 L633.2,202.2 L634.6,202.0 L636.0,201.8 L637.4,201.6 L638.8,201.5 L640.2,201.3 L641.6,201.2 L643.0,201.1 L644.4,201.0 L645.8,200.8 L647.2,200.7 L648.6,200.7 L650.0,200.6 L651.4,200.5 L652.8,200.4 L654.2,200.3 L655.6,200.3 L657.0,200.2 L658.4,200.2" stroke="#152e75" stroke-width="1" fill="none" stroke-linejoin="round"/>
<path d="M384.7,317.3 L386.1,317.4 L387.5,317.4 L388.9,317.4 L390.3,317.5 L391.7,317.5 L393.1,317.6 L394.5,317.6 L395.9,317.6 L397.4,317.7 L398.8,317.7 L400.2,317.7 L401.6,317.8 L403.0,317.8 L404.4,317.8 L405.8,317.8 L407.2,317.9 L408.6,317.9 L410.0,317.9 L411.4,317.9 L412.8,317.9 L414.2,317.9 L415.6,317.9 L417.0,317.9 L418.4,317.9 L419.8,317.9 L421.2,317.9 L422.6,317.9 L424.0,317.9 L425.4,317.9 L426.8,317.9 L428.2,317.9 L429.6,317.9 L431.0,317.9 L432.4,317.9 L433.8,317.9 L435.2,317.9 L436.7,317.9 L438.1,317.9 L439.5,317.9 L440.9,317.9 L442.3,317.9 L443.7,317.9 L445.1,317.9 L446.5,317.9 L447.9,317.9 L449.3,317.9 L450.7,317.9 L452.1,317.9 L453.5,317.9 L454.9,317.9 L456.3,317.9 L457.7,317.9 L459.1,317.9 L460.5,317.9 L461.9,317.9 L463.3,317.9 L464.7,317.9 L466.1,317.9 L467.5,317.9 L468.9,317.9 L470.3,317.9 L471.7,317.9 L473.1,317.9 L474.5,317.9 L476.0,317.9 L477.4,317.9 L478.8,317.9 L480.2,317.9 L481.6,317.9 L483.0,317.9 L484.4,317.9 L485.8,317.9 L487.2,317.9 L488.6,317.9 L490.0,317.9 L491.4,317.9 L492.8,317.9 L494.2,317.9 L495.6,317.9 L497.0,317.9 L498.4,317.9 L499.8,317.9 L501.2,317.9 L502.6,317.9 L504.0,317.9 L505.4,317.9 L506.8,317.9 L508.2,317.9 L509.6,317.9 L511.0,317.9 L512.4,317.9 L513.8,317.9 L515.3,317.9 L516.7,317.9 L518.1,317.9 L519.5,317.9 L520.9,317.9 L522.3,317.9 L523.7,317.9 L525.1,317.9 L526.5,317.9 L527.9,317.9 L529.3,317.9 L530.7,317.9 L532.1,317.9 L533.5,317.9 L534.9,317.9 L536.3,317.9 L537.7,317.9 L539.1,317.9 L540.5,317.9 L541.9,317.9 L543.3,317.9 L544.7,317.9 L546.1,317.9 L547.5,317.9 L548.9,317.9 L550.3,317.9 L551.7,317.9 L553.1,317.9 L554.6,317.9 L556.0,317.9 L557.4,317.9 L558.8,317.9 L560.2,317.9 L561.6,317.9 L563.0,317.9 L564.4,317.9 L565.8,317.9 L567.2,317.9 L568.6,317.9 L570.0,317.9 L571.4,317.9 L572.8,317.9 L574.2,317.9 L575.6,317.9 L577.0,317.9 L578.4,317.9 L579.8,317.9 L581.2,317.9 L582.6,317.9 L584.0,317.9 L585.4,317.9 L586.8,317.9 L588.2,317.9 L589.6,317.9 L591.0,317.9 L592.5,317.9 L593.9,317.9 L595.3,317.8 L596.7,317.8 L598.1,317.8 L599.5,317.7 L600.9,317.7 L602.3,317.6 L603.7,317.5 L605.1,317.5 L606.5,317.4 L607.9,317.3 L609.3,317.2 L610.7,317.1 L612.1,317.1 L613.5,316.9 L614.9,316.8 L616.3,316.7 L617.7,316.5 L619.1,316.2 L620.5,315.7 L621.9,315.2 L623.3,314.5 L624.7,313.8 L626.1,313.0 L627.5,312.2 L628.9,311.3 L630.3,310.4 L631.8,309.5 L633.2,308.6 L634.6,307.6 L636.0,306.4 L637.4,305.2 L638.8,303.9 L640.2,302.6 L641.6,301.2 L643.0,299.8 L644.4,298.4 L645.8,297.0 L647.2,295.5 L648.6,294.0 L650.0,292.5 L651.4,291.0 L652.8,289.4 L654.2,287.7 L655.6,286.1 L657.0,284.4 L658.4,282.7" stroke="#8fb0e2" stroke-width="0.8" fill="none" transform="translate(0.35,-0.75)" opacity="0.9"/>
<path d="M384.7,317.3 L386.1,317.4 L387.5,317.4 L388.9,317.4 L390.3,317.5 L391.7,317.5 L393.1,317.6 L394.5,317.6 L395.9,317.6 L397.4,317.7 L398.8,317.7 L400.2,317.7 L401.6,317.8 L403.0,317.8 L404.4,317.8 L405.8,317.8 L407.2,317.9 L408.6,317.9 L410.0,317.9 L411.4,317.9 L412.8,317.9 L414.2,317.9 L415.6,317.9 L417.0,317.9 L418.4,317.9 L419.8,317.9 L421.2,317.9 L422.6,317.9 L424.0,317.9 L425.4,317.9 L426.8,317.9 L428.2,317.9 L429.6,317.9 L431.0,317.9 L432.4,317.9 L433.8,317.9 L435.2,317.9 L436.7,317.9 L438.1,317.9 L439.5,317.9 L440.9,317.9 L442.3,317.9 L443.7,317.9 L445.1,317.9 L446.5,317.9 L447.9,317.9 L449.3,317.9 L450.7,317.9 L452.1,317.9 L453.5,317.9 L454.9,317.9 L456.3,317.9 L457.7,317.9 L459.1,317.9 L460.5,317.9 L461.9,317.9 L463.3,317.9 L464.7,317.9 L466.1,317.9 L467.5,317.9 L468.9,317.9 L470.3,317.9 L471.7,317.9 L473.1,317.9 L474.5,317.9 L476.0,317.9 L477.4,317.9 L478.8,317.9 L480.2,317.9 L481.6,317.9 L483.0,317.9 L484.4,317.9 L485.8,317.9 L487.2,317.9 L488.6,317.9 L490.0,317.9 L491.4,317.9 L492.8,317.9 L494.2,317.9 L495.6,317.9 L497.0,317.9 L498.4,317.9 L499.8,317.9 L501.2,317.9 L502.6,317.9 L504.0,317.9 L505.4,317.9 L506.8,317.9 L508.2,317.9 L509.6,317.9 L511.0,317.9 L512.4,317.9 L513.8,317.9 L515.3,317.9 L516.7,317.9 L518.1,317.9 L519.5,317.9 L520.9,317.9 L522.3,317.9 L523.7,317.9 L525.1,317.9 L526.5,317.9 L527.9,317.9 L529.3,317.9 L530.7,317.9 L532.1,317.9 L533.5,317.9 L534.9,317.9 L536.3,317.9 L537.7,317.9 L539.1,317.9 L540.5,317.9 L541.9,317.9 L543.3,317.9 L544.7,317.9 L546.1,317.9 L547.5,317.9 L548.9,317.9 L550.3,317.9 L551.7,317.9 L553.1,317.9 L554.6,317.9 L556.0,317.9 L557.4,317.9 L558.8,317.9 L560.2,317.9 L561.6,317.9 L563.0,317.9 L564.4,317.9 L565.8,317.9 L567.2,317.9 L568.6,317.9 L570.0,317.9 L571.4,317.9 L572.8,317.9 L574.2,317.9 L575.6,317.9 L577.0,317.9 L578.4,317.9 L579.8,317.9 L581.2,317.9 L582.6,317.9 L584.0,317.9 L585.4,317.9 L586.8,317.9 L588.2,317.9 L589.6,317.9 L591.0,317.9 L592.5,317.9 L593.9,317.9 L595.3,317.8 L596.7,317.8 L598.1,317.8 L599.5,317.7 L600.9,317.7 L602.3,317.6 L603.7,317.5 L605.1,317.5 L606.5,317.4 L607.9,317.3 L609.3,317.2 L610.7,317.1 L612.1,317.1 L613.5,316.9 L614.9,316.8 L616.3,316.7 L617.7,316.5 L619.1,316.2 L620.5,315.7 L621.9,315.2 L623.3,314.5 L624.7,313.8 L626.1,313.0 L627.5,312.2 L628.9,311.3 L630.3,310.4 L631.8,309.5 L633.2,308.6 L634.6,307.6 L636.0,306.4 L637.4,305.2 L638.8,303.9 L640.2,302.6 L641.6,301.2 L643.0,299.8 L644.4,298.4 L645.8,297.0 L647.2,295.5 L648.6,294.0 L650.0,292.5 L651.4,291.0 L652.8,289.4 L654.2,287.7 L655.6,286.1 L657.0,284.4 L658.4,282.7" stroke="#152e75" stroke-width="1" fill="none" stroke-linejoin="round"/>
<path d="M384.7,317.9 L386.1,317.9 L387.5,318.0 L388.9,318.0 L390.3,318.0 L391.7,318.0 L393.1,318.0 L394.5,318.1 L395.9,318.1 L397.4,318.1 L398.8,318.1 L400.2,318.1 L401.6,318.2 L403.0,318.2 L404.4,318.2 L405.8,318.2 L407.2,318.2 L408.6,318.2 L410.0,318.2 L411.4,318.3 L412.8,318.3 L414.2,318.3 L415.6,318.3 L417.0,318.3 L418.4,318.3 L419.8,318.3 L421.2,318.3 L422.6,318.3 L424.0,318.3 L425.4,318.3 L426.8,318.3 L428.2,318.3 L429.6,318.3 L431.0,318.3 L432.4,318.3 L433.8,318.3 L435.2,318.4 L436.7,318.4 L438.1,318.4 L439.5,318.4 L440.9,318.4 L442.3,318.4 L443.7,318.4 L445.1,318.4 L446.5,318.4 L447.9,318.4 L449.3,318.4 L450.7,318.4 L452.1,318.4 L453.5,318.4 L454.9,318.4 L456.3,318.4 L457.7,318.4 L459.1,318.4 L460.5,318.4 L461.9,318.4 L463.3,318.4 L464.7,318.4 L466.1,318.4 L467.5,318.4 L468.9,318.4 L470.3,318.5 L471.7,318.5 L473.1,318.5 L474.5,318.5 L476.0,318.5 L477.4,318.5 L478.8,318.5 L480.2,318.5 L481.6,318.5 L483.0,318.5 L484.4,318.5 L485.8,318.5 L487.2,318.5 L488.6,318.5 L490.0,318.5 L491.4,318.5 L492.8,318.5 L494.2,318.5 L495.6,318.5 L497.0,318.5 L498.4,318.5 L499.8,318.5 L501.2,318.5 L502.6,318.5 L504.0,318.5 L505.4,318.5 L506.8,318.5 L508.2,318.5 L509.6,318.5 L511.0,318.5 L512.4,318.5 L513.8,318.5 L515.3,318.5 L516.7,318.5 L518.1,318.5 L519.5,318.5 L520.9,318.5 L522.3,318.5 L523.7,318.5 L525.1,318.5 L526.5,318.5 L527.9,318.5 L529.3,318.5 L530.7,318.5 L532.1,318.5 L533.5,318.5 L534.9,318.5 L536.3,318.5 L537.7,318.5 L539.1,318.5 L540.5,318.5 L541.9,318.5 L543.3,318.5 L544.7,318.5 L546.1,318.5 L547.5,318.5 L548.9,318.5 L550.3,318.5 L551.7,318.5 L553.1,318.5 L554.6,318.5 L556.0,318.5 L557.4,318.5 L558.8,318.5 L560.2,318.5 L561.6,318.5 L563.0,318.5 L564.4,318.5 L565.8,318.5 L567.2,318.5 L568.6,318.5 L570.0,318.5 L571.4,318.5 L572.8,318.5 L574.2,318.5 L575.6,318.5 L577.0,318.5 L578.4,318.5 L579.8,318.5 L581.2,318.5 L582.6,318.5 L584.0,318.5 L585.4,318.5 L586.8,318.5 L588.2,318.5 L589.6,318.5 L591.0,318.5 L592.5,318.5 L593.9,318.5 L595.3,318.4 L596.7,318.4 L598.1,318.4 L599.5,318.4 L600.9,318.3 L602.3,318.3 L603.7,318.2 L605.1,318.2 L606.5,318.1 L607.9,318.0 L609.3,318.0 L610.7,317.9 L612.1,317.8 L613.5,317.7 L614.9,317.7 L616.3,317.6 L617.7,317.5 L619.1,317.4 L620.5,317.2 L621.9,317.0 L623.3,316.7 L624.7,316.3 L626.1,315.7 L627.5,315.1 L628.9,314.5 L630.3,313.7 L631.8,312.9 L633.2,312.1 L634.6,311.3 L636.0,310.4 L637.4,309.5 L638.8,308.6 L640.2,307.5 L641.6,306.2 L643.0,304.8 L644.4,303.4 L645.8,301.8 L647.2,300.3 L648.6,298.8 L650.0,297.3 L651.4,295.7 L652.8,294.1 L654.2,292.4 L655.6,290.7 L657.0,288.9 L658.4,287.2" stroke="#8fb0e2" stroke-width="0.8" fill="none" transform="translate(0.35,-0.75)" opacity="0.9"/>
<path d="M384.7,317.9 L386.1,317.9 L387.5,318.0 L388.9,318.0 L390.3,318.0 L391.7,318.0 L393.1,318.0 L394.5,318.1 L395.9,318.1 L397.4,318.1 L398.8,318.1 L400.2,318.1 L401.6,318.2 L403.0,318.2 L404.4,318.2 L405.8,318.2 L407.2,318.2 L408.6,318.2 L410.0,318.2 L411.4,318.3 L412.8,318.3 L414.2,318.3 L415.6,318.3 L417.0,318.3 L418.4,318.3 L419.8,318.3 L421.2,318.3 L422.6,318.3 L424.0,318.3 L425.4,318.3 L426.8,318.3 L428.2,318.3 L429.6,318.3 L431.0,318.3 L432.4,318.3 L433.8,318.3 L435.2,318.4 L436.7,318.4 L438.1,318.4 L439.5,318.4 L440.9,318.4 L442.3,318.4 L443.7,318.4 L445.1,318.4 L446.5,318.4 L447.9,318.4 L449.3,318.4 L450.7,318.4 L452.1,318.4 L453.5,318.4 L454.9,318.4 L456.3,318.4 L457.7,318.4 L459.1,318.4 L460.5,318.4 L461.9,318.4 L463.3,318.4 L464.7,318.4 L466.1,318.4 L467.5,318.4 L468.9,318.4 L470.3,318.5 L471.7,318.5 L473.1,318.5 L474.5,318.5 L476.0,318.5 L477.4,318.5 L478.8,318.5 L480.2,318.5 L481.6,318.5 L483.0,318.5 L484.4,318.5 L485.8,318.5 L487.2,318.5 L488.6,318.5 L490.0,318.5 L491.4,318.5 L492.8,318.5 L494.2,318.5 L495.6,318.5 L497.0,318.5 L498.4,318.5 L499.8,318.5 L501.2,318.5 L502.6,318.5 L504.0,318.5 L505.4,318.5 L506.8,318.5 L508.2,318.5 L509.6,318.5 L511.0,318.5 L512.4,318.5 L513.8,318.5 L515.3,318.5 L516.7,318.5 L518.1,318.5 L519.5,318.5 L520.9,318.5 L522.3,318.5 L523.7,318.5 L525.1,318.5 L526.5,318.5 L527.9,318.5 L529.3,318.5 L530.7,318.5 L532.1,318.5 L533.5,318.5 L534.9,318.5 L536.3,318.5 L537.7,318.5 L539.1,318.5 L540.5,318.5 L541.9,318.5 L543.3,318.5 L544.7,318.5 L546.1,318.5 L547.5,318.5 L548.9,318.5 L550.3,318.5 L551.7,318.5 L553.1,318.5 L554.6,318.5 L556.0,318.5 L557.4,318.5 L558.8,318.5 L560.2,318.5 L561.6,318.5 L563.0,318.5 L564.4,318.5 L565.8,318.5 L567.2,318.5 L568.6,318.5 L570.0,318.5 L571.4,318.5 L572.8,318.5 L574.2,318.5 L575.6,318.5 L577.0,318.5 L578.4,318.5 L579.8,318.5 L581.2,318.5 L582.6,318.5 L584.0,318.5 L585.4,318.5 L586.8,318.5 L588.2,318.5 L589.6,318.5 L591.0,318.5 L592.5,318.5 L593.9,318.5 L595.3,318.4 L596.7,318.4 L598.1,318.4 L599.5,318.4 L600.9,318.3 L602.3,318.3 L603.7,318.2 L605.1,318.2 L606.5,318.1 L607.9,318.0 L609.3,318.0 L610.7,317.9 L612.1,317.8 L613.5,317.7 L614.9,317.7 L616.3,317.6 L617.7,317.5 L619.1,317.4 L620.5,317.2 L621.9,317.0 L623.3,316.7 L624.7,316.3 L626.1,315.7 L627.5,315.1 L628.9,314.5 L630.3,313.7 L631.8,312.9 L633.2,312.1 L634.6,311.3 L636.0,310.4 L637.4,309.5 L638.8,308.6 L640.2,307.5 L641.6,306.2 L643.0,304.8 L644.4,303.4 L645.8,301.8 L647.2,300.3 L648.6,298.8 L650.0,297.3 L651.4,295.7 L652.8,294.1 L654.2,292.4 L655.6,290.7 L657.0,288.9 L658.4,287.2" stroke="#152e75" stroke-width="1" fill="none" stroke-linejoin="round"/>
<text x="546.6" y="240.45" font-size="8.2" text-anchor="start" font-weight="bold" fill="#111" textLength="12.4" lengthAdjust="spacingAndGlyphs">1-2</text>
<text x="616.8" y="305.25" font-size="8.2" text-anchor="start" font-weight="bold" fill="#111" textLength="17" lengthAdjust="spacingAndGlyphs">4-19</text>
<text x="662.3" y="317.15" font-size="8.2" text-anchor="start" font-weight="bold" fill="#111" textLength="4.4" lengthAdjust="spacingAndGlyphs">3</text>
<text x="180.2" y="366.6" font-size="13.9" text-anchor="start" font-weight="normal" fill="#111" textLength="15.4" lengthAdjust="spacingAndGlyphs">(k)</text>
<text x="331.9" y="364.3" font-size="6.3" text-anchor="start" font-weight="bold" fill="#111" textLength="47.1" lengthAdjust="spacingAndGlyphs">Amplification</text>
<path d="M295.75,371.9 V503 M365,371.9 V503 M434.25,371.9 V503 M503.5,371.9 V503 M228.5,499.3 H515.8 M228.5,478.7 H515.8 M228.5,458.1 H515.8 M228.5,437.5 H515.8 M228.5,416.9 H515.8 M228.5,396.3 H515.8 M228.5,375.7 H515.8" stroke="#767676" stroke-width="1" stroke-dasharray="1 3.4" fill="none"/>
<path d="M226.5,370.4 H516.8" stroke="#1c1c1c" stroke-width="1.3" fill="none"/>
<path d="M516.8,369.75 V503.5 M226.5,369.75 V503.5 H516.8" stroke="#1c1c1c" stroke-width="1.3" fill="none"/>
<path d="M224.9,503.42 H227.7 M515.6,503.42 H516.8 M223,499.3 H228.7 M514.6,499.3 H516.8 M224.9,495.18 H227.7 M515.6,495.18 H516.8 M224.9,491.06 H227.7 M515.6,491.06 H516.8 M224.9,486.94 H227.7 M515.6,486.94 H516.8 M224.9,482.82 H227.7 M515.6,482.82 H516.8 M223,478.7 H228.7 M514.6,478.7 H516.8 M224.9,474.58 H227.7 M515.6,474.58 H516.8 M224.9,470.46 H227.7 M515.6,470.46 H516.8 M224.9,466.34 H227.7 M515.6,466.34 H516.8 M224.9,462.22 H227.7 M515.6,462.22 H516.8 M223,458.1 H228.7 M514.6,458.1 H516.8 M224.9,453.98 H227.7 M515.6,453.98 H516.8 M224.9,449.86 H227.7 M515.6,449.86 H516.8 M224.9,445.74 H227.7 M515.6,445.74 H516.8 M224.9,441.62 H227.7 M515.6,441.62 H516.8 M223,437.5 H228.7 M514.6,437.5 H516.8 M224.9,433.38 H227.7 M515.6,433.38 H516.8 M224.9,429.26 H227.7 M515.6,429.26 H516.8 M224.9,425.14 H227.7 M515.6,425.14 H516.8 M224.9,421.02 H227.7 M515.6,421.02 H516.8 M223,416.9 H228.7 M514.6,416.9 H516.8 M224.9,412.78 H227.7 M515.6,412.78 H516.8 M224.9,408.66 H227.7 M515.6,408.66 H516.8 M224.9,404.54 H227.7 M515.6,404.54 H516.8 M224.9,400.42 H227.7 M515.6,400.42 H516.8 M223,396.3 H228.7 M514.6,396.3 H516.8 M224.9,392.18 H227.7 M515.6,392.18 H516.8 M224.9,388.06 H227.7 M515.6,388.06 H516.8 M224.9,383.94 H227.7 M515.6,383.94 H516.8 M224.9,379.82 H227.7 M515.6,379.82 H516.8 M223,375.7 H228.7 M514.6,375.7 H516.8 M224.9,371.58 H227.7 M515.6,371.58 H516.8 M226.5,501.7 V506.1 M226.5,370.4 V372.6 M240.35,502.5 V505.3 M240.35,370.4 V371.9 M254.2,502.5 V505.3 M254.2,370.4 V371.9 M268.05,502.5 V505.3 M268.05,370.4 V371.9 M281.9,502.5 V505.3 M281.9,370.4 V371.9 M295.75,501.7 V506.1 M295.75,370.4 V372.6 M309.6,502.5 V505.3 M309.6,370.4 V371.9 M323.45,502.5 V505.3 M323.45,370.4 V371.9 M337.3,502.5 V505.3 M337.3,370.4 V371.9 M351.15,502.5 V505.3 M351.15,370.4 V371.9 M365,501.7 V506.1 M365,370.4 V372.6 M378.85,502.5 V505.3 M378.85,370.4 V371.9 M392.7,502.5 V505.3 M392.7,370.4 V371.9 M406.55,502.5 V505.3 M406.55,370.4 V371.9 M420.4,502.5 V505.3 M420.4,370.4 V371.9 M434.25,501.7 V506.1 M434.25,370.4 V372.6 M448.1,502.5 V505.3 M448.1,370.4 V371.9 M461.95,502.5 V505.3 M461.95,370.4 V371.9 M475.8,502.5 V505.3 M475.8,370.4 V371.9 M489.65,502.5 V505.3 M489.65,370.4 V371.9 M503.5,501.7 V506.1 M503.5,370.4 V372.6" stroke="#1c1c1c" stroke-width="1" fill="none"/>
<text x="219.1" y="500.4" font-size="5.8" text-anchor="end" font-weight="bold" fill="#1e1e26" textLength="4.3" lengthAdjust="spacingAndGlyphs">0</text>
<text x="219.1" y="479.8" font-size="5.8" text-anchor="end" font-weight="bold" fill="#1e1e26" textLength="17.2" lengthAdjust="spacingAndGlyphs">1000</text>
<text x="219.1" y="459.2" font-size="5.8" text-anchor="end" font-weight="bold" fill="#1e1e26" textLength="17.2" lengthAdjust="spacingAndGlyphs">2000</text>
<text x="219.1" y="438.6" font-size="5.8" text-anchor="end" font-weight="bold" fill="#1e1e26" textLength="17.2" lengthAdjust="spacingAndGlyphs">3000</text>
<text x="219.1" y="418" font-size="5.8" text-anchor="end" font-weight="bold" fill="#1e1e26" textLength="17.2" lengthAdjust="spacingAndGlyphs">4000</text>
<text x="219.1" y="397.4" font-size="5.8" text-anchor="end" font-weight="bold" fill="#1e1e26" textLength="17.2" lengthAdjust="spacingAndGlyphs">5000</text>
<text x="219.1" y="376.8" font-size="5.8" text-anchor="end" font-weight="bold" fill="#1e1e26" textLength="17.2" lengthAdjust="spacingAndGlyphs">6000</text>
<text x="226.5" y="513.7" font-size="6.2" text-anchor="middle" font-weight="bold" fill="#1e1e26" textLength="4.1" lengthAdjust="spacingAndGlyphs">0</text>
<text x="295.75" y="513.7" font-size="6.2" text-anchor="middle" font-weight="bold" fill="#1e1e26" textLength="8.2" lengthAdjust="spacingAndGlyphs">10</text>
<text x="365" y="513.7" font-size="6.2" text-anchor="middle" font-weight="bold" fill="#1e1e26" textLength="8.2" lengthAdjust="spacingAndGlyphs">20</text>
<text x="434.25" y="513.7" font-size="6.2" text-anchor="middle" font-weight="bold" fill="#1e1e26" textLength="8.2" lengthAdjust="spacingAndGlyphs">30</text>
<text x="503.5" y="513.7" font-size="6.2" text-anchor="middle" font-weight="bold" fill="#1e1e26" textLength="8.2" lengthAdjust="spacingAndGlyphs">40</text>
<text x="359.8" y="525.8" font-size="6.5" text-anchor="start" font-weight="bold" fill="#1a1a1a" textLength="23.5" lengthAdjust="spacingAndGlyphs">Cycles</text>
<text transform="translate(195.2,436.3) rotate(-90)" x="0" y="0" font-size="6.2" font-weight="bold" text-anchor="middle" fill="#1a1a1a" textLength="11.1" lengthAdjust="spacingAndGlyphs">RFU</text>
<rect x="488.65" y="518.85" width="8.3" height="7.1" rx="2" fill="#ededed" stroke="#3c3c3c" stroke-width="1"/>
<clipPath id="clipk"><rect x="0" y="0" width="527" height="528"/></clipPath>
<g clip-path="url(#clipk)"><text x="502.1" y="525.1" font-size="8" text-anchor="start" font-weight="normal" fill="#15151c" textLength="35.2" lengthAdjust="spacingAndGlyphs" stroke="#15151c" stroke-width="0.22">Log Scale</text></g>
<path d="M233.43,493.41 H503.5" stroke="#141a40" stroke-width="1.3" fill="none"/>
<path d="M233.43,499.71 H503.5" stroke="#0e2672" stroke-width="1.9" fill="none"/>
<path d="M233.4,495.0 L234.1,495.2 L234.8,495.4 L235.5,495.5 L236.2,495.7 L236.9,495.9 L237.6,496.0 L238.3,496.2 L239.0,496.4 L239.7,496.5 L240.3,496.6 L241.0,496.7 L241.7,496.9 L242.4,497.0 L243.1,497.1 L243.8,497.2 L244.5,497.3 L245.2,497.4 L245.9,497.5 L246.6,497.6 L247.3,497.7 L248.0,497.7 L248.7,497.8 L249.4,497.9 L250.0,497.9 L250.7,498.0 L251.4,498.1 L252.1,498.1 L252.8,498.2 L253.5,498.3 L254.2,498.3 L254.9,498.4 L255.6,498.4 L256.3,498.5 L257.0,498.5 L257.7,498.6 L258.4,498.6 L259.0,498.7 L259.7,498.7 L260.4,498.7 L261.1,498.7 L261.8,498.8 L262.5,498.8 L263.2,498.8 L263.9,498.8 L264.6,498.9 L265.3,498.9 L266.0,498.9 L266.7,498.9 L267.4,499.0 L268.0,499.0 L268.7,499.0 L269.4,499.0 L270.1,499.0 L270.8,499.1 L271.5,499.1 L272.2,499.1 L272.9,499.1 L273.6,499.1 L274.3,499.1 L275.0,499.1 L275.0,499.3 L274.3,499.3 L273.6,499.3 L272.9,499.3 L272.2,499.3 L271.5,499.4 L270.8,499.4 L270.1,499.4 L269.4,499.4 L268.7,499.4 L268.1,499.4 L267.4,499.4 L266.7,499.5 L266.0,499.5 L265.3,499.5 L264.6,499.5 L263.9,499.5 L263.2,499.5 L262.5,499.5 L261.8,499.6 L261.1,499.6 L260.4,499.6 L259.7,499.6 L259.0,499.6 L258.4,499.6 L257.7,499.7 L257.0,499.7 L256.3,499.7 L255.6,499.7 L254.9,499.7 L254.2,499.7 L253.5,499.8 L252.8,499.8 L252.1,499.8 L251.4,499.8 L250.7,499.8 L250.0,499.8 L249.4,499.9 L248.7,499.9 L248.0,499.9 L247.3,499.9 L246.6,499.9 L245.9,500.0 L245.2,500.0 L244.5,500.0 L243.8,500.0 L243.1,500.0 L242.4,500.1 L241.7,500.1 L241.0,500.1 L240.4,500.1 L239.7,500.1 L239.0,500.2 L238.3,500.2 L237.6,500.2 L236.9,500.2 L236.2,500.2 L235.5,500.3 L234.8,500.3 L234.1,500.3 L233.4,500.3Z" fill="#234f9c" opacity="0.85"/>
<path d="M233.4,495.2 L234.8,495.5 L236.2,495.8 L237.6,496.1 L239.0,496.4 L240.3,496.6 L241.7,496.8 L243.1,497.0 L244.5,497.2 L245.9,497.3 L247.3,497.5 L248.7,497.6 L250.0,497.7 L251.4,497.9 L252.8,498.0 L254.2,498.1 L255.6,498.2 L257.0,498.2 L258.4,498.3 L259.7,498.4 L261.1,498.5 L262.5,498.6 L263.9,498.6 L265.3,498.7 L266.7,498.8 L268.1,498.8 L269.4,498.9 L270.8,498.9 L272.2,499.0 L273.6,499.1 L275.0,499.1 L276.4,499.1 L277.7,499.2 L279.1,499.2 L280.5,499.3 L281.9,499.3 L283.3,499.3 L284.7,499.4 L286.1,499.4 L287.4,499.4 L288.8,499.5 L290.2,499.5 L291.6,499.5 L293.0,499.5 L294.4,499.6 L295.8,499.6 L297.1,499.6 L298.5,499.7 L299.9,499.7 L301.3,499.7 L302.7,499.7 L304.1,499.8 L305.4,499.8 L306.8,499.8 L308.2,499.8 L309.6,499.8 L311.0,499.8 L312.4,499.9 L313.8,499.9 L315.1,499.9 L316.5,499.9 L317.9,499.9 L319.3,499.9 L320.7,499.9 L322.1,499.9 L323.4,499.9 L324.8,499.9 L326.2,499.9 L327.6,499.9 L329.0,499.9 L330.4,499.9 L331.8,499.9 L333.1,499.8 L334.5,499.8 L335.9,499.8 L337.3,499.8 L338.7,499.8 L340.1,499.7 L341.5,499.7 L342.8,499.7 L344.2,499.7 L345.6,499.7 L347.0,499.7 L348.4,499.6 L349.8,499.6 L351.1,499.6 L352.5,499.6 L353.9,499.6 L355.3,499.6 L356.7,499.6 L358.1,499.6 L359.5,499.6 L360.8,499.4 L362.2,499.1 L363.6,498.8 L365.0,498.4 L366.4,498.0 L367.8,497.5 L369.2,496.9 L370.5,496.3 L371.9,495.6 L373.3,494.9 L374.7,494.0 L376.1,493.1 L377.5,492.1 L378.8,491.0 L380.2,489.8 L381.6,488.4 L383.0,487.0 L384.4,485.5 L385.8,484.0 L387.2,482.3 L388.5,480.5 L389.9,478.6 L391.3,476.7 L392.7,474.7 L394.1,472.6 L395.5,470.5 L396.9,468.2 L398.2,466.0 L399.6,463.7 L401.0,461.4 L402.4,459.0 L403.8,456.6 L405.2,454.3 L406.5,451.9 L407.9,449.5 L409.3,447.1 L410.7,444.7 L412.1,442.3 L413.5,439.9 L414.9,437.6 L416.2,435.3 L417.6,432.9 L419.0,430.6 L420.4,428.4 L421.8,426.1 L423.2,423.9 L424.6,421.8 L425.9,419.7 L427.3,417.6 L428.7,415.6 L430.1,413.6 L431.5,411.7 L432.9,409.9 L434.2,408.1 L435.6,406.4 L437.0,404.8 L438.4,403.2 L439.8,401.7 L441.2,400.2 L442.6,398.8 L443.9,397.4 L445.3,396.2 L446.7,394.9 L448.1,393.7 L449.5,392.6 L450.9,391.6 L452.3,390.6 L453.6,389.6 L455.0,388.7 L456.4,387.9 L457.8,387.1 L459.2,386.3 L460.6,385.6 L461.9,384.9 L463.3,384.3 L464.7,383.8 L466.1,383.3 L467.5,382.8 L468.9,382.3 L470.3,381.9 L471.6,381.6 L473.0,381.2 L474.4,380.9 L475.8,380.6 L477.2,380.3 L478.6,380.0 L480.0,379.8 L481.3,379.5 L482.7,379.3 L484.1,379.0 L485.5,378.8 L486.9,378.6 L488.3,378.4 L489.6,378.2 L491.0,378.0 L492.4,377.8 L493.8,377.6 L495.2,377.4 L496.6,377.2 L498.0,377.0 L499.3,376.9 L500.7,376.7 L502.1,376.6 L503.5,376.4" stroke="#8fb0e2" stroke-width="0.8" fill="none" transform="translate(0.35,-0.75)" opacity="0.9"/>
<path d="M233.4,495.2 L234.8,495.5 L236.2,495.8 L237.6,496.1 L239.0,496.4 L240.3,496.6 L241.7,496.8 L243.1,497.0 L244.5,497.2 L245.9,497.3 L247.3,497.5 L248.7,497.6 L250.0,497.7 L251.4,497.9 L252.8,498.0 L254.2,498.1 L255.6,498.2 L257.0,498.2 L258.4,498.3 L259.7,498.4 L261.1,498.5 L262.5,498.6 L263.9,498.6 L265.3,498.7 L266.7,498.8 L268.1,498.8 L269.4,498.9 L270.8,498.9 L272.2,499.0 L273.6,499.1 L275.0,499.1 L276.4,499.1 L277.7,499.2 L279.1,499.2 L280.5,499.3 L281.9,499.3 L283.3,499.3 L284.7,499.4 L286.1,499.4 L287.4,499.4 L288.8,499.5 L290.2,499.5 L291.6,499.5 L293.0,499.5 L294.4,499.6 L295.8,499.6 L297.1,499.6 L298.5,499.7 L299.9,499.7 L301.3,499.7 L302.7,499.7 L304.1,499.8 L305.4,499.8 L306.8,499.8 L308.2,499.8 L309.6,499.8 L311.0,499.8 L312.4,499.9 L313.8,499.9 L315.1,499.9 L316.5,499.9 L317.9,499.9 L319.3,499.9 L320.7,499.9 L322.1,499.9 L323.4,499.9 L324.8,499.9 L326.2,499.9 L327.6,499.9 L329.0,499.9 L330.4,499.9 L331.8,499.9 L333.1,499.8 L334.5,499.8 L335.9,499.8 L337.3,499.8 L338.7,499.8 L340.1,499.7 L341.5,499.7 L342.8,499.7 L344.2,499.7 L345.6,499.7 L347.0,499.7 L348.4,499.6 L349.8,499.6 L351.1,499.6 L352.5,499.6 L353.9,499.6 L355.3,499.6 L356.7,499.6 L358.1,499.6 L359.5,499.6 L360.8,499.4 L362.2,499.1 L363.6,498.8 L365.0,498.4 L366.4,498.0 L367.8,497.5 L369.2,496.9 L370.5,496.3 L371.9,495.6 L373.3,494.9 L374.7,494.0 L376.1,493.1 L377.5,492.1 L378.8,491.0 L380.2,489.8 L381.6,488.4 L383.0,487.0 L384.4,485.5 L385.8,484.0 L387.2,482.3 L388.5,480.5 L389.9,478.6 L391.3,476.7 L392.7,474.7 L394.1,472.6 L395.5,470.5 L396.9,468.2 L398.2,466.0 L399.6,463.7 L401.0,461.4 L402.4,459.0 L403.8,456.6 L405.2,454.3 L406.5,451.9 L407.9,449.5 L409.3,447.1 L410.7,444.7 L412.1,442.3 L413.5,439.9 L414.9,437.6 L416.2,435.3 L417.6,432.9 L419.0,430.6 L420.4,428.4 L421.8,426.1 L423.2,423.9 L424.6,421.8 L425.9,419.7 L427.3,417.6 L428.7,415.6 L430.1,413.6 L431.5,411.7 L432.9,409.9 L434.2,408.1 L435.6,406.4 L437.0,404.8 L438.4,403.2 L439.8,401.7 L441.2,400.2 L442.6,398.8 L443.9,397.4 L445.3,396.2 L446.7,394.9 L448.1,393.7 L449.5,392.6 L450.9,391.6 L452.3,390.6 L453.6,389.6 L455.0,388.7 L456.4,387.9 L457.8,387.1 L459.2,386.3 L460.6,385.6 L461.9,384.9 L463.3,384.3 L464.7,383.8 L466.1,383.3 L467.5,382.8 L468.9,382.3 L470.3,381.9 L471.6,381.6 L473.0,381.2 L474.4,380.9 L475.8,380.6 L477.2,380.3 L478.6,380.0 L480.0,379.8 L481.3,379.5 L482.7,379.3 L484.1,379.0 L485.5,378.8 L486.9,378.6 L488.3,378.4 L489.6,378.2 L491.0,378.0 L492.4,377.8 L493.8,377.6 L495.2,377.4 L496.6,377.2 L498.0,377.0 L499.3,376.9 L500.7,376.7 L502.1,376.6 L503.5,376.4" stroke="#152e75" stroke-width="1" fill="none" stroke-linejoin="round"/>
<path d="M233.4,496.2 L234.8,496.4 L236.2,496.7 L237.6,496.9 L239.0,497.1 L240.3,497.2 L241.7,497.4 L243.1,497.5 L244.5,497.7 L245.9,497.8 L247.3,498.0 L248.7,498.1 L250.0,498.2 L251.4,498.3 L252.8,498.4 L254.2,498.5 L255.6,498.6 L257.0,498.6 L258.4,498.7 L259.7,498.8 L261.1,498.8 L262.5,498.9 L263.9,498.9 L265.3,499.0 L266.7,499.1 L268.1,499.1 L269.4,499.2 L270.8,499.2 L272.2,499.2 L273.6,499.3 L275.0,499.3 L276.4,499.4 L277.7,499.4 L279.1,499.4 L280.5,499.5 L281.9,499.5 L283.3,499.5 L284.7,499.6 L286.1,499.6 L287.4,499.6 L288.8,499.7 L290.2,499.7 L291.6,499.7 L293.0,499.7 L294.4,499.8 L295.8,499.8 L297.1,499.8 L298.5,499.9 L299.9,499.9 L301.3,499.9 L302.7,499.9 L304.1,500.0 L305.4,500.0 L306.8,500.0 L308.2,500.0 L309.6,500.0 L311.0,500.0 L312.4,500.1 L313.8,500.1 L315.1,500.1 L316.5,500.1 L317.9,500.1 L319.3,500.1 L320.7,500.1 L322.1,500.1 L323.4,500.1 L324.8,500.1 L326.2,500.1 L327.6,500.1 L329.0,500.1 L330.4,500.1 L331.8,500.1 L333.1,500.1 L334.5,500.0 L335.9,500.0 L337.3,500.0 L338.7,500.0 L340.1,500.0 L341.5,499.9 L342.8,499.9 L344.2,499.9 L345.6,499.9 L347.0,499.8 L348.4,499.8 L349.8,499.8 L351.1,499.8 L352.5,499.8 L353.9,499.7 L355.3,499.7 L356.7,499.7 L358.1,499.6 L359.5,499.6 L360.8,499.5 L362.2,499.3 L363.6,499.0 L365.0,498.6 L366.4,498.2 L367.8,497.8 L369.2,497.3 L370.5,496.7 L371.9,496.1 L373.3,495.3 L374.7,494.5 L376.1,493.6 L377.5,492.7 L378.8,491.6 L380.2,490.4 L381.6,489.1 L383.0,487.8 L384.4,486.3 L385.8,484.8 L387.2,483.1 L388.5,481.4 L389.9,479.5 L391.3,477.6 L392.7,475.7 L394.1,473.6 L395.5,471.5 L396.9,469.3 L398.2,467.1 L399.6,464.9 L401.0,462.6 L402.4,460.3 L403.8,457.9 L405.2,455.6 L406.5,453.2 L407.9,450.9 L409.3,448.5 L410.7,446.2 L412.1,443.9 L413.5,441.5 L414.9,439.2 L416.2,436.9 L417.6,434.7 L419.0,432.4 L420.4,430.2 L421.8,428.0 L423.2,425.9 L424.6,423.8 L425.9,421.7 L427.3,419.7 L428.7,417.8 L430.1,415.9 L431.5,414.1 L432.9,412.3 L434.2,410.6 L435.6,408.9 L437.0,407.3 L438.4,405.7 L439.8,404.3 L441.2,402.8 L442.6,401.5 L443.9,400.1 L445.3,398.9 L446.7,397.7 L448.1,396.5 L449.5,395.4 L450.9,394.3 L452.3,393.3 L453.6,392.4 L455.0,391.4 L456.4,390.6 L457.8,389.8 L459.2,389.0 L460.6,388.2 L461.9,387.5 L463.3,386.9 L464.7,386.3 L466.1,385.7 L467.5,385.2 L468.9,384.7 L470.3,384.2 L471.6,383.8 L473.0,383.4 L474.4,383.1 L475.8,382.7 L477.2,382.4 L478.6,382.1 L480.0,381.9 L481.3,381.6 L482.7,381.4 L484.1,381.1 L485.5,380.9 L486.9,380.7 L488.3,380.5 L489.6,380.3 L491.0,380.1 L492.4,379.9 L493.8,379.7 L495.2,379.6 L496.6,379.4 L498.0,379.3 L499.3,379.1 L500.7,379.0 L502.1,378.9 L503.5,378.7" stroke="#8fb0e2" stroke-width="0.8" fill="none" transform="translate(0.35,-0.75)" opacity="0.9"/>
<path d="M233.4,496.2 L234.8,496.4 L236.2,496.7 L237.6,496.9 L239.0,497.1 L240.3,497.2 L241.7,497.4 L243.1,497.5 L244.5,497.7 L245.9,497.8 L247.3,498.0 L248.7,498.1 L250.0,498.2 L251.4,498.3 L252.8,498.4 L254.2,498.5 L255.6,498.6 L257.0,498.6 L258.4,498.7 L259.7,498.8 L261.1,498.8 L262.5,498.9 L263.9,498.9 L265.3,499.0 L266.7,499.1 L268.1,499.1 L269.4,499.2 L270.8,499.2 L272.2,499.2 L273.6,499.3 L275.0,499.3 L276.4,499.4 L277.7,499.4 L279.1,499.4 L280.5,499.5 L281.9,499.5 L283.3,499.5 L284.7,499.6 L286.1,499.6 L287.4,499.6 L288.8,499.7 L290.2,499.7 L291.6,499.7 L293.0,499.7 L294.4,499.8 L295.8,499.8 L297.1,499.8 L298.5,499.9 L299.9,499.9 L301.3,499.9 L302.7,499.9 L304.1,500.0 L305.4,500.0 L306.8,500.0 L308.2,500.0 L309.6,500.0 L311.0,500.0 L312.4,500.1 L313.8,500.1 L315.1,500.1 L316.5,500.1 L317.9,500.1 L319.3,500.1 L320.7,500.1 L322.1,500.1 L323.4,500.1 L324.8,500.1 L326.2,500.1 L327.6,500.1 L329.0,500.1 L330.4,500.1 L331.8,500.1 L333.1,500.1 L334.5,500.0 L335.9,500.0 L337.3,500.0 L338.7,500.0 L340.1,500.0 L341.5,499.9 L342.8,499.9 L344.2,499.9 L345.6,499.9 L347.0,499.8 L348.4,499.8 L349.8,499.8 L351.1,499.8 L352.5,499.8 L353.9,499.7 L355.3,499.7 L356.7,499.7 L358.1,499.6 L359.5,499.6 L360.8,499.5 L362.2,499.3 L363.6,499.0 L365.0,498.6 L366.4,498.2 L367.8,497.8 L369.2,497.3 L370.5,496.7 L371.9,496.1 L373.3,495.3 L374.7,494.5 L376.1,493.6 L377.5,492.7 L378.8,491.6 L380.2,490.4 L381.6,489.1 L383.0,487.8 L384.4,486.3 L385.8,484.8 L387.2,483.1 L388.5,481.4 L389.9,479.5 L391.3,477.6 L392.7,475.7 L394.1,473.6 L395.5,471.5 L396.9,469.3 L398.2,467.1 L399.6,464.9 L401.0,462.6 L402.4,460.3 L403.8,457.9 L405.2,455.6 L406.5,453.2 L407.9,450.9 L409.3,448.5 L410.7,446.2 L412.1,443.9 L413.5,441.5 L414.9,439.2 L416.2,436.9 L417.6,434.7 L419.0,432.4 L420.4,430.2 L421.8,428.0 L423.2,425.9 L424.6,423.8 L425.9,421.7 L427.3,419.7 L428.7,417.8 L430.1,415.9 L431.5,414.1 L432.9,412.3 L434.2,410.6 L435.6,408.9 L437.0,407.3 L438.4,405.7 L439.8,404.3 L441.2,402.8 L442.6,401.5 L443.9,400.1 L445.3,398.9 L446.7,397.7 L448.1,396.5 L449.5,395.4 L450.9,394.3 L452.3,393.3 L453.6,392.4 L455.0,391.4 L456.4,390.6 L457.8,389.8 L459.2,389.0 L460.6,388.2 L461.9,387.5 L463.3,386.9 L464.7,386.3 L466.1,385.7 L467.5,385.2 L468.9,384.7 L470.3,384.2 L471.6,383.8 L473.0,383.4 L474.4,383.1 L475.8,382.7 L477.2,382.4 L478.6,382.1 L480.0,381.9 L481.3,381.6 L482.7,381.4 L484.1,381.1 L485.5,380.9 L486.9,380.7 L488.3,380.5 L489.6,380.3 L491.0,380.1 L492.4,379.9 L493.8,379.7 L495.2,379.6 L496.6,379.4 L498.0,379.3 L499.3,379.1 L500.7,379.0 L502.1,378.9 L503.5,378.7" stroke="#152e75" stroke-width="1" fill="none" stroke-linejoin="round"/>
<path d="M233.4,495.6 L234.8,495.8 L236.2,496.0 L237.6,496.3 L239.0,496.5 L240.3,496.7 L241.7,496.9 L243.1,497.0 L244.5,497.2 L245.9,497.3 L247.3,497.4 L248.7,497.5 L250.0,497.6 L251.4,497.7 L252.8,497.8 L254.2,497.9 L255.6,498.0 L257.0,498.0 L258.4,498.1 L259.7,498.2 L261.1,498.3 L262.5,498.3 L263.9,498.4 L265.3,498.4 L266.7,498.5 L268.1,498.6 L269.4,498.6 L270.8,498.7 L272.2,498.7 L273.6,498.8 L275.0,498.8 L276.4,498.9 L277.7,498.9 L279.1,499.0 L280.5,499.0 L281.9,499.0 L283.3,499.1 L284.7,499.1 L286.1,499.1 L287.4,499.2 L288.8,499.2 L290.2,499.2 L291.6,499.2 L293.0,499.3 L294.4,499.3 L295.8,499.3 L297.1,499.3 L298.5,499.3 L299.9,499.3 L301.3,499.4 L302.7,499.4 L304.1,499.4 L305.4,499.4 L306.8,499.4 L308.2,499.4 L309.6,499.4 L311.0,499.5 L312.4,499.5 L313.8,499.5 L315.1,499.5 L316.5,499.5 L317.9,499.5 L319.3,499.5 L320.7,499.5 L322.1,499.5 L323.4,499.6 L324.8,499.6 L326.2,499.6 L327.6,499.6 L329.0,499.6 L330.4,499.6 L331.8,499.6 L333.1,499.6 L334.5,499.6 L335.9,499.6 L337.3,499.6 L338.7,499.6 L340.1,499.7 L341.5,499.7 L342.8,499.7 L344.2,499.7 L345.6,499.7 L347.0,499.7 L348.4,499.7 L349.8,499.7 L351.1,499.7 L352.5,499.7 L353.9,499.7 L355.3,499.7 L356.7,499.7 L358.1,499.7 L359.5,499.7 L360.8,499.7 L362.2,499.7 L363.6,499.7 L365.0,499.7 L366.4,499.7 L367.8,499.7 L369.2,499.7 L370.5,499.7 L371.9,499.7 L373.3,499.7 L374.7,499.7 L376.1,499.7 L377.5,499.7 L378.8,499.7 L380.2,499.7 L381.6,499.7 L383.0,499.7 L384.4,499.7 L385.8,499.7 L387.2,499.6 L388.5,499.6 L389.9,499.6 L391.3,499.6 L392.7,499.6 L394.1,499.6 L395.5,499.6 L396.9,499.6 L398.2,499.6 L399.6,499.6 L401.0,499.6 L402.4,499.6 L403.8,499.5 L405.2,499.5 L406.5,499.5 L407.9,499.5 L409.3,499.5 L410.7,499.5 L412.1,499.5 L413.5,499.5 L414.9,499.5 L416.2,499.4 L417.6,499.4 L419.0,499.4 L420.4,499.4 L421.8,499.4 L423.2,499.4 L424.6,499.4 L425.9,499.4 L427.3,499.4 L428.7,499.3 L430.1,499.3 L431.5,499.3 L432.9,499.3 L434.2,499.3 L435.6,499.3 L437.0,499.3 L438.4,499.3 L439.8,499.3 L441.2,499.3 L442.6,499.2 L443.9,499.2 L445.3,499.2 L446.7,499.2 L448.1,499.2 L449.5,499.2 L450.9,499.2 L452.3,499.2 L453.6,499.2 L455.0,499.2 L456.4,499.1 L457.8,499.1 L459.2,499.1 L460.6,499.1 L461.9,499.1 L463.3,499.1 L464.7,499.1 L466.1,499.0 L467.5,499.0 L468.9,499.0 L470.3,499.0 L471.6,498.9 L473.0,498.9 L474.4,498.9 L475.8,498.8 L477.2,498.7 L478.6,498.6 L480.0,498.5 L481.3,498.3 L482.7,498.1 L484.1,497.8 L485.5,497.6 L486.9,497.3 L488.3,497.1 L489.6,496.8 L491.0,496.6 L492.4,496.3 L493.8,495.9 L495.2,495.6 L496.6,495.2 L498.0,494.8 L499.3,494.4 L500.7,494.0 L502.1,493.6 L503.5,493.1" stroke="#8fb0e2" stroke-width="0.8" fill="none" transform="translate(0.35,-0.75)" opacity="0.9"/>
<path d="M233.4,495.6 L234.8,495.8 L236.2,496.0 L237.6,496.3 L239.0,496.5 L240.3,496.7 L241.7,496.9 L243.1,497.0 L244.5,497.2 L245.9,497.3 L247.3,497.4 L248.7,497.5 L250.0,497.6 L251.4,497.7 L252.8,497.8 L254.2,497.9 L255.6,498.0 L257.0,498.0 L258.4,498.1 L259.7,498.2 L261.1,498.3 L262.5,498.3 L263.9,498.4 L265.3,498.4 L266.7,498.5 L268.1,498.6 L269.4,498.6 L270.8,498.7 L272.2,498.7 L273.6,498.8 L275.0,498.8 L276.4,498.9 L277.7,498.9 L279.1,499.0 L280.5,499.0 L281.9,499.0 L283.3,499.1 L284.7,499.1 L286.1,499.1 L287.4,499.2 L288.8,499.2 L290.2,499.2 L291.6,499.2 L293.0,499.3 L294.4,499.3 L295.8,499.3 L297.1,499.3 L298.5,499.3 L299.9,499.3 L301.3,499.4 L302.7,499.4 L304.1,499.4 L305.4,499.4 L306.8,499.4 L308.2,499.4 L309.6,499.4 L311.0,499.5 L312.4,499.5 L313.8,499.5 L315.1,499.5 L316.5,499.5 L317.9,499.5 L319.3,499.5 L320.7,499.5 L322.1,499.5 L323.4,499.6 L324.8,499.6 L326.2,499.6 L327.6,499.6 L329.0,499.6 L330.4,499.6 L331.8,499.6 L333.1,499.6 L334.5,499.6 L335.9,499.6 L337.3,499.6 L338.7,499.6 L340.1,499.7 L341.5,499.7 L342.8,499.7 L344.2,499.7 L345.6,499.7 L347.0,499.7 L348.4,499.7 L349.8,499.7 L351.1,499.7 L352.5,499.7 L353.9,499.7 L355.3,499.7 L356.7,499.7 L358.1,499.7 L359.5,499.7 L360.8,499.7 L362.2,499.7 L363.6,499.7 L365.0,499.7 L366.4,499.7 L367.8,499.7 L369.2,499.7 L370.5,499.7 L371.9,499.7 L373.3,499.7 L374.7,499.7 L376.1,499.7 L377.5,499.7 L378.8,499.7 L380.2,499.7 L381.6,499.7 L383.0,499.7 L384.4,499.7 L385.8,499.7 L387.2,499.6 L388.5,499.6 L389.9,499.6 L391.3,499.6 L392.7,499.6 L394.1,499.6 L395.5,499.6 L396.9,499.6 L398.2,499.6 L399.6,499.6 L401.0,499.6 L402.4,499.6 L403.8,499.5 L405.2,499.5 L406.5,499.5 L407.9,499.5 L409.3,499.5 L410.7,499.5 L412.1,499.5 L413.5,499.5 L414.9,499.5 L416.2,499.4 L417.6,499.4 L419.0,499.4 L420.4,499.4 L421.8,499.4 L423.2,499.4 L424.6,499.4 L425.9,499.4 L427.3,499.4 L428.7,499.3 L430.1,499.3 L431.5,499.3 L432.9,499.3 L434.2,499.3 L435.6,499.3 L437.0,499.3 L438.4,499.3 L439.8,499.3 L441.2,499.3 L442.6,499.2 L443.9,499.2 L445.3,499.2 L446.7,499.2 L448.1,499.2 L449.5,499.2 L450.9,499.2 L452.3,499.2 L453.6,499.2 L455.0,499.2 L456.4,499.1 L457.8,499.1 L459.2,499.1 L460.6,499.1 L461.9,499.1 L463.3,499.1 L464.7,499.1 L466.1,499.0 L467.5,499.0 L468.9,499.0 L470.3,499.0 L471.6,498.9 L473.0,498.9 L474.4,498.9 L475.8,498.8 L477.2,498.7 L478.6,498.6 L480.0,498.5 L481.3,498.3 L482.7,498.1 L484.1,497.8 L485.5,497.6 L486.9,497.3 L488.3,497.1 L489.6,496.8 L491.0,496.6 L492.4,496.3 L493.8,495.9 L495.2,495.6 L496.6,495.2 L498.0,494.8 L499.3,494.4 L500.7,494.0 L502.1,493.6 L503.5,493.1" stroke="#152e75" stroke-width="1" fill="none" stroke-linejoin="round"/>
<text x="390.5" y="425.55" font-size="8.2" text-anchor="start" font-weight="bold" fill="#111" textLength="12.5" lengthAdjust="spacingAndGlyphs">1-2</text>
<text x="472.5" y="493.15" font-size="8.2" text-anchor="start" font-weight="bold" fill="#111" textLength="17.5" lengthAdjust="spacingAndGlyphs">4-19</text>
<text x="508.5" y="501.95" font-size="8.2" text-anchor="start" font-weight="bold" fill="#111" textLength="4.7" lengthAdjust="spacingAndGlyphs">3</text>
</svg>
</body></html>
